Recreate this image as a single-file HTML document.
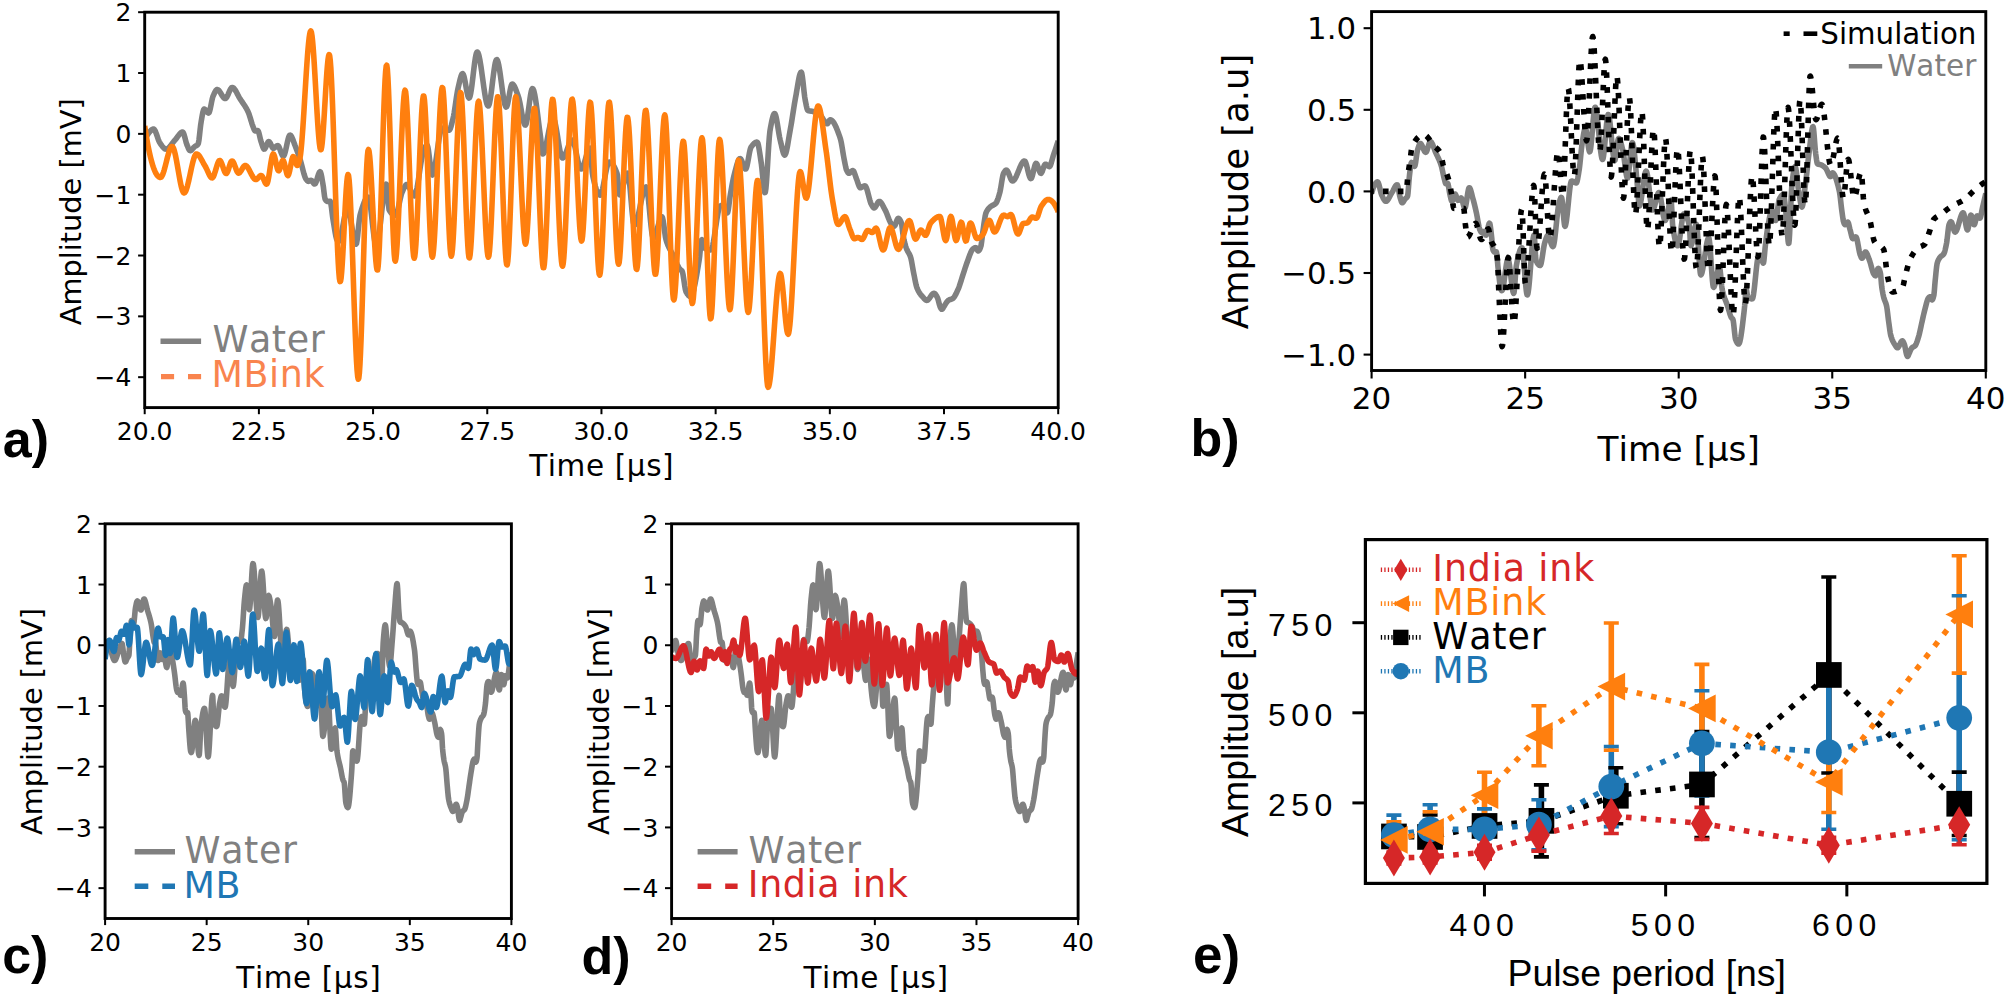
<!DOCTYPE html>
<html><head><meta charset="utf-8"><title>Figure</title>
<style>html,body{margin:0;padding:0;background:#fff}svg{display:block}text{font-kerning:none}</style>
</head><body>
<svg width="2006" height="998" viewBox="0 0 2006 998">
<rect width="2006" height="998" fill="#fff"/>
<defs>
<clipPath id="clipa"><rect x="144.70" y="12.20" width="913.50" height="395.40"/></clipPath>
<clipPath id="clipb"><rect x="1371.60" y="11.60" width="614.20" height="358.90"/></clipPath>
<clipPath id="clipc"><rect x="105.10" y="523.80" width="406.30" height="394.70"/></clipPath>
<clipPath id="clipd"><rect x="671.60" y="523.80" width="406.50" height="394.70"/></clipPath>
<clipPath id="clipe"><rect x="1365.40" y="539.60" width="621.50" height="343.80"/></clipPath>
</defs>
<polyline clip-path="url(#clipa)" points="144.70,140.96 145.27,139.50 145.84,138.10 146.41,136.79 146.98,135.62 147.55,134.61 148.13,133.80 148.70,133.06 149.27,132.33 149.84,131.63 150.41,130.98 150.98,130.39 151.55,129.89 152.12,129.50 152.69,129.22 153.26,129.08 153.83,129.15 154.41,129.65 154.98,130.55 155.55,131.75 156.12,133.18 156.69,134.77 157.26,136.44 157.83,138.10 158.40,139.69 158.97,141.12 159.54,142.32 160.12,143.22 160.69,144.02 161.26,144.83 161.83,145.63 162.40,146.39 162.97,147.10 163.54,147.74 164.11,148.28 164.68,148.71 165.25,149.01 165.82,149.15 166.40,149.12 166.97,148.96 167.54,148.68 168.11,148.28 168.68,147.80 169.25,147.23 169.82,146.59 170.39,145.90 170.96,145.18 171.53,144.42 172.11,143.65 172.68,142.89 173.25,142.13 173.82,141.41 174.39,140.73 174.96,140.10 175.53,139.47 176.10,138.77 176.67,138.02 177.24,137.23 177.81,136.43 178.39,135.64 178.96,134.88 179.53,134.16 180.10,133.52 180.67,132.97 181.24,132.53 181.81,132.23 182.38,132.08 182.95,132.23 183.52,133.16 184.09,134.70 184.67,136.67 185.24,138.86 185.81,141.08 186.38,143.13 186.95,144.80 187.52,146.14 188.09,147.55 188.66,148.87 189.23,149.94 189.80,150.56 190.38,150.63 190.95,150.39 191.52,149.96 192.09,149.40 192.66,148.75 193.23,148.08 193.80,147.43 194.37,146.85 194.94,146.40 195.51,146.06 196.08,145.75 196.66,145.43 197.23,145.01 197.80,144.44 198.37,143.38 198.94,140.18 199.51,135.42 200.08,130.06 200.65,125.08 201.22,121.39 201.79,118.07 202.36,114.78 202.94,111.92 203.51,109.88 204.08,109.07 204.65,109.23 205.22,109.69 205.79,110.34 206.36,111.08 206.93,111.83 207.50,112.47 208.07,112.92 208.64,113.06 209.22,112.36 209.79,110.66 210.36,108.25 210.93,105.43 211.50,102.48 212.07,99.71 212.64,97.40 213.21,95.82 213.78,94.52 214.35,93.24 214.93,92.05 215.50,91.02 216.07,90.20 216.64,89.66 217.21,89.48 217.78,89.61 218.35,89.99 218.92,90.56 219.49,91.29 220.06,92.14 220.63,93.07 221.21,94.03 221.78,95.00 222.35,95.93 222.92,96.77 223.49,97.50 224.06,98.07 224.63,98.44 225.20,98.57 225.77,98.36 226.34,97.78 226.92,96.90 227.49,95.80 228.06,94.54 228.63,93.20 229.20,91.85 229.77,90.56 230.34,89.41 230.91,88.47 231.48,87.80 232.05,87.49 232.62,87.54 233.20,87.80 233.77,88.26 234.34,88.88 234.91,89.63 235.48,90.51 236.05,91.48 236.62,92.51 237.19,93.59 237.76,94.69 238.33,95.79 238.90,96.87 239.48,97.89 240.05,98.83 240.62,99.71 241.19,100.55 241.76,101.38 242.33,102.21 242.90,103.03 243.47,103.86 244.04,104.71 244.61,105.58 245.18,106.48 245.76,107.42 246.33,108.41 246.90,109.45 247.47,110.55 248.04,111.73 248.61,113.03 249.18,114.58 249.75,116.32 250.32,118.19 250.89,120.11 251.47,122.02 252.04,123.86 252.61,125.54 253.18,127.01 253.75,128.48 254.32,129.93 254.89,130.90 255.46,131.05 256.03,130.93 256.60,130.77 257.17,130.62 257.75,130.57 258.32,131.26 258.89,132.91 259.46,135.15 260.03,137.64 260.60,140.03 261.17,141.98 261.74,143.67 262.31,145.47 262.88,147.15 263.46,148.44 264.03,149.11 264.60,149.00 265.17,148.29 265.74,147.18 266.31,145.83 266.88,144.42 267.45,143.13 268.02,142.14 268.59,141.60 269.16,141.68 269.74,142.30 270.31,143.28 270.88,144.48 271.45,145.72 272.02,146.86 272.59,147.72 273.16,148.14 273.73,148.09 274.30,147.84 274.87,147.45 275.44,147.00 276.02,146.53 276.59,146.10 277.16,145.80 277.73,145.66 278.30,145.90 278.87,146.70 279.44,147.90 280.01,149.39 280.58,151.00 281.15,152.61 281.73,154.07 282.30,155.23 282.87,155.97 283.44,156.13 284.01,155.50 284.58,154.14 285.15,152.22 285.72,149.88 286.29,147.29 286.86,144.60 287.43,141.97 288.01,139.56 288.58,137.51 289.15,136.00 289.72,135.17 290.29,135.12 290.86,135.56 291.43,136.37 292.00,137.49 292.57,138.83 293.14,140.32 293.71,141.90 294.29,143.50 294.86,145.04 295.43,146.47 296.00,147.89 296.57,149.37 297.14,150.92 297.71,152.51 298.28,154.15 298.85,155.82 299.42,157.51 299.99,159.23 300.57,160.99 301.14,162.96 301.71,165.11 302.28,167.36 302.85,169.63 303.42,171.84 303.99,173.92 304.56,175.79 305.13,177.37 305.70,178.59 306.28,179.42 306.85,180.16 307.42,180.78 307.99,181.21 308.56,181.34 309.13,181.17 309.70,180.83 310.27,180.47 310.84,180.26 311.41,180.38 311.98,180.91 312.56,181.70 313.13,182.57 313.70,183.36 314.27,183.90 314.84,184.02 315.41,183.46 315.98,182.30 316.55,180.70 317.12,178.84 317.69,176.90 318.26,175.04 318.84,173.46 319.41,172.31 319.98,171.77 320.55,172.24 321.12,174.05 321.69,176.82 322.26,180.11 322.83,183.52 323.40,187.05 323.97,191.87 324.55,196.50 325.12,199.07 325.69,200.01 326.26,200.75 326.83,201.27 327.40,201.52 327.97,201.52 328.54,201.44 329.11,201.34 329.68,201.26 330.25,201.34 330.83,203.26 331.40,206.95 331.97,211.56 332.54,216.23 333.11,220.09 333.68,223.46 334.25,227.01 334.82,230.54 335.39,233.82 335.96,236.66 336.53,238.83 337.11,240.14 337.68,240.89 338.25,241.37 338.82,241.31 339.39,240.54 339.96,239.14 340.53,237.22 341.10,234.87 341.67,232.18 342.24,229.27 342.82,226.23 343.39,223.15 343.96,220.14 344.53,217.30 345.10,214.72 345.67,212.51 346.24,210.77 346.81,209.58 347.38,209.06 347.95,209.33 348.52,210.43 349.10,212.23 349.67,214.62 350.24,217.46 350.81,220.64 351.38,224.03 351.95,227.52 352.52,230.97 353.09,234.26 353.66,237.28 354.23,239.89 354.81,241.98 355.38,243.42 355.95,244.09 356.52,243.38 357.09,240.34 357.66,235.65 358.23,230.08 358.80,224.39 359.37,219.34 359.94,215.69 360.51,213.55 361.09,211.55 361.66,209.62 362.23,207.78 362.80,206.03 363.37,204.40 363.94,202.89 364.51,201.53 365.08,200.31 365.65,199.27 366.22,198.41 366.79,197.75 367.37,197.30 367.94,197.07 368.51,197.25 369.08,198.65 369.65,201.19 370.22,204.67 370.79,208.89 371.36,213.62 371.93,218.68 372.50,223.84 373.07,228.91 373.65,233.67 374.22,237.92 374.79,241.45 375.36,244.06 375.93,245.53 376.50,245.70 377.07,244.70 377.64,242.71 378.21,239.85 378.78,236.28 379.36,232.11 379.93,227.48 380.50,222.52 381.07,217.37 381.64,212.15 382.21,207.01 382.78,202.06 383.35,197.46 383.92,193.32 384.49,189.78 385.06,186.98 385.64,185.05 386.21,184.11 386.78,185.26 387.35,190.60 387.92,198.04 388.49,205.18 389.06,209.63 389.63,210.76 390.20,211.64 390.77,212.42 391.34,213.11 391.92,213.70 392.49,214.19 393.06,214.60 393.63,214.92 394.20,215.14 394.77,215.28 395.34,215.34 395.91,215.04 396.48,214.07 397.05,212.53 397.63,210.55 398.20,208.23 398.77,205.69 399.34,203.04 399.91,200.39 400.48,197.85 401.05,195.54 401.62,193.57 402.19,192.06 402.76,190.78 403.33,189.48 403.91,188.21 404.48,187.04 405.05,186.01 405.62,185.20 406.19,184.66 406.76,184.45 407.33,184.61 407.90,185.10 408.47,185.87 409.04,186.86 409.62,188.01 410.19,189.26 410.76,190.55 411.33,191.82 411.90,193.03 412.47,194.09 413.04,194.97 413.61,195.60 414.18,195.91 414.75,195.77 415.32,194.84 415.90,193.17 416.47,190.88 417.04,188.06 417.61,184.82 418.18,181.26 418.75,177.49 419.32,173.61 419.89,169.71 420.46,165.91 421.03,162.30 421.60,159.00 422.18,156.10 422.75,153.70 423.32,151.91 423.89,150.41 424.46,148.92 425.03,147.53 425.60,146.35 426.17,145.48 426.74,145.01 427.31,145.26 427.88,147.19 428.46,150.50 429.03,154.76 429.60,159.51 430.17,164.30 430.74,168.68 431.31,172.20 431.88,174.42 432.45,174.91 433.02,174.22 433.59,172.72 434.17,170.51 434.74,167.71 435.31,164.44 435.88,160.79 436.45,156.89 437.02,152.84 437.59,148.76 438.16,144.76 438.73,140.94 439.30,137.42 439.87,134.30 440.45,131.71 441.02,129.75 441.59,128.53 442.16,128.16 442.73,128.21 443.30,128.32 443.87,128.48 444.44,128.69 445.01,128.91 445.58,129.16 446.16,129.40 446.73,129.63 447.30,129.83 447.87,130.00 448.44,130.11 449.01,130.16 449.58,129.89 450.15,128.92 450.72,127.39 451.29,125.45 451.86,123.23 452.44,120.88 453.01,118.54 453.58,116.02 454.15,112.89 454.72,109.30 455.29,105.42 455.86,101.43 456.43,97.51 457.00,93.83 457.57,90.57 458.14,87.89 458.72,85.42 459.29,82.90 459.86,80.45 460.43,78.19 461.00,76.25 461.57,74.75 462.14,73.83 462.71,73.60 463.28,74.34 463.85,75.96 464.42,78.29 465.00,81.11 465.57,84.23 466.14,87.45 466.71,90.57 467.28,93.39 467.85,95.71 468.42,97.33 468.99,98.05 469.56,97.64 470.13,96.01 470.71,93.36 471.28,89.88 471.85,85.77 472.42,81.21 472.99,76.40 473.56,71.54 474.13,66.82 474.70,62.43 475.27,58.57 475.84,55.43 476.41,53.20 476.99,52.08 477.56,52.15 478.13,53.08 478.70,54.72 479.27,57.01 479.84,59.84 480.41,63.12 480.98,66.77 481.55,70.69 482.12,74.80 482.69,78.99 483.27,83.19 483.84,87.29 484.41,91.22 484.98,94.87 485.55,98.16 486.12,101.00 486.69,103.30 487.26,104.96 487.83,105.89 488.40,105.99 488.98,104.98 489.55,102.93 490.12,100.03 490.69,96.43 491.26,92.31 491.83,87.84 492.40,83.18 492.97,78.51 493.54,73.99 494.11,69.80 494.68,66.10 495.26,63.06 495.83,60.86 496.40,59.66 496.97,59.60 497.54,60.53 498.11,62.32 498.68,64.83 499.25,67.94 499.82,71.53 500.39,75.47 500.96,79.65 501.54,83.92 502.11,88.18 502.68,92.30 503.25,96.15 503.82,99.60 504.39,102.55 504.96,104.85 505.53,106.40 506.10,107.06 506.67,106.66 507.25,105.22 507.82,102.96 508.39,100.13 508.96,96.96 509.53,93.69 510.10,90.56 510.67,87.80 511.24,85.65 511.81,84.35 512.38,84.10 512.95,84.38 513.53,84.97 514.10,85.82 514.67,86.90 515.24,88.17 515.81,89.58 516.38,91.08 516.95,92.65 517.52,94.23 518.09,95.79 518.66,97.51 519.24,99.76 519.81,102.42 520.38,105.39 520.95,108.52 521.52,111.71 522.09,114.82 522.66,117.73 523.23,120.33 523.80,122.49 524.37,124.09 524.94,125.00 525.52,125.07 526.09,123.95 526.66,121.75 527.23,118.70 527.80,115.00 528.37,110.88 528.94,106.56 529.51,102.25 530.08,98.18 530.65,94.56 531.22,91.61 531.80,89.56 532.37,88.61 532.94,88.84 533.51,89.94 534.08,91.80 534.65,94.32 535.22,97.42 535.79,101.00 536.36,104.96 536.93,109.22 537.51,113.67 538.08,118.22 538.65,122.78 539.22,127.25 539.79,131.55 540.36,135.58 540.93,140.56 541.50,146.27 542.07,151.21 542.64,153.90 543.21,153.88 543.79,153.11 544.36,151.79 544.93,150.00 545.50,147.82 546.07,145.31 546.64,142.56 547.21,139.65 547.78,136.64 548.35,133.61 548.92,130.65 549.49,127.82 550.07,125.21 550.64,122.88 551.21,120.92 551.78,119.40 552.35,118.39 552.92,117.97 553.49,118.27 554.06,119.33 554.63,121.05 555.20,123.34 555.77,126.08 556.35,129.18 556.92,132.54 557.49,136.06 558.06,139.63 558.63,143.16 559.20,146.53 559.77,149.66 560.34,152.45 560.91,154.78 561.48,156.56 562.06,157.68 562.63,158.05 563.20,157.85 563.77,157.30 564.34,156.47 564.91,155.38 565.48,154.09 566.05,152.65 566.62,151.11 567.19,149.50 567.76,147.88 568.34,146.30 568.91,144.79 569.48,143.42 570.05,142.21 570.62,141.23 571.19,140.52 571.76,140.13 572.33,140.12 572.90,140.71 573.47,141.88 574.04,143.54 574.62,145.59 575.19,147.95 575.76,150.53 576.33,153.25 576.90,156.00 577.47,158.71 578.04,161.28 578.61,163.63 579.18,165.67 579.75,167.30 580.33,168.44 580.90,169.01 581.47,168.95 582.04,168.41 582.61,167.48 583.18,166.20 583.75,164.66 584.32,162.91 584.89,161.01 585.46,159.03 586.03,157.04 586.61,155.09 587.18,153.26 587.75,151.61 588.32,150.20 588.89,149.09 589.46,148.36 590.03,148.06 590.60,150.49 591.17,157.41 591.74,165.88 592.32,172.91 592.89,176.30 593.46,178.90 594.03,181.34 594.60,183.63 595.17,185.75 595.74,187.68 596.31,189.42 596.88,190.95 597.45,192.27 598.02,193.35 598.60,194.18 599.17,194.77 599.74,195.08 600.31,195.09 600.88,194.46 601.45,193.17 602.02,191.34 602.59,189.06 603.16,186.42 603.73,183.53 604.30,180.48 604.88,177.37 605.45,174.30 606.02,171.36 606.59,168.66 607.16,166.30 607.73,164.36 608.30,162.96 608.87,162.18 609.44,162.06 610.01,162.18 610.59,162.41 611.16,162.77 611.73,163.25 612.30,163.85 612.87,164.57 613.44,165.42 614.01,166.38 614.58,167.48 615.15,168.69 615.72,170.02 616.29,171.48 616.87,173.06 617.44,175.29 618.01,181.39 618.58,188.95 619.15,194.26 619.72,194.85 620.29,194.24 620.86,193.14 621.43,191.65 622.00,189.83 622.57,187.78 623.15,185.59 623.72,183.34 624.29,181.11 624.86,178.99 625.43,177.07 626.00,175.43 626.57,174.15 627.14,173.33 627.71,173.05 628.28,174.20 628.86,177.28 629.43,181.87 630.00,187.58 630.57,194.00 631.14,200.73 631.71,207.36 632.28,213.49 632.85,218.71 633.42,222.62 633.99,224.81 634.56,225.08 635.14,224.59 635.71,223.63 636.28,222.28 636.85,220.56 637.42,218.54 637.99,216.27 638.56,213.79 639.13,211.17 639.70,208.45 640.27,205.68 640.84,202.92 641.42,200.22 641.99,197.63 642.56,195.20 643.13,192.99 643.70,191.04 644.27,189.41 644.84,188.16 645.41,187.32 645.98,186.96 646.55,187.53 647.12,189.75 647.70,193.35 648.27,198.02 648.84,203.45 649.41,209.35 649.98,215.40 650.55,221.30 651.12,226.75 651.69,231.44 652.26,235.06 652.83,237.32 653.41,237.92 653.98,237.57 654.55,236.75 655.12,235.55 655.69,234.03 656.26,232.27 656.83,230.33 657.40,228.28 657.97,226.21 658.54,224.18 659.11,222.26 659.69,220.52 660.26,219.04 660.83,217.88 661.40,217.12 661.97,216.84 662.54,217.74 663.11,220.31 663.68,224.02 664.25,228.33 664.82,232.71 665.39,236.63 665.97,239.55 666.54,241.40 667.11,243.05 667.68,244.55 668.25,245.92 668.82,247.19 669.39,248.36 669.96,249.47 670.53,250.52 671.10,251.54 671.68,252.55 672.25,253.56 672.82,254.60 673.39,255.68 673.96,256.83 674.53,258.06 675.10,259.38 675.67,260.75 676.24,262.14 676.81,263.51 677.38,264.84 677.96,266.10 678.53,267.23 679.10,268.23 679.67,269.04 680.24,269.64 680.81,270.02 681.38,270.36 681.95,270.86 682.52,272.23 683.09,274.94 683.66,278.50 684.24,282.43 684.81,286.24 685.38,289.46 685.95,291.59 686.52,292.63 687.09,293.55 687.66,294.38 688.23,295.10 688.80,295.69 689.37,296.14 689.95,296.42 690.52,296.51 691.09,296.25 691.66,295.53 692.23,294.38 692.80,292.83 693.37,290.94 693.94,288.73 694.51,286.23 695.08,283.50 695.65,280.55 696.23,277.44 696.80,274.20 697.37,270.86 697.94,267.46 698.51,264.04 699.08,260.63 699.65,256.37 700.22,250.33 700.79,244.32 701.36,240.21 701.94,239.63 702.51,241.40 703.08,244.10 703.65,246.65 704.22,247.94 704.79,248.28 705.36,248.59 705.93,248.87 706.50,249.11 707.07,249.32 707.64,249.49 708.22,249.64 708.79,249.75 709.36,249.84 709.93,249.89 710.50,249.92 711.07,249.82 711.64,248.97 712.21,247.35 712.78,245.07 713.35,242.24 713.92,238.98 714.50,235.39 715.07,231.59 715.64,227.68 716.21,223.78 716.78,220.00 717.35,216.45 717.92,213.24 718.49,210.48 719.06,208.29 719.63,206.77 720.21,206.04 720.78,205.74 721.35,205.47 721.92,205.24 722.49,205.07 723.06,204.96 723.63,204.97 724.20,205.67 724.77,207.05 725.34,208.81 725.91,210.59 726.49,212.08 727.06,212.94 727.63,212.62 728.20,210.22 728.77,206.38 729.34,201.88 729.91,197.52 730.48,194.02 731.05,190.74 731.62,187.44 732.19,184.22 732.77,181.16 733.34,178.35 733.91,175.89 734.48,173.73 735.05,171.54 735.62,169.35 736.19,167.22 736.76,165.19 737.33,163.34 737.90,161.71 738.47,160.36 739.05,159.34 739.62,158.73 740.19,158.56 740.76,158.97 741.33,159.89 741.90,161.19 742.47,162.73 743.04,164.35 743.61,165.93 744.18,167.32 744.76,168.38 745.33,168.97 745.90,168.89 746.47,167.74 747.04,165.71 747.61,163.03 748.18,159.96 748.75,156.73 749.32,153.60 749.89,150.79 750.46,148.56 751.04,147.15 751.61,146.37 752.18,145.62 752.75,144.93 753.32,144.28 753.89,143.71 754.46,143.20 755.03,142.78 755.60,142.45 756.17,142.21 756.74,142.08 757.32,142.16 757.89,143.31 758.46,145.54 759.03,148.57 759.60,152.13 760.17,155.96 760.74,159.78 761.31,163.48 761.88,168.36 762.45,174.18 763.03,180.23 763.60,185.80 764.17,190.18 764.74,192.64 765.31,192.38 765.88,188.67 766.45,182.20 767.02,173.80 767.59,164.28 768.16,154.47 768.73,145.18 769.31,137.24 769.88,131.46 770.45,128.03 771.02,124.93 771.59,122.01 772.16,119.37 772.73,117.10 773.30,115.30 773.87,114.07 774.44,113.50 775.01,113.77 775.59,115.09 776.16,117.27 776.73,120.12 777.30,123.42 777.87,126.99 778.44,130.61 779.01,134.10 779.58,137.26 780.15,139.88 780.72,142.22 781.30,144.73 781.87,147.28 782.44,149.69 783.01,151.83 783.58,153.54 784.15,154.67 784.72,155.05 785.29,154.54 785.86,153.18 786.43,151.11 787.00,148.48 787.58,145.43 788.15,142.10 788.72,138.64 789.29,135.19 789.86,131.90 790.43,128.84 791.00,125.62 791.57,122.18 792.14,118.58 792.71,114.90 793.29,111.20 793.86,107.56 794.43,104.04 795.00,100.70 795.57,97.61 796.14,94.45 796.71,91.06 797.28,87.59 797.85,84.16 798.42,80.92 798.99,77.99 799.57,75.51 800.14,73.61 800.71,72.43 801.28,72.11 801.85,73.61 802.42,77.01 802.99,81.68 803.56,86.97 804.13,92.26 804.70,96.92 805.27,100.34 805.85,103.27 806.42,106.12 806.99,108.52 807.56,110.09 808.13,110.56 808.70,110.74 809.27,110.87 809.84,110.97 810.41,111.05 810.98,111.12 811.56,111.19 812.13,111.28 812.70,111.39 813.27,111.54 813.84,111.72 814.41,111.93 814.98,112.15 815.55,112.39 816.12,112.66 816.69,112.94 817.26,113.25 817.84,113.57 818.41,113.92 818.98,114.28 819.55,114.66 820.12,115.06 820.69,115.58 821.26,116.26 821.83,117.06 822.40,117.93 822.97,118.85 823.54,119.79 824.12,120.69 824.69,121.54 825.26,122.29 825.83,122.91 826.40,123.37 826.97,123.62 827.54,123.59 828.11,122.92 828.68,121.85 829.25,120.74 829.83,119.94 830.40,119.78 830.97,119.91 831.54,120.21 832.11,120.65 832.68,121.23 833.25,121.94 833.82,122.78 834.39,123.74 834.96,124.80 835.53,125.96 836.11,127.21 836.68,128.55 837.25,129.96 837.82,131.44 838.39,132.98 838.96,134.57 839.53,136.20 840.10,137.87 840.67,139.75 841.24,142.32 841.81,145.44 842.39,148.89 842.96,152.45 843.53,155.91 844.10,159.06 844.67,161.88 845.24,164.81 845.81,167.53 846.38,169.66 846.95,170.94 847.52,171.96 848.09,172.76 848.67,173.20 849.24,173.19 849.81,172.90 850.38,172.42 850.95,171.85 851.52,171.29 852.09,170.84 852.66,170.58 853.23,170.69 853.80,171.48 854.38,172.81 854.95,174.45 855.52,176.22 856.09,177.90 856.66,179.33 857.23,180.86 857.80,182.56 858.37,184.24 858.94,185.76 859.51,186.95 860.08,187.64 860.66,187.73 861.23,187.58 861.80,187.31 862.37,186.97 862.94,186.61 863.51,186.28 864.08,186.01 864.65,185.86 865.22,185.95 865.79,186.61 866.36,187.79 866.94,189.38 867.51,191.29 868.08,193.40 868.65,195.62 869.22,197.83 869.79,199.95 870.36,201.86 870.93,203.46 871.50,204.64 872.07,205.63 872.65,206.59 873.22,207.38 873.79,207.86 874.36,207.89 874.93,207.50 875.50,206.78 876.07,205.85 876.64,204.80 877.21,203.74 877.78,202.78 878.35,202.01 878.93,201.54 879.50,201.46 880.07,201.69 880.64,202.17 881.21,202.86 881.78,203.71 882.35,204.69 882.92,205.75 883.49,206.87 884.06,208.00 884.64,209.09 885.21,210.13 885.78,211.26 886.35,212.54 886.92,213.95 887.49,215.42 888.06,216.92 888.63,218.41 889.20,219.83 889.77,221.16 890.34,222.35 890.92,223.34 891.49,224.11 892.06,224.71 892.63,225.27 893.20,225.75 893.77,226.05 894.34,226.10 894.91,225.48 895.48,224.24 896.05,222.66 896.62,221.01 897.20,219.56 897.77,218.59 898.34,218.35 898.91,218.60 899.48,219.18 900.05,220.03 900.62,221.12 901.19,222.42 901.76,224.52 902.33,228.89 902.90,233.88 903.48,237.60 904.05,240.24 904.62,242.58 905.19,244.67 905.76,246.53 906.33,248.20 906.90,249.67 907.47,250.87 908.04,251.89 908.61,252.83 909.19,253.81 909.76,254.94 910.33,256.33 910.90,258.20 911.47,260.80 912.04,263.89 912.61,267.20 913.18,270.49 913.75,273.49 914.32,276.32 914.89,279.26 915.47,282.13 916.04,284.74 916.61,286.89 917.18,288.44 917.75,289.70 918.32,290.85 918.89,291.88 919.46,292.82 920.03,293.67 920.60,294.45 921.17,295.17 921.75,295.84 922.32,296.48 922.89,297.10 923.46,297.73 924.03,298.39 924.60,299.02 925.17,299.59 925.74,300.04 926.31,300.32 926.88,300.41 927.46,300.24 928.03,299.85 928.60,299.29 929.17,298.59 929.74,297.79 930.31,296.94 930.88,296.09 931.45,295.28 932.02,294.54 932.59,293.93 933.16,293.48 933.74,293.24 934.31,293.26 934.88,293.62 935.45,294.25 936.02,295.08 936.59,296.04 937.16,297.04 937.73,298.38 938.30,300.30 938.87,302.50 939.45,304.67 940.02,306.52 940.59,307.75 941.16,308.68 941.73,309.32 942.30,309.26 942.87,308.43 943.44,307.33 944.01,306.44 944.58,305.54 945.15,304.60 945.73,303.65 946.30,302.75 946.87,301.91 947.44,301.20 948.01,300.63 948.58,300.23 949.15,299.94 949.72,299.71 950.29,299.52 950.86,299.34 951.43,299.15 952.01,298.91 952.58,298.62 953.15,298.22 953.72,297.64 954.29,296.90 954.86,296.00 955.43,294.98 956.00,293.86 956.57,292.67 957.14,291.43 957.71,290.17 958.29,288.89 958.86,287.48 959.43,285.91 960.00,284.22 960.57,282.44 961.14,280.61 961.71,278.75 962.28,276.90 962.85,275.08 963.42,273.34 964.00,271.59 964.57,269.81 965.14,268.02 965.71,266.27 966.28,264.57 966.85,262.96 967.42,261.44 967.99,259.89 968.56,258.30 969.13,256.71 969.70,255.15 970.28,253.68 970.85,252.32 971.42,251.12 971.99,250.11 972.56,249.34 973.13,248.83 973.70,248.43 974.27,248.07 974.84,247.80 975.41,247.65 975.99,247.74 976.56,248.46 977.13,249.52 977.70,250.48 978.27,250.92 978.84,250.68 979.41,249.93 979.98,248.78 980.55,247.32 981.12,245.42 981.69,241.42 982.27,236.32 982.84,231.79 983.41,227.79 983.98,223.69 984.55,219.79 985.12,216.38 985.69,213.76 986.26,212.19 986.83,211.07 987.40,210.11 987.97,209.30 988.55,208.60 989.12,207.99 989.69,207.44 990.26,206.93 990.83,206.45 991.40,206.04 991.97,205.71 992.54,205.42 993.11,205.16 993.68,204.88 994.26,204.57 994.83,204.19 995.40,203.73 995.97,203.15 996.54,202.24 997.11,201.01 997.68,199.52 998.25,197.81 998.82,195.95 999.39,194.01 999.96,191.92 1000.54,189.10 1001.11,185.74 1001.68,182.18 1002.25,178.74 1002.82,175.79 1003.39,173.65 1003.96,172.53 1004.53,171.66 1005.10,170.93 1005.67,170.41 1006.24,170.16 1006.82,170.29 1007.39,170.91 1007.96,171.90 1008.53,173.18 1009.10,174.62 1009.67,176.13 1010.24,177.60 1010.81,178.92 1011.38,179.99 1011.95,180.70 1012.52,180.95 1013.10,180.80 1013.67,180.42 1014.24,179.81 1014.81,179.01 1015.38,178.05 1015.95,176.94 1016.52,175.72 1017.09,174.40 1017.66,173.03 1018.23,171.61 1018.81,170.19 1019.38,168.78 1019.95,167.40 1020.52,166.10 1021.09,164.88 1021.66,163.78 1022.23,162.83 1022.80,162.04 1023.37,161.45 1023.94,161.08 1024.51,160.95 1025.09,161.37 1025.66,162.48 1026.23,164.12 1026.80,166.16 1027.37,168.43 1027.94,170.79 1028.51,173.09 1029.08,175.18 1029.65,176.89 1030.22,178.10 1030.80,178.63 1031.37,178.30 1031.94,177.07 1032.51,175.16 1033.08,172.84 1033.65,170.34 1034.22,167.90 1034.79,165.77 1035.36,164.19 1035.93,163.40 1036.50,163.55 1037.08,164.42 1037.65,165.80 1038.22,167.47 1038.79,169.25 1039.36,170.92 1039.93,172.29 1040.50,173.15 1041.07,173.31 1041.64,172.68 1042.21,171.46 1042.78,169.86 1043.36,168.12 1043.93,166.46 1044.50,165.11 1045.07,164.29 1045.64,164.18 1046.21,164.42 1046.78,164.84 1047.35,165.36 1047.92,165.88 1048.49,166.32 1049.06,166.60 1049.64,166.58 1050.21,165.84 1050.78,164.46 1051.35,162.63 1051.92,160.56 1052.49,158.42 1053.06,156.41 1053.63,154.68 1054.20,153.01 1054.77,151.32 1055.35,149.63 1055.92,147.92 1056.49,146.20 1057.06,144.47 1057.63,142.72 1058.20,140.96" fill="none" stroke="#808080" stroke-width="5.6" stroke-linejoin="round" stroke-linecap="butt" />
<polyline clip-path="url(#clipa)" points="144.70,125.96 145.27,129.70 145.84,133.29 146.41,136.74 146.98,140.04 147.55,143.20 148.13,146.21 148.70,149.07 149.27,151.80 149.84,154.38 150.41,156.82 150.98,159.13 151.55,161.29 152.12,163.31 152.69,165.19 153.26,166.94 153.83,168.55 154.41,170.02 154.98,171.36 155.55,172.56 156.12,173.63 156.69,174.57 157.26,175.37 157.83,176.04 158.40,176.58 158.97,176.99 159.54,177.27 160.12,177.42 160.69,177.42 161.26,177.07 161.83,176.32 162.40,175.23 162.97,173.83 163.54,172.18 164.11,170.31 164.68,168.27 165.25,166.10 165.82,163.85 166.40,161.57 166.97,159.29 167.54,157.07 168.11,154.94 168.68,152.95 169.25,151.15 169.82,149.58 170.39,148.27 170.96,147.29 171.53,146.67 172.11,146.46 172.68,146.77 173.25,147.65 173.82,149.04 174.39,150.89 174.96,153.12 175.53,155.68 176.10,158.52 176.67,161.56 177.24,164.76 177.81,168.04 178.39,171.36 178.96,174.64 179.53,177.84 180.10,180.88 180.67,183.72 181.24,186.28 181.81,188.51 182.38,190.36 182.95,191.75 183.52,192.63 184.09,192.94 184.67,192.71 185.24,192.02 185.81,190.93 186.38,189.48 186.95,187.71 187.52,185.68 188.09,183.43 188.66,180.99 189.23,178.43 189.80,175.78 190.38,173.10 190.95,170.41 191.52,167.78 192.09,165.25 192.66,162.86 193.23,160.66 193.80,158.69 194.37,157.01 194.94,155.65 195.51,154.66 196.08,154.08 196.66,153.96 197.23,154.11 197.80,154.44 198.37,154.93 198.94,155.56 199.51,156.31 200.08,157.16 200.65,158.09 201.22,159.09 201.79,160.13 202.36,161.19 202.94,162.27 203.51,163.33 204.08,164.35 204.65,165.33 205.22,166.24 205.79,167.24 206.36,168.38 206.93,169.61 207.50,170.90 208.07,172.19 208.64,173.45 209.22,174.63 209.79,175.70 210.36,176.61 210.93,177.31 211.50,177.77 212.07,177.95 212.64,177.69 213.21,176.93 213.78,175.75 214.35,174.24 214.93,172.49 215.50,170.59 216.07,168.62 216.64,166.68 217.21,164.86 217.78,163.24 218.35,161.91 218.92,160.97 219.49,160.49 220.06,160.57 220.63,161.19 221.21,162.24 221.78,163.61 222.35,165.20 222.92,166.91 223.49,168.62 224.06,170.23 224.63,171.63 225.20,172.72 225.77,173.39 226.34,173.53 226.92,173.02 227.49,171.97 228.06,170.50 228.63,168.78 229.20,166.93 229.77,165.11 230.34,163.46 230.91,162.12 231.48,161.24 232.05,160.96 232.62,161.26 233.20,162.01 233.77,163.11 234.34,164.46 234.91,165.97 235.48,167.55 236.05,169.09 236.62,170.52 237.19,171.72 237.76,172.61 238.33,173.09 238.90,173.10 239.48,172.78 240.05,172.20 240.62,171.43 241.19,170.53 241.76,169.55 242.33,168.55 242.90,167.60 243.47,166.76 244.04,166.08 244.61,165.62 245.18,165.45 245.76,165.56 246.33,165.90 246.90,166.42 247.47,167.11 248.04,167.94 248.61,168.89 249.18,169.92 249.75,171.02 250.32,172.15 250.89,173.28 251.47,174.40 252.04,175.48 252.61,176.48 253.18,177.39 253.75,178.17 254.32,178.80 254.89,179.25 255.46,179.50 256.03,179.52 256.60,179.30 257.17,178.89 257.75,178.33 258.32,177.71 258.89,177.06 259.46,176.45 260.03,175.94 260.60,175.59 261.17,175.45 261.74,175.70 262.31,176.42 262.88,177.48 263.46,178.77 264.03,180.15 264.60,181.51 265.17,182.72 265.74,183.65 266.31,184.17 266.88,184.09 267.45,182.90 268.02,180.73 268.59,177.80 269.16,174.33 269.74,170.55 270.31,166.69 270.88,162.97 271.45,159.62 272.02,156.85 272.59,154.90 273.16,153.99 273.73,154.28 274.30,155.55 274.87,157.56 275.44,160.05 276.02,162.77 276.59,165.46 277.16,167.86 277.73,169.72 278.30,170.79 278.87,170.83 279.44,169.94 280.01,168.38 280.58,166.43 281.15,164.38 281.73,162.51 282.30,161.08 282.87,160.38 283.44,160.70 284.01,162.02 284.58,164.07 285.15,166.57 285.72,169.21 286.29,171.72 286.86,173.80 287.43,175.16 288.01,175.53 288.58,174.73 289.15,172.98 289.72,170.54 290.29,167.68 290.86,164.68 291.43,161.81 292.00,159.32 292.57,157.49 293.14,156.60 293.71,156.82 294.29,157.92 294.86,159.58 295.43,161.48 296.00,163.31 296.57,164.76 297.14,165.51 297.71,165.29 298.28,164.21 298.85,162.54 299.42,160.57 299.99,158.19 300.57,154.41 301.14,149.31 301.71,143.09 302.28,135.90 302.85,127.93 303.42,119.34 303.99,110.32 304.56,101.03 305.13,91.64 305.70,82.34 306.28,73.30 306.85,64.69 307.42,56.67 307.99,49.44 308.56,43.16 309.13,38.00 309.70,34.13 310.27,31.74 310.84,31.00 311.41,32.28 311.98,35.61 312.56,40.71 313.13,47.32 313.70,55.17 314.27,64.00 314.84,73.54 315.41,83.54 315.98,93.71 316.55,103.80 317.12,113.53 317.69,122.66 318.26,130.90 318.84,137.99 319.41,143.67 319.98,147.68 320.55,149.73 321.12,149.55 321.69,146.96 322.26,142.29 322.83,135.89 323.40,128.13 323.97,119.36 324.55,109.94 325.12,100.24 325.69,90.61 326.26,81.41 326.83,73.01 327.40,65.76 327.97,60.02 328.54,56.15 329.11,54.52 329.68,55.77 330.25,60.36 330.83,67.92 331.40,78.07 331.97,90.43 332.54,104.62 333.11,120.25 333.68,136.94 334.25,154.31 334.82,171.99 335.39,189.58 335.96,206.71 336.53,223.00 337.11,238.06 337.68,251.51 338.25,262.97 338.82,272.06 339.39,278.39 339.96,281.60 340.53,281.36 341.10,278.03 341.67,272.09 342.24,264.05 342.82,254.38 343.39,243.57 343.96,232.11 344.53,220.49 345.10,209.19 345.67,198.70 346.24,189.50 346.81,182.09 347.38,176.94 347.95,174.56 348.52,175.47 349.10,179.82 349.67,187.23 350.24,197.26 350.81,209.51 351.38,223.54 351.95,238.95 352.52,255.31 353.09,272.21 353.66,289.22 354.23,305.93 354.81,321.91 355.38,336.76 355.95,350.05 356.52,361.35 357.09,370.27 357.66,376.36 358.23,379.22 358.80,378.30 359.37,373.28 359.94,364.64 360.51,352.89 361.09,338.55 361.66,322.12 362.23,304.13 362.80,285.08 363.37,265.49 363.94,245.87 364.51,226.74 365.08,208.60 365.65,191.98 366.22,177.39 366.79,165.33 367.37,156.33 367.94,150.89 368.51,149.51 369.08,151.42 369.65,155.80 370.22,162.30 370.79,170.54 371.36,180.14 371.93,190.74 372.50,201.98 373.07,213.46 373.65,224.84 374.22,235.73 374.79,245.76 375.36,254.57 375.93,261.79 376.50,267.04 377.07,269.95 377.64,270.00 378.21,265.88 378.78,257.86 379.36,246.52 379.93,232.46 380.50,216.25 381.07,198.49 381.64,179.77 382.21,160.67 382.78,141.79 383.35,123.72 383.92,107.05 384.49,92.36 385.06,80.24 385.64,71.28 386.21,66.08 386.78,65.23 387.35,69.18 387.92,77.42 388.49,89.26 389.06,104.00 389.63,120.97 390.20,139.46 390.77,158.79 391.34,178.28 391.92,197.23 392.49,214.95 393.06,230.76 393.63,243.96 394.20,253.87 394.77,259.80 395.34,261.12 395.91,258.69 396.48,253.34 397.05,245.46 397.63,235.44 398.20,223.68 398.77,210.57 399.34,196.51 399.91,181.89 400.48,167.10 401.05,152.54 401.62,138.61 402.19,125.68 402.76,114.17 403.33,104.46 403.91,96.95 404.48,92.03 405.05,90.09 405.62,91.65 406.19,96.73 406.76,104.83 407.33,115.44 407.90,128.09 408.47,142.26 409.04,157.45 409.62,173.18 410.19,188.93 410.76,204.22 411.33,218.54 411.90,231.40 412.47,242.30 413.04,250.73 413.61,256.20 414.18,258.22 414.75,256.60 415.32,251.80 415.90,244.26 416.47,234.42 417.04,222.71 417.61,209.58 418.18,195.46 418.75,180.79 419.32,166.00 419.89,151.54 420.46,137.83 421.03,125.32 421.60,114.45 422.18,105.65 422.75,99.35 423.32,96.01 423.89,96.09 424.46,99.99 425.03,107.24 425.60,117.30 426.17,129.61 426.74,143.62 427.31,158.80 427.88,174.59 428.46,190.44 429.03,205.80 429.60,220.13 430.17,232.87 430.74,243.49 431.31,251.43 431.88,256.14 432.45,257.11 433.02,254.73 433.59,249.56 434.17,241.97 434.74,232.33 435.31,221.00 435.88,208.35 436.45,194.75 437.02,180.57 437.59,166.17 438.16,151.93 438.73,138.22 439.30,125.40 439.87,113.84 440.45,103.90 441.02,95.97 441.59,90.40 442.16,87.56 442.73,87.95 443.30,92.11 443.87,99.60 444.44,109.88 445.01,122.42 445.58,136.68 446.16,152.12 446.73,168.22 447.30,184.43 447.87,200.23 448.44,215.07 449.01,228.42 449.58,239.74 450.15,248.51 450.72,254.18 451.29,256.22 451.86,254.48 452.44,249.49 453.01,241.69 453.58,231.55 454.15,219.51 454.72,206.04 455.29,191.58 455.86,176.60 456.43,161.55 457.00,146.88 457.57,133.06 458.14,120.52 458.72,109.74 459.29,101.16 459.86,95.24 460.43,92.44 461.00,93.29 461.57,98.01 462.14,106.05 462.71,116.87 463.28,129.89 463.85,144.56 464.42,160.30 465.00,176.56 465.57,192.78 466.14,208.39 466.71,222.83 467.28,235.53 467.85,245.94 468.42,253.49 468.99,257.61 469.56,257.85 470.13,254.66 470.71,248.55 471.28,239.96 471.85,229.33 472.42,217.10 472.99,203.69 473.56,189.55 474.13,175.12 474.70,160.82 475.27,147.09 475.84,134.38 476.41,123.11 476.99,113.73 477.56,106.66 478.13,102.35 478.70,101.22 479.27,103.26 479.84,108.04 480.41,115.19 480.98,124.35 481.55,135.14 482.12,147.20 482.69,160.14 483.27,173.61 483.84,187.23 484.41,200.63 484.98,213.45 485.55,225.30 486.12,235.82 486.69,244.65 487.26,251.40 487.83,255.72 488.40,257.22 488.98,255.49 489.55,250.63 490.12,243.08 490.69,233.27 491.26,221.63 491.83,208.60 492.40,194.61 492.97,180.09 493.54,165.47 494.11,151.18 494.68,137.66 495.26,125.35 495.83,114.66 496.40,106.05 496.97,99.93 497.54,96.74 498.11,96.94 498.68,100.72 499.25,107.67 499.82,117.28 500.39,129.07 500.96,142.57 501.54,157.29 502.11,172.74 502.68,188.44 503.25,203.90 503.82,218.64 504.39,232.18 504.96,244.03 505.53,253.70 506.10,260.72 506.67,264.60 507.25,264.83 507.82,261.14 508.39,253.97 508.96,243.89 509.53,231.44 510.10,217.18 510.67,201.66 511.24,185.44 511.81,169.06 512.38,153.09 512.95,138.06 513.53,124.55 514.10,113.08 514.67,104.23 515.24,98.55 515.81,96.57 516.38,98.09 516.95,102.32 517.52,108.88 518.09,117.41 518.66,127.57 519.24,138.98 519.81,151.29 520.38,164.12 520.95,177.14 521.52,189.96 522.09,202.24 522.66,213.60 523.23,223.69 523.80,232.15 524.37,238.62 524.94,242.73 525.52,244.13 526.09,242.43 526.66,237.82 527.23,230.72 527.80,221.56 528.37,210.78 528.94,198.81 529.51,186.07 530.08,173.00 530.65,160.03 531.22,147.60 531.80,136.12 532.37,126.04 532.94,117.79 533.51,111.80 534.08,108.49 534.65,108.33 535.22,111.65 535.79,118.07 536.36,127.13 536.93,138.33 537.51,151.21 538.08,165.29 538.65,180.10 539.22,195.16 539.79,210.00 540.36,224.14 540.93,237.11 541.50,248.43 542.07,257.63 542.64,264.23 543.21,267.76 543.79,267.73 544.36,264.01 544.93,257.04 545.50,247.32 546.07,235.37 546.64,221.67 547.21,206.74 547.78,191.07 548.35,175.16 548.92,159.52 549.49,144.65 550.07,131.04 550.64,119.21 551.21,109.65 551.78,102.86 552.35,99.35 552.92,99.49 553.49,102.79 554.06,108.84 554.63,117.24 555.20,127.60 555.77,139.54 556.35,152.69 556.92,166.64 557.49,181.02 558.06,195.44 558.63,209.52 559.20,222.87 559.77,235.11 560.34,245.85 560.91,254.71 561.48,261.30 562.06,265.24 562.63,266.13 563.20,263.70 563.77,258.24 564.34,250.16 564.91,239.89 565.48,227.86 566.05,214.48 566.62,200.18 567.19,185.37 567.76,170.49 568.34,155.95 568.91,142.18 569.48,129.60 570.05,118.62 570.62,109.68 571.19,103.19 571.76,99.58 572.33,99.22 572.90,101.85 573.47,107.03 574.04,114.41 574.62,123.60 575.19,134.25 575.76,145.97 576.33,158.40 576.90,171.17 577.47,183.90 578.04,196.23 578.61,207.79 579.18,218.21 579.75,227.12 580.33,234.14 580.90,238.90 581.47,241.05 582.04,240.08 582.61,235.83 583.18,228.76 583.75,219.37 584.32,208.13 584.89,195.55 585.46,182.10 586.03,168.28 586.61,154.58 587.18,141.48 587.75,129.47 588.32,119.04 588.89,110.68 589.46,104.88 590.03,102.13 590.60,102.90 591.17,107.16 591.74,114.46 592.32,124.34 592.89,136.32 593.46,149.95 594.03,164.76 594.60,180.28 595.17,196.04 595.74,211.59 596.31,226.44 596.88,240.15 597.45,252.24 598.02,262.25 598.60,269.70 599.17,274.14 599.74,275.11 600.31,272.53 600.88,266.81 601.45,258.40 602.02,247.72 602.59,235.22 603.16,221.34 603.73,206.51 604.30,191.17 604.88,175.76 605.45,160.71 606.02,146.47 606.59,133.46 607.16,122.13 607.73,112.91 608.30,106.24 608.87,102.56 609.44,102.29 610.01,105.41 610.59,111.50 611.16,120.12 611.73,130.84 612.30,143.22 612.87,156.82 613.44,171.22 614.01,185.96 614.58,200.62 615.15,214.76 615.72,227.94 616.29,239.73 616.87,249.68 617.44,257.38 618.01,262.37 618.58,264.22 619.15,262.57 619.72,257.67 620.29,250.00 620.86,240.04 621.43,228.27 622.00,215.17 622.57,201.24 623.15,186.94 623.72,172.77 624.29,159.20 624.86,146.72 625.43,135.81 626.00,126.96 626.57,120.64 627.14,117.34 627.71,117.49 628.28,120.92 628.86,127.21 629.43,135.91 630.00,146.59 630.57,158.80 631.14,172.11 631.71,186.08 632.28,200.27 632.85,214.25 633.42,227.57 633.99,239.80 634.56,250.51 635.14,259.24 635.71,265.58 636.28,269.07 636.85,269.27 637.42,265.97 637.99,259.58 638.56,250.57 639.13,239.42 639.70,226.59 640.27,212.57 640.84,197.82 641.42,182.81 641.99,168.03 642.56,153.94 643.13,141.01 643.70,129.73 644.27,120.55 644.84,113.97 645.41,110.44 645.98,110.38 646.55,113.57 647.12,119.59 647.70,128.01 648.27,138.46 648.84,150.51 649.41,163.77 649.98,177.84 650.55,192.31 651.12,206.78 651.69,220.84 652.26,234.10 652.83,246.15 653.41,256.59 653.98,265.02 654.55,271.02 655.12,274.21 655.69,274.17 656.26,270.85 656.83,264.64 657.40,255.98 657.97,245.28 658.54,232.99 659.11,219.53 659.69,205.32 660.26,190.81 660.83,176.41 661.40,162.55 661.97,149.68 662.54,138.21 663.11,128.57 663.68,121.20 664.25,116.53 664.82,114.97 665.39,117.29 665.97,123.48 666.54,132.98 667.11,145.23 667.68,159.65 668.25,175.68 668.82,192.76 669.39,210.31 669.96,227.77 670.53,244.58 671.10,260.15 671.68,273.94 672.25,285.37 672.82,293.87 673.39,298.88 673.96,299.88 674.53,297.34 675.10,291.88 675.67,283.93 676.24,273.88 676.81,262.17 677.38,249.19 677.96,235.37 678.53,221.12 679.10,206.85 679.67,192.98 680.24,179.92 680.81,168.09 681.38,157.89 681.95,149.75 682.52,144.07 683.09,141.28 683.66,141.84 684.24,145.96 684.81,153.20 685.38,163.04 685.95,174.99 686.52,188.55 687.09,203.24 687.66,218.54 688.23,233.96 688.80,249.00 689.37,263.17 689.95,275.97 690.52,286.89 691.09,295.45 691.66,301.15 692.23,303.48 692.80,302.23 693.37,297.89 693.94,290.87 694.51,281.57 695.08,270.39 695.65,257.75 696.23,244.04 696.80,229.68 697.37,215.06 697.94,200.60 698.51,186.70 699.08,173.77 699.65,162.21 700.22,152.42 700.79,144.82 701.36,139.80 701.94,137.78 702.51,139.53 703.08,145.41 703.65,154.81 704.22,167.13 704.79,181.74 705.36,198.03 705.93,215.39 706.50,233.20 707.07,250.84 707.64,267.71 708.22,283.18 708.79,296.64 709.36,307.48 709.93,315.07 710.50,318.82 711.07,318.20 711.64,313.50 712.21,305.30 712.78,294.18 713.35,280.69 713.92,265.41 714.50,248.91 715.07,231.76 715.64,214.52 716.21,197.77 716.78,182.08 717.35,168.01 717.92,156.13 718.49,147.02 719.06,141.24 719.63,139.37 720.21,141.05 720.78,145.51 721.35,152.39 721.92,161.34 722.49,172.02 723.06,184.08 723.63,197.17 724.20,210.94 724.77,225.04 725.34,239.13 725.91,252.86 726.49,265.88 727.06,277.84 727.63,288.40 728.20,297.20 728.77,303.90 729.34,308.15 729.91,309.61 730.48,307.69 731.05,302.42 731.62,294.32 732.19,283.88 732.77,271.62 733.34,258.04 733.91,243.64 734.48,228.94 735.05,214.45 735.62,200.66 736.19,188.10 736.76,177.25 737.33,168.64 737.90,162.77 738.47,160.14 739.05,161.01 739.62,164.82 740.19,171.18 740.76,179.70 741.33,190.00 741.90,201.70 742.47,214.40 743.04,227.73 743.61,241.31 744.18,254.74 744.76,267.63 745.33,279.62 745.90,290.31 746.47,299.32 747.04,306.26 747.61,310.75 748.18,312.40 748.75,311.09 749.32,307.19 749.89,301.07 750.46,293.07 751.04,283.56 751.61,272.88 752.18,261.40 752.75,249.47 753.32,237.45 753.89,225.68 754.46,214.54 755.03,204.36 755.60,195.52 756.17,188.35 756.74,183.23 757.32,180.50 757.89,180.60 758.46,184.07 759.03,190.61 759.60,199.82 760.17,211.31 760.74,224.68 761.31,239.52 761.88,255.44 762.45,272.03 763.03,288.90 763.60,305.65 764.17,321.87 764.74,337.18 765.31,351.16 765.88,363.42 766.45,373.56 767.02,381.18 767.59,385.88 768.16,387.27 768.73,386.38 769.31,384.12 769.88,380.64 770.45,376.10 771.02,370.62 771.59,364.36 772.16,357.45 772.73,350.04 773.30,342.28 773.87,334.30 774.44,326.26 775.01,318.28 775.59,310.53 776.16,303.13 776.73,296.24 777.30,290.00 777.87,284.55 778.44,280.03 779.01,276.59 779.58,274.38 780.15,273.52 780.72,274.28 781.30,276.69 781.87,280.48 782.44,285.36 783.01,291.07 783.58,297.33 784.15,303.86 784.72,310.39 785.29,316.65 785.86,322.36 786.43,327.24 787.00,331.02 787.58,333.43 788.15,334.19 788.72,332.97 789.29,329.80 789.86,324.88 790.43,318.42 791.00,310.63 791.57,301.71 792.14,291.85 792.71,281.28 793.29,270.20 793.86,258.80 794.43,247.30 795.00,235.89 795.57,224.79 796.14,214.20 796.71,204.33 797.28,195.37 797.85,187.54 798.42,181.04 798.99,176.07 799.57,172.85 800.14,171.56 800.71,172.09 801.28,173.82 801.85,176.47 802.42,179.78 802.99,183.46 803.56,187.24 804.13,190.85 804.70,194.00 805.27,196.44 805.85,197.87 806.42,198.05 806.99,197.00 807.56,194.87 808.13,191.76 808.70,187.80 809.27,183.12 809.84,177.82 810.41,172.03 810.98,165.87 811.56,159.46 812.13,152.91 812.70,146.34 813.27,139.88 813.84,133.64 814.41,127.75 814.98,122.31 815.55,117.46 816.12,113.30 816.69,109.96 817.26,107.56 817.84,106.22 818.41,106.03 818.98,106.74 819.55,108.20 820.12,110.32 820.69,113.02 821.26,116.20 821.83,119.79 822.40,123.69 822.97,127.82 823.54,132.09 824.12,136.41 824.69,140.70 825.26,144.86 825.83,148.82 826.40,152.67 826.97,156.88 827.54,161.39 828.11,166.11 828.68,170.96 829.25,175.84 829.83,180.67 830.40,185.36 830.97,189.81 831.54,193.95 832.11,197.67 832.68,200.94 833.25,204.20 833.82,207.55 834.39,210.87 834.96,214.06 835.53,217.01 836.11,219.61 836.68,221.75 837.25,223.34 837.82,224.25 838.39,224.41 838.96,224.15 839.53,223.63 840.10,222.90 840.67,222.03 841.24,221.07 841.81,220.07 842.39,219.11 842.96,218.22 843.53,217.48 844.10,216.94 844.67,216.66 845.24,216.75 845.81,217.41 846.38,218.55 846.95,220.06 847.52,221.81 848.09,223.70 848.67,225.60 849.24,227.39 849.81,228.97 850.38,230.35 850.95,231.88 851.52,233.49 852.09,235.05 852.66,236.47 853.23,237.63 853.80,238.42 854.38,238.73 854.95,238.65 855.52,238.43 856.09,238.14 856.66,237.84 857.23,237.58 857.80,237.44 858.37,237.48 858.94,237.71 859.51,238.07 860.08,238.49 860.66,238.90 861.23,239.23 861.80,239.41 862.37,239.32 862.94,238.80 863.51,237.92 864.08,236.78 864.65,235.50 865.22,234.18 865.79,232.92 866.36,231.81 866.94,230.97 867.51,230.50 868.08,230.46 868.65,230.64 869.22,230.95 869.79,231.33 870.36,231.74 870.93,232.11 871.50,232.39 872.07,232.53 872.65,232.36 873.22,231.75 873.79,230.87 874.36,229.89 874.93,228.98 875.50,228.34 876.07,228.14 876.64,228.62 877.21,229.79 877.78,231.51 878.35,233.65 878.93,236.07 879.50,238.65 880.07,241.26 880.64,243.75 881.21,246.01 881.78,247.90 882.35,249.28 882.92,250.03 883.49,250.01 884.06,249.20 884.64,247.72 885.21,245.71 885.78,243.33 886.35,240.70 886.92,237.97 887.49,235.28 888.06,232.78 888.63,230.60 889.20,228.89 889.77,227.79 890.34,227.43 890.92,227.80 891.49,228.73 892.06,230.14 892.63,231.92 893.20,233.97 893.77,236.22 894.34,238.55 894.91,240.87 895.48,243.09 896.05,245.12 896.62,246.85 897.20,248.19 897.77,249.05 898.34,249.32 898.91,249.07 899.48,248.41 900.05,247.38 900.62,246.03 901.19,244.42 901.76,242.58 902.33,240.58 902.90,238.45 903.48,236.25 904.05,234.01 904.62,231.80 905.19,229.66 905.76,227.64 906.33,225.78 906.90,224.13 907.47,222.75 908.04,221.67 908.61,220.95 909.19,220.64 909.76,220.91 910.33,221.95 910.90,223.60 911.47,225.70 912.04,228.09 912.61,230.59 913.18,233.05 913.75,235.29 914.32,237.16 914.89,238.48 915.47,239.10 916.04,238.95 916.61,238.27 917.18,237.19 917.75,235.85 918.32,234.40 918.89,232.96 919.46,231.68 920.03,230.68 920.60,230.11 921.17,230.09 921.75,230.50 922.32,231.23 922.89,232.14 923.46,233.13 924.03,234.05 924.60,234.80 925.17,235.25 925.74,235.26 926.31,234.64 926.88,233.47 927.46,231.92 928.03,230.12 928.60,228.24 929.17,226.41 929.74,224.78 930.31,223.52 930.88,222.72 931.45,222.08 932.02,221.44 932.59,220.83 933.16,220.25 933.74,219.69 934.31,219.16 934.88,218.67 935.45,218.22 936.02,217.81 936.59,217.44 937.16,217.13 937.73,216.87 938.30,216.67 938.87,216.53 939.45,216.45 940.02,216.53 940.59,217.61 941.16,219.68 941.73,222.48 942.30,225.74 942.87,229.22 943.44,232.64 944.01,235.74 944.58,238.27 945.15,239.95 945.73,240.53 946.30,239.65 946.87,237.43 947.44,234.25 948.01,230.50 948.58,226.54 949.15,222.78 949.72,219.59 950.29,217.34 950.86,216.44 951.43,217.15 952.01,219.24 952.58,222.33 953.15,226.05 953.72,230.00 954.29,233.80 954.86,237.07 955.43,239.43 956.00,240.50 956.57,240.10 957.14,238.61 957.71,236.33 958.29,233.55 958.86,230.55 959.43,227.64 960.00,225.10 960.57,223.21 961.14,222.28 961.71,222.66 962.28,224.45 962.85,227.24 963.42,230.60 964.00,234.09 964.57,237.28 965.14,239.74 965.71,241.03 966.28,240.76 966.85,239.04 967.42,236.30 967.99,232.99 968.56,229.55 969.13,226.44 969.70,224.10 970.28,222.97 970.85,223.14 971.42,223.93 971.99,225.21 972.56,226.85 973.13,228.73 973.70,230.74 974.27,232.74 974.84,234.62 975.41,236.26 975.99,237.54 976.56,238.33 977.13,238.53 977.70,238.45 978.27,238.27 978.84,238.01 979.41,237.66 979.98,237.26 980.55,236.79 981.12,236.28 981.69,235.74 982.27,235.17 982.84,234.59 983.41,233.77 983.98,232.59 984.55,231.13 985.12,229.49 985.69,227.75 986.26,226.01 986.83,224.36 987.40,222.87 987.97,221.66 988.55,220.79 989.12,220.36 989.69,220.52 990.26,221.38 990.83,222.77 991.40,224.52 991.97,226.42 992.54,228.30 993.11,229.98 993.68,231.26 994.26,231.96 994.83,231.97 995.40,231.58 995.97,230.88 996.54,229.91 997.11,228.72 997.68,227.37 998.25,225.89 998.82,224.35 999.39,222.78 999.96,221.23 1000.54,219.76 1001.11,218.41 1001.68,217.23 1002.25,216.27 1002.82,215.57 1003.39,215.19 1003.96,215.16 1004.53,215.31 1005.10,215.58 1005.67,215.90 1006.24,216.22 1006.82,216.48 1007.39,216.62 1007.96,216.56 1008.53,216.19 1009.10,215.64 1009.67,215.06 1010.24,214.61 1010.81,214.44 1011.38,214.80 1011.95,215.78 1012.52,217.27 1013.10,219.14 1013.67,221.28 1014.24,223.57 1014.81,225.89 1015.38,228.13 1015.95,230.17 1016.52,231.89 1017.09,233.17 1017.66,233.91 1018.23,233.97 1018.81,233.38 1019.38,232.29 1019.95,230.84 1020.52,229.20 1021.09,227.52 1021.66,225.96 1022.23,224.67 1022.80,223.80 1023.37,223.49 1023.94,223.37 1024.51,223.29 1025.09,223.23 1025.66,223.18 1026.23,223.11 1026.80,223.00 1027.37,222.82 1027.94,222.37 1028.51,221.67 1029.08,220.82 1029.65,219.89 1030.22,218.97 1030.80,218.15 1031.37,217.50 1031.94,217.11 1032.51,217.05 1033.08,217.17 1033.65,217.39 1034.22,217.67 1034.79,217.95 1035.36,218.18 1035.93,218.32 1036.50,218.24 1037.08,217.58 1037.65,216.43 1038.22,214.90 1038.79,213.15 1039.36,211.31 1039.93,209.51 1040.50,207.89 1041.07,206.59 1041.64,205.69 1042.21,204.87 1042.78,204.05 1043.36,203.26 1043.93,202.50 1044.50,201.80 1045.07,201.16 1045.64,200.59 1046.21,200.13 1046.78,199.77 1047.35,199.54 1047.92,199.44 1048.49,199.47 1049.06,199.56 1049.64,199.73 1050.21,199.98 1050.78,200.30 1051.35,200.69 1051.92,201.17 1052.49,201.72 1053.06,202.36 1053.63,203.08 1054.20,203.88 1054.77,204.76 1055.35,205.74 1055.92,206.79 1056.49,207.94 1057.06,209.18 1057.63,210.51 1058.20,211.94" fill="none" stroke="#ff7f0e" stroke-width="5.6" stroke-linejoin="round" stroke-linecap="butt" />
<rect x="144.70" y="12.20" width="913.50" height="395.40" fill="none" stroke="#000" stroke-width="2.9"/>
<line x1="144.70" y1="407.60" x2="144.70" y2="414.20" stroke="#000" stroke-width="2.0"/>
<text x="144.70" y="440.20" font-family="'DejaVu Sans','Liberation Sans',sans-serif" font-size="25" text-anchor="middle" fill="#000" >20.0</text>
<line x1="258.89" y1="407.60" x2="258.89" y2="414.20" stroke="#000" stroke-width="2.0"/>
<text x="258.89" y="440.20" font-family="'DejaVu Sans','Liberation Sans',sans-serif" font-size="25" text-anchor="middle" fill="#000" >22.5</text>
<line x1="373.07" y1="407.60" x2="373.07" y2="414.20" stroke="#000" stroke-width="2.0"/>
<text x="373.07" y="440.20" font-family="'DejaVu Sans','Liberation Sans',sans-serif" font-size="25" text-anchor="middle" fill="#000" >25.0</text>
<line x1="487.26" y1="407.60" x2="487.26" y2="414.20" stroke="#000" stroke-width="2.0"/>
<text x="487.26" y="440.20" font-family="'DejaVu Sans','Liberation Sans',sans-serif" font-size="25" text-anchor="middle" fill="#000" >27.5</text>
<line x1="601.45" y1="407.60" x2="601.45" y2="414.20" stroke="#000" stroke-width="2.0"/>
<text x="601.45" y="440.20" font-family="'DejaVu Sans','Liberation Sans',sans-serif" font-size="25" text-anchor="middle" fill="#000" >30.0</text>
<line x1="715.64" y1="407.60" x2="715.64" y2="414.20" stroke="#000" stroke-width="2.0"/>
<text x="715.64" y="440.20" font-family="'DejaVu Sans','Liberation Sans',sans-serif" font-size="25" text-anchor="middle" fill="#000" >32.5</text>
<line x1="829.83" y1="407.60" x2="829.83" y2="414.20" stroke="#000" stroke-width="2.0"/>
<text x="829.83" y="440.20" font-family="'DejaVu Sans','Liberation Sans',sans-serif" font-size="25" text-anchor="middle" fill="#000" >35.0</text>
<line x1="944.01" y1="407.60" x2="944.01" y2="414.20" stroke="#000" stroke-width="2.0"/>
<text x="944.01" y="440.20" font-family="'DejaVu Sans','Liberation Sans',sans-serif" font-size="25" text-anchor="middle" fill="#000" >37.5</text>
<line x1="1058.20" y1="407.60" x2="1058.20" y2="414.20" stroke="#000" stroke-width="2.0"/>
<text x="1058.20" y="440.20" font-family="'DejaVu Sans','Liberation Sans',sans-serif" font-size="25" text-anchor="middle" fill="#000" >40.0</text>
<line x1="138.10" y1="12.20" x2="144.70" y2="12.20" stroke="#000" stroke-width="2.0"/>
<text x="131.40" y="21.31" font-family="'DejaVu Sans','Liberation Sans',sans-serif" font-size="25" text-anchor="end" fill="#000" >2</text>
<line x1="138.10" y1="73.03" x2="144.70" y2="73.03" stroke="#000" stroke-width="2.0"/>
<text x="131.40" y="82.14" font-family="'DejaVu Sans','Liberation Sans',sans-serif" font-size="25" text-anchor="end" fill="#000" >1</text>
<line x1="138.10" y1="133.86" x2="144.70" y2="133.86" stroke="#000" stroke-width="2.0"/>
<text x="131.40" y="142.97" font-family="'DejaVu Sans','Liberation Sans',sans-serif" font-size="25" text-anchor="end" fill="#000" >0</text>
<line x1="138.10" y1="194.69" x2="144.70" y2="194.69" stroke="#000" stroke-width="2.0"/>
<text x="131.40" y="203.80" font-family="'DejaVu Sans','Liberation Sans',sans-serif" font-size="25" text-anchor="end" fill="#000" >−1</text>
<line x1="138.10" y1="255.52" x2="144.70" y2="255.52" stroke="#000" stroke-width="2.0"/>
<text x="131.40" y="264.64" font-family="'DejaVu Sans','Liberation Sans',sans-serif" font-size="25" text-anchor="end" fill="#000" >−2</text>
<line x1="138.10" y1="316.35" x2="144.70" y2="316.35" stroke="#000" stroke-width="2.0"/>
<text x="131.40" y="325.47" font-family="'DejaVu Sans','Liberation Sans',sans-serif" font-size="25" text-anchor="end" fill="#000" >−3</text>
<line x1="138.10" y1="377.18" x2="144.70" y2="377.18" stroke="#000" stroke-width="2.0"/>
<text x="131.40" y="386.30" font-family="'DejaVu Sans','Liberation Sans',sans-serif" font-size="25" text-anchor="end" fill="#000" >−4</text>
<text x="601.70" y="476.00" font-family="'DejaVu Sans','Liberation Sans',sans-serif" font-size="29.5" text-anchor="middle" fill="#000" letter-spacing="0.6">Time [µs]</text>
<text transform="translate(81.00,211.80) rotate(-90)" font-family="'DejaVu Sans','Liberation Sans',sans-serif" font-size="28.8" text-anchor="middle" fill="#000" >Amplitude [mV]</text>
<line x1="160.5" y1="341.3" x2="201.1" y2="341.3" stroke="#808080" stroke-width="5.6"/>
<text x="212.40" y="351.60" font-family="'DejaVu Sans','Liberation Sans',sans-serif" font-size="36.4" text-anchor="start" fill="#808080" letter-spacing="0.6">Water</text>
<line x1="161" y1="376.6" x2="201.1" y2="376.6" stroke="#f9844e" stroke-width="5.2" stroke-dasharray="13.1 13.9"/>
<text x="211.50" y="387.40" font-family="'DejaVu Sans','Liberation Sans',sans-serif" font-size="36.4" text-anchor="start" fill="#f9844e" letter-spacing="0.6">MBink</text>
<text x="2.80" y="457.00" font-family="'Liberation Sans','DejaVu Sans',sans-serif" font-size="52" text-anchor="start" fill="#000" font-weight="bold">a)</text>
<polyline clip-path="url(#clipb)" points="1371.60,193.38 1371.98,191.97 1372.37,190.61 1372.75,189.34 1373.14,188.20 1373.52,187.23 1373.90,186.44 1374.29,185.72 1374.67,185.02 1375.05,184.34 1375.44,183.71 1375.82,183.14 1376.21,182.66 1376.59,182.28 1376.97,182.01 1377.36,181.87 1377.74,181.94 1378.13,182.43 1378.51,183.29 1378.89,184.46 1379.28,185.85 1379.66,187.38 1380.05,189.00 1380.43,190.61 1380.81,192.15 1381.20,193.54 1381.58,194.70 1381.96,195.57 1382.35,196.34 1382.73,197.13 1383.12,197.90 1383.50,198.64 1383.88,199.33 1384.27,199.95 1384.65,200.47 1385.04,200.89 1385.42,201.17 1385.80,201.31 1386.19,201.28 1386.57,201.13 1386.95,200.85 1387.34,200.47 1387.72,200.00 1388.11,199.45 1388.49,198.83 1388.87,198.17 1389.26,197.46 1389.64,196.73 1390.03,195.99 1390.41,195.24 1390.79,194.52 1391.18,193.81 1391.56,193.15 1391.95,192.55 1392.33,191.94 1392.71,191.26 1393.10,190.53 1393.48,189.77 1393.86,188.99 1394.25,188.23 1394.63,187.49 1395.02,186.80 1395.40,186.17 1395.78,185.64 1396.17,185.22 1396.55,184.92 1396.94,184.77 1397.32,184.93 1397.70,185.82 1398.09,187.32 1398.47,189.22 1398.86,191.35 1399.24,193.50 1399.62,195.48 1400.01,197.10 1400.39,198.40 1400.77,199.76 1401.16,201.04 1401.54,202.08 1401.93,202.68 1402.31,202.74 1402.69,202.51 1403.08,202.10 1403.46,201.55 1403.85,200.93 1404.23,200.27 1404.61,199.64 1405.00,199.09 1405.38,198.65 1405.76,198.32 1406.15,198.02 1406.53,197.70 1406.92,197.30 1407.30,196.75 1407.68,195.72 1408.07,192.62 1408.45,188.01 1408.84,182.82 1409.22,178.00 1409.60,174.42 1409.99,171.21 1410.37,168.02 1410.76,165.25 1411.14,163.28 1411.52,162.49 1411.91,162.65 1412.29,163.09 1412.67,163.72 1413.06,164.44 1413.44,165.16 1413.83,165.79 1414.21,166.22 1414.59,166.36 1414.98,165.68 1415.36,164.04 1415.75,161.70 1416.13,158.97 1416.51,156.11 1416.90,153.43 1417.28,151.19 1417.66,149.66 1418.05,148.40 1418.43,147.16 1418.82,146.01 1419.20,145.01 1419.58,144.22 1419.97,143.70 1420.35,143.52 1420.74,143.65 1421.12,144.01 1421.50,144.56 1421.89,145.27 1422.27,146.09 1422.66,146.99 1423.04,147.93 1423.42,148.87 1423.81,149.76 1424.19,150.59 1424.57,151.29 1424.96,151.84 1425.34,152.20 1425.73,152.33 1426.11,152.12 1426.49,151.56 1426.88,150.71 1427.26,149.64 1427.65,148.42 1428.03,147.12 1428.41,145.81 1428.80,144.57 1429.18,143.45 1429.57,142.54 1429.95,141.89 1430.33,141.59 1430.72,141.64 1431.10,141.90 1431.48,142.34 1431.87,142.93 1432.25,143.67 1432.64,144.52 1433.02,145.45 1433.40,146.46 1433.79,147.50 1434.17,148.57 1434.56,149.63 1434.94,150.67 1435.32,151.66 1435.71,152.58 1436.09,153.42 1436.47,154.24 1436.86,155.05 1437.24,155.84 1437.63,156.64 1438.01,157.45 1438.39,158.27 1438.78,159.11 1439.16,159.99 1439.55,160.90 1439.93,161.85 1440.31,162.86 1440.70,163.93 1441.08,165.07 1441.47,166.33 1441.85,167.83 1442.23,169.52 1442.62,171.33 1443.00,173.19 1443.38,175.04 1443.77,176.81 1444.15,178.45 1444.54,179.87 1444.92,181.29 1445.30,182.69 1445.69,183.64 1446.07,183.78 1446.46,183.67 1446.84,183.51 1447.22,183.36 1447.61,183.31 1447.99,183.99 1448.38,185.58 1448.76,187.75 1449.14,190.16 1449.53,192.48 1449.91,194.37 1450.29,196.00 1450.68,197.75 1451.06,199.37 1451.45,200.63 1451.83,201.28 1452.21,201.16 1452.60,200.48 1452.98,199.40 1453.37,198.09 1453.75,196.73 1454.13,195.49 1454.52,194.52 1454.90,194.00 1455.28,194.08 1455.67,194.67 1456.05,195.63 1456.44,196.79 1456.82,197.99 1457.20,199.09 1457.59,199.92 1457.97,200.33 1458.36,200.29 1458.74,200.04 1459.12,199.67 1459.51,199.22 1459.89,198.77 1460.28,198.36 1460.66,198.06 1461.04,197.93 1461.43,198.17 1461.81,198.93 1462.19,200.10 1462.58,201.54 1462.96,203.10 1463.35,204.66 1463.73,206.07 1464.11,207.20 1464.50,207.92 1464.88,208.07 1465.27,207.46 1465.65,206.14 1466.03,204.28 1466.42,202.02 1466.80,199.51 1467.18,196.91 1467.57,194.36 1467.95,192.02 1468.34,190.04 1468.72,188.57 1469.10,187.77 1469.49,187.72 1469.87,188.15 1470.26,188.94 1470.64,190.01 1471.02,191.31 1471.41,192.76 1471.79,194.29 1472.18,195.84 1472.56,197.33 1472.94,198.71 1473.33,200.09 1473.71,201.53 1474.09,203.02 1474.48,204.56 1474.86,206.15 1475.25,207.77 1475.63,209.41 1476.01,211.07 1476.40,212.78 1476.78,214.69 1477.17,216.77 1477.55,218.94 1477.93,221.14 1478.32,223.29 1478.70,225.30 1479.08,227.11 1479.47,228.64 1479.85,229.82 1480.24,230.63 1480.62,231.34 1481.00,231.95 1481.39,232.36 1481.77,232.49 1482.16,232.32 1482.54,231.99 1482.92,231.65 1483.31,231.44 1483.69,231.56 1484.08,232.07 1484.46,232.83 1484.84,233.68 1485.23,234.44 1485.61,234.97 1485.99,235.08 1486.38,234.54 1486.76,233.41 1487.15,231.87 1487.53,230.07 1487.91,228.18 1488.30,226.39 1488.68,224.85 1489.07,223.74 1489.45,223.22 1489.83,223.67 1490.22,225.43 1490.60,228.11 1490.99,231.30 1491.37,234.60 1491.75,238.01 1492.14,242.69 1492.52,247.17 1492.90,249.66 1493.29,250.57 1493.67,251.29 1494.06,251.79 1494.44,252.03 1494.82,252.03 1495.21,251.96 1495.59,251.86 1495.98,251.78 1496.36,251.86 1496.74,253.72 1497.13,257.29 1497.51,261.76 1497.89,266.27 1498.28,270.01 1498.66,273.28 1499.05,276.72 1499.43,280.13 1499.81,283.32 1500.20,286.07 1500.58,288.17 1500.97,289.43 1501.35,290.16 1501.73,290.63 1502.12,290.57 1502.50,289.82 1502.89,288.47 1503.27,286.61 1503.65,284.33 1504.04,281.73 1504.42,278.91 1504.80,275.96 1505.19,272.98 1505.57,270.07 1505.96,267.31 1506.34,264.82 1506.72,262.68 1507.11,260.99 1507.49,259.84 1507.88,259.34 1508.26,259.60 1508.64,260.66 1509.03,262.41 1509.41,264.72 1509.79,267.47 1510.18,270.55 1510.56,273.84 1510.95,277.21 1511.33,280.55 1511.71,283.74 1512.10,286.66 1512.48,289.20 1512.87,291.22 1513.25,292.62 1513.63,293.26 1514.02,292.58 1514.40,289.63 1514.79,285.09 1515.17,279.69 1515.55,274.18 1515.94,269.29 1516.32,265.76 1516.70,263.68 1517.09,261.75 1517.47,259.88 1517.86,258.09 1518.24,256.40 1518.62,254.82 1519.01,253.36 1519.39,252.04 1519.78,250.86 1520.16,249.86 1520.54,249.02 1520.93,248.38 1521.31,247.94 1521.70,247.72 1522.08,247.89 1522.46,249.25 1522.85,251.71 1523.23,255.09 1523.61,259.17 1524.00,263.75 1524.38,268.65 1524.77,273.65 1525.15,278.55 1525.53,283.17 1525.92,287.28 1526.30,290.71 1526.69,293.23 1527.07,294.66 1527.45,294.82 1527.84,293.85 1528.22,291.92 1528.60,289.16 1528.99,285.70 1529.37,281.66 1529.76,277.17 1530.14,272.37 1530.52,267.38 1530.91,262.33 1531.29,257.34 1531.68,252.56 1532.06,248.10 1532.44,244.09 1532.83,240.67 1533.21,237.95 1533.60,236.08 1533.98,235.17 1534.36,236.28 1534.75,241.46 1535.13,248.66 1535.51,255.58 1535.90,259.89 1536.28,260.99 1536.67,261.83 1537.05,262.59 1537.43,263.25 1537.82,263.82 1538.20,264.31 1538.59,264.70 1538.97,265.01 1539.35,265.23 1539.74,265.36 1540.12,265.41 1540.50,265.12 1540.89,264.18 1541.27,262.70 1541.66,260.78 1542.04,258.54 1542.42,256.07 1542.81,253.50 1543.19,250.94 1543.58,248.48 1543.96,246.24 1544.34,244.34 1544.73,242.87 1545.11,241.63 1545.50,240.37 1545.88,239.14 1546.26,238.00 1546.65,237.01 1547.03,236.23 1547.41,235.70 1547.80,235.50 1548.18,235.65 1548.57,236.13 1548.95,236.88 1549.33,237.83 1549.72,238.95 1550.10,240.16 1550.49,241.41 1550.87,242.64 1551.25,243.81 1551.64,244.84 1552.02,245.69 1552.41,246.29 1552.79,246.60 1553.17,246.47 1553.56,245.56 1553.94,243.95 1554.32,241.73 1554.71,239.00 1555.09,235.86 1555.48,232.41 1555.86,228.76 1556.24,225.00 1556.63,221.22 1557.01,217.54 1557.40,214.05 1557.78,210.85 1558.16,208.04 1558.55,205.72 1558.93,203.98 1559.31,202.53 1559.70,201.08 1560.08,199.74 1560.47,198.60 1560.85,197.76 1561.23,197.30 1561.62,197.54 1562.00,199.41 1562.39,202.62 1562.77,206.75 1563.15,211.35 1563.54,215.98 1563.92,220.23 1564.31,223.64 1564.69,225.78 1565.07,226.26 1565.46,225.59 1565.84,224.13 1566.22,222.00 1566.61,219.29 1566.99,216.12 1567.38,212.59 1567.76,208.81 1568.14,204.89 1568.53,200.94 1568.91,197.06 1569.30,193.36 1569.68,189.95 1570.06,186.93 1570.45,184.42 1570.83,182.52 1571.21,181.34 1571.60,180.99 1571.98,181.03 1572.37,181.14 1572.75,181.29 1573.13,181.49 1573.52,181.71 1573.90,181.95 1574.29,182.18 1574.67,182.40 1575.05,182.60 1575.44,182.76 1575.82,182.87 1576.21,182.92 1576.59,182.65 1576.97,181.72 1577.36,180.24 1577.74,178.35 1578.12,176.20 1578.51,173.93 1578.89,171.66 1579.28,169.23 1579.66,166.19 1580.04,162.71 1580.43,158.96 1580.81,155.10 1581.20,151.30 1581.58,147.74 1581.96,144.57 1582.35,141.98 1582.73,139.59 1583.12,137.15 1583.50,134.77 1583.88,132.58 1584.27,130.70 1584.65,129.26 1585.03,128.36 1585.42,128.14 1585.80,128.85 1586.19,130.43 1586.57,132.68 1586.95,135.41 1587.34,138.44 1587.72,141.55 1588.11,144.57 1588.49,147.30 1588.87,149.55 1589.26,151.12 1589.64,151.82 1590.02,151.42 1590.41,149.84 1590.79,147.28 1591.18,143.91 1591.56,139.92 1591.94,135.51 1592.33,130.85 1592.71,126.15 1593.10,121.58 1593.48,117.33 1593.86,113.59 1594.25,110.54 1594.63,108.39 1595.02,107.30 1595.40,107.37 1595.78,108.26 1596.17,109.86 1596.55,112.07 1596.93,114.81 1597.32,117.99 1597.70,121.53 1598.09,125.32 1598.47,129.30 1598.85,133.36 1599.24,137.43 1599.62,141.40 1600.01,145.20 1600.39,148.74 1600.77,151.93 1601.16,154.68 1601.54,156.90 1601.92,158.51 1602.31,159.42 1602.69,159.51 1603.08,158.53 1603.46,156.55 1603.84,153.74 1604.23,150.25 1604.61,146.26 1605.00,141.93 1605.38,137.42 1605.76,132.89 1606.15,128.52 1606.53,124.46 1606.92,120.88 1607.30,117.94 1607.68,115.80 1608.07,114.64 1608.45,114.58 1608.83,115.49 1609.22,117.22 1609.60,119.65 1609.99,122.66 1610.37,126.14 1610.75,129.96 1611.14,134.00 1611.52,138.14 1611.91,142.26 1612.29,146.25 1612.67,149.98 1613.06,153.33 1613.44,156.18 1613.83,158.41 1614.21,159.91 1614.59,160.54 1614.98,160.16 1615.36,158.76 1615.74,156.58 1616.13,153.84 1616.51,150.77 1616.90,147.60 1617.28,144.56 1617.66,141.89 1618.05,139.81 1618.43,138.55 1618.82,138.31 1619.20,138.58 1619.58,139.15 1619.97,139.98 1620.35,141.03 1620.73,142.25 1621.12,143.61 1621.50,145.07 1621.89,146.59 1622.27,148.12 1622.65,149.63 1623.04,151.30 1623.42,153.47 1623.81,156.06 1624.19,158.93 1624.57,161.96 1624.96,165.05 1625.34,168.06 1625.73,170.88 1626.11,173.40 1626.49,175.49 1626.88,177.04 1627.26,177.92 1627.64,177.99 1628.03,176.91 1628.41,174.78 1628.80,171.82 1629.18,168.24 1629.56,164.25 1629.95,160.06 1630.33,155.89 1630.72,151.94 1631.10,148.44 1631.48,145.59 1631.87,143.60 1632.25,142.68 1632.63,142.90 1633.02,143.96 1633.40,145.76 1633.79,148.21 1634.17,151.21 1634.55,154.68 1634.94,158.52 1635.32,162.64 1635.71,166.95 1636.09,171.35 1636.47,175.77 1636.86,180.10 1637.24,184.26 1637.63,188.17 1638.01,192.99 1638.39,198.52 1638.78,203.30 1639.16,205.92 1639.54,205.89 1639.93,205.15 1640.31,203.87 1640.70,202.14 1641.08,200.02 1641.46,197.59 1641.85,194.93 1642.23,192.11 1642.62,189.19 1643.00,186.26 1643.38,183.39 1643.77,180.66 1644.15,178.12 1644.54,175.87 1644.92,173.97 1645.30,172.49 1645.69,171.52 1646.07,171.12 1646.45,171.40 1646.84,172.43 1647.22,174.10 1647.61,176.31 1647.99,178.97 1648.37,181.97 1648.76,185.23 1649.14,188.63 1649.53,192.09 1649.91,195.51 1650.29,198.78 1650.68,201.81 1651.06,204.50 1651.44,206.76 1651.83,208.48 1652.21,209.57 1652.60,209.93 1652.98,209.74 1653.36,209.21 1653.75,208.40 1654.13,207.34 1654.52,206.10 1654.90,204.70 1655.28,203.21 1655.67,201.65 1656.05,200.08 1656.44,198.55 1656.82,197.09 1657.20,195.76 1657.59,194.59 1657.97,193.64 1658.35,192.96 1658.74,192.57 1659.12,192.56 1659.51,193.14 1659.89,194.27 1660.27,195.87 1660.66,197.86 1661.04,200.15 1661.43,202.65 1661.81,205.28 1662.19,207.95 1662.58,210.57 1662.96,213.06 1663.34,215.34 1663.73,217.31 1664.11,218.89 1664.50,220.00 1664.88,220.54 1665.26,220.49 1665.65,219.97 1666.03,219.06 1666.42,217.83 1666.80,216.33 1667.18,214.63 1667.57,212.80 1667.95,210.88 1668.34,208.95 1668.72,207.07 1669.10,205.29 1669.49,203.69 1669.87,202.33 1670.25,201.26 1670.64,200.55 1671.02,200.26 1671.41,202.61 1671.79,209.31 1672.17,217.51 1672.56,224.32 1672.94,227.61 1673.33,230.12 1673.71,232.49 1674.09,234.71 1674.48,236.76 1674.86,238.63 1675.25,240.31 1675.63,241.80 1676.01,243.07 1676.40,244.12 1676.78,244.93 1677.16,245.49 1677.55,245.80 1677.93,245.81 1678.32,245.19 1678.70,243.95 1679.08,242.17 1679.47,239.96 1679.85,237.41 1680.24,234.61 1680.62,231.65 1681.00,228.64 1681.39,225.67 1681.77,222.82 1682.15,220.21 1682.54,217.92 1682.92,216.05 1683.31,214.68 1683.69,213.93 1684.07,213.82 1684.46,213.93 1684.84,214.15 1685.23,214.50 1685.61,214.96 1685.99,215.55 1686.38,216.25 1686.76,217.07 1687.15,218.00 1687.53,219.06 1687.91,220.23 1688.30,221.53 1688.68,222.94 1689.06,224.47 1689.45,226.62 1689.83,232.54 1690.22,239.86 1690.60,245.01 1690.98,245.57 1691.37,244.98 1691.75,243.92 1692.14,242.47 1692.52,240.71 1692.90,238.73 1693.29,236.60 1693.67,234.42 1694.05,232.26 1694.44,230.21 1694.82,228.35 1695.21,226.76 1695.59,225.53 1695.97,224.73 1696.36,224.46 1696.74,225.57 1697.13,228.55 1697.51,233.00 1697.89,238.53 1698.28,244.75 1698.66,251.27 1699.05,257.69 1699.43,263.62 1699.81,268.68 1700.20,272.46 1700.58,274.58 1700.96,274.85 1701.35,274.37 1701.73,273.45 1702.12,272.13 1702.50,270.47 1702.88,268.51 1703.27,266.31 1703.65,263.92 1704.04,261.38 1704.42,258.74 1704.80,256.06 1705.19,253.39 1705.57,250.77 1705.96,248.27 1706.34,245.91 1706.72,243.77 1707.11,241.89 1707.49,240.31 1707.87,239.09 1708.26,238.28 1708.64,237.93 1709.03,238.48 1709.41,240.63 1709.79,244.12 1710.18,248.64 1710.56,253.90 1710.95,259.62 1711.33,265.48 1711.71,271.19 1712.10,276.47 1712.48,281.01 1712.86,284.52 1713.25,286.70 1713.63,287.29 1714.02,286.94 1714.40,286.15 1714.78,284.99 1715.17,283.52 1715.55,281.81 1715.94,279.93 1716.32,277.95 1716.70,275.94 1717.09,273.98 1717.47,272.12 1717.86,270.43 1718.24,269.00 1718.62,267.88 1719.01,267.14 1719.39,266.87 1719.77,267.74 1720.16,270.23 1720.54,273.82 1720.93,278.00 1721.31,282.24 1721.69,286.04 1722.08,288.86 1722.46,290.66 1722.85,292.25 1723.23,293.71 1723.61,295.04 1724.00,296.26 1724.38,297.40 1724.76,298.47 1725.15,299.49 1725.53,300.48 1725.92,301.45 1726.30,302.44 1726.68,303.44 1727.07,304.49 1727.45,305.60 1727.84,306.79 1728.22,308.07 1728.60,309.39 1728.99,310.74 1729.37,312.07 1729.76,313.36 1730.14,314.57 1730.52,315.68 1730.91,316.64 1731.29,317.43 1731.67,318.00 1732.06,318.37 1732.44,318.70 1732.83,319.19 1733.21,320.52 1733.59,323.14 1733.98,326.59 1734.36,330.39 1734.75,334.08 1735.13,337.20 1735.51,339.26 1735.90,340.27 1736.28,341.16 1736.67,341.96 1737.05,342.66 1737.43,343.24 1737.82,343.67 1738.20,343.94 1738.58,344.03 1738.97,343.78 1739.35,343.08 1739.74,341.96 1740.12,340.47 1740.50,338.63 1740.89,336.49 1741.27,334.08 1741.66,331.43 1742.04,328.58 1742.42,325.56 1742.81,322.42 1743.19,319.18 1743.57,315.89 1743.96,312.58 1744.34,309.28 1744.73,305.15 1745.11,299.31 1745.49,293.49 1745.88,289.50 1746.26,288.94 1746.65,290.65 1747.03,293.28 1747.41,295.74 1747.80,296.99 1748.18,297.32 1748.57,297.62 1748.95,297.89 1749.33,298.12 1749.72,298.32 1750.10,298.49 1750.48,298.63 1750.87,298.74 1751.25,298.83 1751.64,298.88 1752.02,298.91 1752.40,298.81 1752.79,297.99 1753.17,296.42 1753.56,294.21 1753.94,291.47 1754.32,288.31 1754.71,284.84 1755.09,281.15 1755.47,277.37 1755.86,273.59 1756.24,269.93 1756.63,266.49 1757.01,263.38 1757.39,260.71 1757.78,258.59 1758.16,257.12 1758.55,256.41 1758.93,256.11 1759.31,255.85 1759.70,255.63 1760.08,255.47 1760.47,255.37 1760.85,255.37 1761.23,256.05 1761.62,257.39 1762.00,259.09 1762.38,260.82 1762.77,262.26 1763.15,263.09 1763.54,262.78 1763.92,260.46 1764.30,256.73 1764.69,252.38 1765.07,248.16 1765.46,244.76 1765.84,241.59 1766.22,238.40 1766.61,235.28 1766.99,232.31 1767.38,229.60 1767.76,227.21 1768.14,225.12 1768.53,223.00 1768.91,220.88 1769.29,218.81 1769.68,216.85 1770.06,215.05 1770.45,213.47 1770.83,212.17 1771.21,211.18 1771.60,210.59 1771.98,210.43 1772.37,210.82 1772.75,211.72 1773.13,212.97 1773.52,214.46 1773.90,216.03 1774.28,217.56 1774.67,218.91 1775.05,219.94 1775.44,220.51 1775.82,220.43 1776.20,219.32 1776.59,217.35 1776.97,214.76 1777.36,211.78 1777.74,208.66 1778.12,205.62 1778.51,202.90 1778.89,200.74 1779.28,199.38 1779.66,198.61 1780.04,197.89 1780.43,197.22 1780.81,196.60 1781.19,196.04 1781.58,195.55 1781.96,195.14 1782.35,194.82 1782.73,194.59 1783.11,194.47 1783.50,194.54 1783.88,195.66 1784.27,197.81 1784.65,200.75 1785.03,204.20 1785.42,207.90 1785.80,211.60 1786.18,215.19 1786.57,219.92 1786.95,225.55 1787.34,231.41 1787.72,236.81 1788.10,241.05 1788.49,243.44 1788.87,243.18 1789.26,239.58 1789.64,233.32 1790.02,225.18 1790.41,215.97 1790.79,206.46 1791.18,197.47 1791.56,189.77 1791.94,184.17 1792.33,180.85 1792.71,177.85 1793.09,175.03 1793.48,172.47 1793.86,170.27 1794.25,168.53 1794.63,167.34 1795.01,166.78 1795.40,167.05 1795.78,168.33 1796.17,170.44 1796.55,173.19 1796.93,176.39 1797.32,179.85 1797.70,183.36 1798.09,186.74 1798.47,189.79 1798.85,192.33 1799.24,194.60 1799.62,197.03 1800.00,199.50 1800.39,201.84 1800.77,203.91 1801.16,205.57 1801.54,206.65 1801.92,207.03 1802.31,206.54 1802.69,205.22 1803.08,203.21 1803.46,200.66 1803.84,197.71 1804.23,194.49 1804.61,191.13 1804.99,187.79 1805.38,184.60 1805.76,181.64 1806.15,178.52 1806.53,175.19 1806.91,171.70 1807.30,168.14 1807.68,164.56 1808.07,161.03 1808.45,157.62 1808.83,154.39 1809.22,151.40 1809.60,148.33 1809.99,145.05 1810.37,141.69 1810.75,138.37 1811.14,135.23 1811.52,132.39 1811.90,129.99 1812.29,128.15 1812.67,127.00 1813.06,126.69 1813.44,128.15 1813.82,131.45 1814.21,135.96 1814.59,141.09 1814.98,146.22 1815.36,150.73 1815.74,154.04 1816.13,156.88 1816.51,159.64 1816.89,161.96 1817.28,163.48 1817.66,163.93 1818.05,164.11 1818.43,164.24 1818.81,164.34 1819.20,164.41 1819.58,164.48 1819.97,164.55 1820.35,164.63 1820.73,164.74 1821.12,164.89 1821.50,165.06 1821.89,165.26 1822.27,165.47 1822.65,165.71 1823.04,165.97 1823.42,166.24 1823.80,166.54 1824.19,166.85 1824.57,167.19 1824.96,167.54 1825.34,167.90 1825.72,168.29 1826.11,168.80 1826.49,169.46 1826.88,170.23 1827.26,171.08 1827.64,171.97 1828.03,172.87 1828.41,173.75 1828.80,174.57 1829.18,175.30 1829.56,175.90 1829.95,176.34 1830.33,176.59 1830.71,176.55 1831.10,175.91 1831.48,174.87 1831.87,173.80 1832.25,173.03 1832.63,172.86 1833.02,173.00 1833.40,173.28 1833.79,173.71 1834.17,174.27 1834.55,174.96 1834.94,175.77 1835.32,176.70 1835.70,177.73 1836.09,178.85 1836.47,180.06 1836.86,181.36 1837.24,182.73 1837.62,184.16 1838.01,185.65 1838.39,187.19 1838.78,188.77 1839.16,190.39 1839.54,192.20 1839.93,194.70 1840.31,197.72 1840.70,201.06 1841.08,204.51 1841.46,207.86 1841.85,210.91 1842.23,213.64 1842.61,216.48 1843.00,219.11 1843.38,221.17 1843.77,222.41 1844.15,223.41 1844.53,224.18 1844.92,224.61 1845.30,224.60 1845.69,224.31 1846.07,223.84 1846.45,223.30 1846.84,222.76 1847.22,222.31 1847.61,222.06 1847.99,222.17 1848.37,222.94 1848.76,224.22 1849.14,225.82 1849.52,227.53 1849.91,229.16 1850.29,230.54 1850.68,232.03 1851.06,233.67 1851.44,235.30 1851.83,236.77 1852.21,237.92 1852.60,238.58 1852.98,238.67 1853.36,238.53 1853.75,238.27 1854.13,237.94 1854.51,237.59 1854.90,237.27 1855.28,237.01 1855.67,236.87 1856.05,236.95 1856.43,237.59 1856.82,238.74 1857.20,240.28 1857.59,242.12 1857.97,244.17 1858.35,246.32 1858.74,248.46 1859.12,250.51 1859.51,252.36 1859.89,253.91 1860.27,255.06 1860.66,256.01 1861.04,256.94 1861.42,257.71 1861.81,258.17 1862.19,258.20 1862.58,257.82 1862.96,257.13 1863.34,256.22 1863.73,255.21 1864.11,254.18 1864.50,253.25 1864.88,252.50 1865.26,252.05 1865.65,251.97 1866.03,252.20 1866.41,252.66 1866.80,253.33 1867.18,254.15 1867.57,255.10 1867.95,256.13 1868.33,257.21 1868.72,258.30 1869.10,259.37 1869.49,260.37 1869.87,261.46 1870.25,262.71 1870.64,264.07 1871.02,265.49 1871.41,266.95 1871.79,268.39 1872.17,269.77 1872.56,271.05 1872.94,272.20 1873.32,273.17 1873.71,273.91 1874.09,274.49 1874.48,275.04 1874.86,275.50 1875.24,275.79 1875.63,275.84 1876.01,275.24 1876.40,274.04 1876.78,272.51 1877.16,270.91 1877.55,269.51 1877.93,268.56 1878.32,268.33 1878.70,268.58 1879.08,269.13 1879.47,269.96 1879.85,271.02 1880.23,272.27 1880.62,274.31 1881.00,278.54 1881.39,283.37 1881.77,286.98 1882.15,289.53 1882.54,291.80 1882.92,293.83 1883.31,295.63 1883.69,297.24 1884.07,298.67 1884.46,299.83 1884.84,300.81 1885.22,301.73 1885.61,302.68 1885.99,303.77 1886.38,305.12 1886.76,306.93 1887.14,309.44 1887.53,312.43 1887.91,315.65 1888.30,318.83 1888.68,321.74 1889.06,324.47 1889.45,327.32 1889.83,330.10 1890.22,332.63 1890.60,334.72 1890.98,336.21 1891.37,337.44 1891.75,338.54 1892.13,339.55 1892.52,340.45 1892.90,341.28 1893.29,342.03 1893.67,342.73 1894.05,343.38 1894.44,344.00 1894.82,344.60 1895.21,345.22 1895.59,345.85 1895.97,346.47 1896.36,347.01 1896.74,347.45 1897.12,347.73 1897.51,347.80 1897.89,347.64 1898.28,347.27 1898.66,346.72 1899.04,346.04 1899.43,345.27 1899.81,344.45 1900.20,343.63 1900.58,342.84 1900.96,342.12 1901.35,341.53 1901.73,341.10 1902.12,340.86 1902.50,340.89 1902.88,341.23 1903.27,341.85 1903.65,342.65 1904.03,343.57 1904.42,344.55 1904.80,345.84 1905.19,347.70 1905.57,349.83 1905.95,351.94 1906.34,353.73 1906.72,354.92 1907.11,355.82 1907.49,356.43 1907.87,356.38 1908.26,355.57 1908.64,354.51 1909.03,353.65 1909.41,352.77 1909.79,351.86 1910.18,350.95 1910.56,350.07 1910.94,349.27 1911.33,348.57 1911.71,348.02 1912.10,347.64 1912.48,347.35 1912.86,347.13 1913.25,346.95 1913.63,346.77 1914.02,346.58 1914.40,346.36 1914.78,346.07 1915.17,345.69 1915.55,345.13 1915.93,344.40 1916.32,343.54 1916.70,342.55 1917.09,341.47 1917.47,340.31 1917.85,339.11 1918.24,337.89 1918.62,336.65 1919.01,335.28 1919.39,333.77 1919.77,332.13 1920.16,330.41 1920.54,328.63 1920.93,326.83 1921.31,325.03 1921.69,323.28 1922.08,321.59 1922.46,319.90 1922.84,318.17 1923.23,316.44 1923.61,314.74 1924.00,313.10 1924.38,311.53 1924.76,310.06 1925.15,308.56 1925.53,307.02 1925.92,305.48 1926.30,303.98 1926.68,302.55 1927.07,301.23 1927.45,300.07 1927.83,299.09 1928.22,298.34 1928.60,297.85 1928.99,297.46 1929.37,297.12 1929.75,296.85 1930.14,296.71 1930.52,296.79 1930.91,297.50 1931.29,298.52 1931.67,299.45 1932.06,299.88 1932.44,299.64 1932.83,298.92 1933.21,297.80 1933.59,296.39 1933.98,294.55 1934.36,290.67 1934.74,285.73 1935.13,281.35 1935.51,277.48 1935.90,273.51 1936.28,269.72 1936.66,266.42 1937.05,263.89 1937.43,262.36 1937.82,261.28 1938.20,260.35 1938.58,259.56 1938.97,258.89 1939.35,258.29 1939.74,257.77 1940.12,257.28 1940.50,256.81 1940.89,256.41 1941.27,256.09 1941.65,255.81 1942.04,255.55 1942.42,255.29 1942.81,254.98 1943.19,254.62 1943.57,254.18 1943.96,253.61 1944.34,252.73 1944.73,251.54 1945.11,250.09 1945.49,248.44 1945.88,246.64 1946.26,244.75 1946.64,242.73 1947.03,240.01 1947.41,236.75 1947.80,233.30 1948.18,229.97 1948.56,227.11 1948.95,225.04 1949.33,223.95 1949.72,223.11 1950.10,222.41 1950.48,221.90 1950.87,221.66 1951.25,221.79 1951.64,222.38 1952.02,223.35 1952.40,224.58 1952.79,225.98 1953.17,227.44 1953.55,228.87 1953.94,230.15 1954.32,231.18 1954.71,231.87 1955.09,232.11 1955.47,231.97 1955.86,231.59 1956.24,231.01 1956.63,230.23 1957.01,229.30 1957.39,228.22 1957.78,227.04 1958.16,225.77 1958.54,224.44 1958.93,223.07 1959.31,221.69 1959.70,220.32 1960.08,218.99 1960.46,217.72 1960.85,216.55 1961.23,215.48 1961.62,214.56 1962.00,213.80 1962.38,213.22 1962.77,212.86 1963.15,212.74 1963.54,213.15 1963.92,214.22 1964.30,215.81 1964.69,217.79 1965.07,219.99 1965.45,222.27 1965.84,224.50 1966.22,226.52 1966.61,228.18 1966.99,229.35 1967.37,229.87 1967.76,229.54 1968.14,228.35 1968.53,226.51 1968.91,224.26 1969.29,221.83 1969.68,219.47 1970.06,217.41 1970.44,215.88 1970.83,215.11 1971.21,215.26 1971.60,216.10 1971.98,217.43 1972.36,219.06 1972.75,220.77 1973.13,222.40 1973.52,223.72 1973.90,224.56 1974.28,224.71 1974.67,224.10 1975.05,222.91 1975.44,221.37 1975.82,219.69 1976.20,218.08 1976.59,216.77 1976.97,215.98 1977.35,215.87 1977.74,216.10 1978.12,216.51 1978.51,217.01 1978.89,217.51 1979.27,217.94 1979.66,218.21 1980.04,218.19 1980.43,217.47 1980.81,216.14 1981.19,214.37 1981.58,212.36 1981.96,210.29 1982.35,208.34 1982.73,206.66 1983.11,205.05 1983.50,203.42 1983.88,201.78 1984.26,200.12 1984.65,198.45 1985.03,196.77 1985.42,195.08 1985.80,193.38" fill="none" stroke="#808080" stroke-width="5.6" stroke-linejoin="round" stroke-linecap="butt" />
<polyline clip-path="url(#clipb)" points="1371.60,191.40 1371.98,191.40 1372.37,191.40 1372.75,191.40 1373.14,191.40 1373.52,191.40 1373.90,191.40 1374.29,191.40 1374.67,191.40 1375.05,191.40 1375.44,191.40 1375.82,191.40 1376.21,191.40 1376.59,191.40 1376.97,191.40 1377.36,191.40 1377.74,191.40 1378.13,191.40 1378.51,191.40 1378.89,191.40 1379.28,191.40 1379.66,191.40 1380.05,191.40 1380.43,191.40 1380.81,191.40 1381.20,191.40 1381.58,191.40 1381.96,191.40 1382.35,191.40 1382.73,191.40 1383.12,191.40 1383.50,191.40 1383.88,191.40 1384.27,191.40 1384.65,191.40 1385.04,191.40 1385.42,191.40 1385.80,191.40 1386.19,191.40 1386.57,191.40 1386.95,191.40 1387.34,191.40 1387.72,191.40 1388.11,191.40 1388.49,191.40 1388.87,191.40 1389.26,191.40 1389.64,191.40 1390.03,191.40 1390.41,191.40 1390.79,191.40 1391.18,191.40 1391.56,191.40 1391.95,191.40 1392.33,191.40 1392.71,191.40 1393.10,191.40 1393.48,191.40 1393.86,191.40 1394.25,191.40 1394.63,191.40 1395.02,191.40 1395.40,191.40 1395.78,191.40 1396.17,191.40 1396.55,191.40 1396.94,191.40 1397.32,191.40 1397.70,191.40 1398.09,191.40 1398.47,191.40 1398.86,191.40 1399.24,191.40 1399.62,191.40 1400.01,191.40 1400.39,191.40 1400.77,191.40 1401.16,191.40 1401.54,191.40 1401.93,191.40 1402.31,191.40 1402.69,191.40 1403.08,191.40 1403.46,191.40 1403.85,191.40 1404.23,191.40 1404.61,191.40 1405.00,191.40 1405.38,191.40 1405.76,191.40 1406.15,191.40 1406.53,190.71 1406.92,187.22 1407.30,182.27 1407.68,177.52 1408.07,174.21 1408.45,171.34 1408.84,168.68 1409.22,166.14 1409.60,163.62 1409.99,161.04 1410.37,158.16 1410.76,155.01 1411.14,151.91 1411.52,149.21 1411.91,147.23 1412.29,146.19 1412.67,145.40 1413.06,144.64 1413.44,143.91 1413.83,143.21 1414.21,142.53 1414.59,141.89 1414.98,141.27 1415.36,140.69 1415.75,140.13 1416.13,139.60 1416.51,139.10 1416.90,138.63 1417.28,138.18 1417.66,137.76 1418.05,137.37 1418.43,137.01 1418.82,136.67 1419.20,136.36 1419.58,136.07 1419.97,135.82 1420.35,135.58 1420.74,135.38 1421.12,135.19 1421.50,135.04 1421.89,134.90 1422.27,134.80 1422.66,134.71 1423.04,134.65 1423.42,134.62 1423.81,134.61 1424.19,134.64 1424.57,134.73 1424.96,134.88 1425.34,135.08 1425.73,135.33 1426.11,135.63 1426.49,135.97 1426.88,136.34 1427.26,136.76 1427.65,137.20 1428.03,137.67 1428.41,138.17 1428.80,138.69 1429.18,139.22 1429.57,139.77 1429.95,140.33 1430.33,140.90 1430.72,141.46 1431.10,142.03 1431.48,142.59 1431.87,143.15 1432.25,143.69 1432.64,144.22 1433.02,144.73 1433.40,145.22 1433.79,145.68 1434.17,146.11 1434.56,146.51 1434.94,146.88 1435.32,147.22 1435.71,147.54 1436.09,147.86 1436.47,148.17 1436.86,148.49 1437.24,148.82 1437.63,149.18 1438.01,149.56 1438.39,149.98 1438.78,150.44 1439.16,150.96 1439.55,151.53 1439.93,152.19 1440.31,153.16 1440.70,154.40 1441.08,155.87 1441.47,157.49 1441.85,159.20 1442.23,160.93 1442.62,162.60 1443.00,164.16 1443.38,165.53 1443.77,166.71 1444.15,167.79 1444.54,168.80 1444.92,169.75 1445.30,170.67 1445.69,171.56 1446.07,172.46 1446.46,173.37 1446.84,174.32 1447.22,175.32 1447.61,176.39 1447.99,177.56 1448.38,178.83 1448.76,180.25 1449.14,181.83 1449.53,183.55 1449.91,185.37 1450.29,187.29 1450.68,189.28 1451.06,191.31 1451.45,193.36 1451.83,195.81 1452.21,198.78 1452.60,201.90 1452.98,204.78 1453.37,207.02 1453.75,208.25 1454.13,208.37 1454.52,208.37 1454.90,208.37 1455.28,208.37 1455.67,208.37 1456.05,208.37 1456.44,208.37 1456.82,208.37 1457.20,208.37 1457.59,208.37 1457.97,208.37 1458.36,208.37 1458.74,208.37 1459.12,208.37 1459.51,208.37 1459.89,208.37 1460.28,208.37 1460.66,208.37 1461.04,208.37 1461.43,208.37 1461.81,208.37 1462.19,208.37 1462.58,208.37 1462.96,208.37 1463.35,208.37 1463.73,208.37 1464.11,210.16 1464.50,214.38 1464.88,219.35 1465.27,223.39 1465.65,226.57 1466.03,229.86 1466.42,232.91 1466.80,235.36 1467.18,236.83 1467.57,237.08 1467.95,236.93 1468.34,236.63 1468.72,236.18 1469.10,235.62 1469.49,234.95 1469.87,234.20 1470.26,233.37 1470.64,232.49 1471.02,231.57 1471.41,230.62 1471.79,229.67 1472.18,228.73 1472.56,227.81 1472.94,226.94 1473.33,226.13 1473.71,225.39 1474.09,224.74 1474.48,224.20 1474.86,223.78 1475.25,223.51 1475.63,223.39 1476.01,223.52 1476.40,224.05 1476.78,224.90 1477.17,226.04 1477.55,227.38 1477.93,228.89 1478.32,230.49 1478.70,232.12 1479.08,233.73 1479.47,235.26 1479.85,236.64 1480.24,237.82 1480.62,238.74 1481.00,239.33 1481.39,239.54 1481.77,239.45 1482.16,239.18 1482.54,238.76 1482.92,238.21 1483.31,237.54 1483.69,236.79 1484.08,235.98 1484.46,235.12 1484.84,234.24 1485.23,233.36 1485.61,232.50 1485.99,231.69 1486.38,230.94 1486.76,230.27 1487.15,229.72 1487.53,229.30 1487.91,229.03 1488.30,228.94 1488.68,229.54 1489.07,231.12 1489.45,233.31 1489.83,235.74 1490.22,238.04 1490.60,239.85 1490.99,240.97 1491.37,241.87 1491.75,242.63 1492.14,243.29 1492.52,243.88 1492.90,244.44 1493.29,245.00 1493.67,245.59 1494.06,246.25 1494.44,247.01 1494.82,247.91 1495.21,248.95 1495.59,250.07 1495.98,251.33 1496.36,252.83 1496.74,254.70 1497.13,257.04 1497.51,259.94 1497.89,266.60 1498.28,277.27 1498.66,287.65 1499.05,295.83 1499.43,304.44 1499.81,313.21 1500.20,321.74 1500.58,329.62 1500.97,336.44 1501.35,341.82 1501.73,345.34 1502.12,346.60 1502.50,345.60 1502.89,342.77 1503.27,338.38 1503.65,332.68 1504.04,325.94 1504.42,318.41 1504.80,310.36 1505.19,302.05 1505.57,293.74 1505.96,285.69 1506.34,278.16 1506.72,271.42 1507.11,265.72 1507.49,261.32 1507.88,258.50 1508.26,257.50 1508.64,258.41 1509.03,260.96 1509.41,264.90 1509.79,269.95 1510.18,275.85 1510.56,282.33 1510.95,289.13 1511.33,295.98 1511.71,302.62 1512.10,308.79 1512.48,314.21 1512.87,318.62 1513.25,321.76 1513.63,323.36 1514.02,323.23 1514.40,321.59 1514.79,318.61 1515.17,314.44 1515.55,309.23 1515.94,303.14 1516.32,296.32 1516.70,288.93 1517.09,281.10 1517.47,273.00 1517.86,264.78 1518.24,256.60 1518.62,248.59 1519.01,240.92 1519.39,233.73 1519.78,227.19 1520.16,221.44 1520.54,216.63 1520.93,212.91 1521.31,210.45 1521.70,209.38 1522.08,210.82 1522.46,216.23 1522.85,224.67 1523.23,235.13 1523.61,246.60 1524.00,258.07 1524.38,268.54 1524.77,276.98 1525.15,282.39 1525.53,283.83 1525.92,282.97 1526.30,281.00 1526.69,278.01 1527.07,274.13 1527.45,269.48 1527.84,264.17 1528.22,258.32 1528.60,252.05 1528.99,245.47 1529.37,238.71 1529.76,231.87 1530.14,225.09 1530.52,218.46 1530.91,212.12 1531.29,206.18 1531.68,200.75 1532.06,195.96 1532.44,191.91 1532.83,188.74 1533.21,186.55 1533.60,185.46 1533.98,186.20 1534.36,190.86 1534.75,198.63 1535.13,208.39 1535.51,219.05 1535.90,229.48 1536.28,238.58 1536.67,245.24 1537.05,248.34 1537.43,248.06 1537.82,246.60 1538.20,244.16 1538.59,240.86 1538.97,236.82 1539.35,232.19 1539.74,227.07 1540.12,221.60 1540.50,215.90 1540.89,210.11 1541.27,204.34 1541.66,198.72 1542.04,193.37 1542.42,188.43 1542.81,184.02 1543.19,180.27 1543.58,177.29 1543.96,175.23 1544.34,174.20 1544.73,174.47 1545.11,176.57 1545.50,180.28 1545.88,185.27 1546.26,191.26 1546.65,197.92 1547.03,204.95 1547.41,212.04 1547.80,218.89 1548.18,225.18 1548.57,230.61 1548.95,234.87 1549.33,237.65 1549.72,238.65 1550.10,238.10 1550.49,236.55 1550.87,234.07 1551.25,230.79 1551.64,226.81 1552.02,222.22 1552.41,217.14 1552.79,211.66 1553.17,205.90 1553.56,199.94 1553.94,193.90 1554.32,187.89 1554.71,181.99 1555.09,176.33 1555.48,171.00 1555.86,166.10 1556.24,161.74 1556.63,158.03 1557.01,155.06 1557.40,152.94 1557.78,151.78 1558.16,151.72 1558.55,153.26 1558.93,156.22 1559.31,160.30 1559.70,165.18 1560.08,170.56 1560.47,176.13 1560.85,181.57 1561.23,186.57 1561.62,190.84 1562.00,194.05 1562.39,195.89 1562.77,195.97 1563.15,193.35 1563.54,188.21 1563.92,180.98 1564.31,172.10 1564.69,162.00 1565.07,151.13 1565.46,139.90 1565.84,128.76 1566.22,118.15 1566.61,108.49 1566.99,100.22 1567.38,93.77 1567.76,89.59 1568.14,88.09 1568.53,89.08 1568.91,91.86 1569.30,96.19 1569.68,101.80 1570.06,108.44 1570.45,115.85 1570.83,123.77 1571.21,131.95 1571.60,140.14 1571.98,148.06 1572.37,155.47 1572.75,162.11 1573.13,167.72 1573.52,172.05 1573.90,174.83 1574.29,175.81 1574.67,174.22 1575.05,169.73 1575.44,162.83 1575.82,153.97 1576.21,143.63 1576.59,132.26 1576.97,120.33 1577.36,108.31 1577.74,96.66 1578.12,85.85 1578.51,76.34 1578.89,68.60 1579.28,63.09 1579.66,60.29 1580.04,60.30 1580.43,61.90 1580.81,64.79 1581.20,68.77 1581.58,73.68 1581.96,79.34 1582.35,85.56 1582.73,92.17 1583.12,99.00 1583.50,105.86 1583.88,112.58 1584.27,118.98 1584.65,124.89 1585.03,130.12 1585.42,134.49 1585.80,137.84 1586.19,139.97 1586.57,140.73 1586.95,139.56 1587.34,136.25 1587.72,131.11 1588.11,124.44 1588.49,116.56 1588.87,107.76 1589.26,98.34 1589.64,88.62 1590.02,78.91 1590.41,69.49 1590.79,60.69 1591.18,52.80 1591.56,46.14 1591.94,41.00 1592.33,37.69 1592.71,36.52 1593.10,37.50 1593.48,40.28 1593.86,44.65 1594.25,50.39 1594.63,57.27 1595.02,65.08 1595.40,73.59 1595.78,82.59 1596.17,91.85 1596.55,101.16 1596.93,110.29 1597.32,119.02 1597.70,127.14 1598.09,134.42 1598.47,140.64 1598.85,145.58 1599.24,149.02 1599.62,150.75 1600.01,150.45 1600.39,147.77 1600.77,143.02 1601.16,136.58 1601.54,128.82 1601.92,120.09 1602.31,110.78 1602.69,101.24 1603.08,91.85 1603.46,82.98 1603.84,75.00 1604.23,68.26 1604.61,63.15 1605.00,60.03 1605.38,59.27 1605.76,61.29 1606.15,65.90 1606.53,72.67 1606.92,81.22 1607.30,91.14 1607.68,102.02 1608.07,113.47 1608.45,125.08 1608.83,136.44 1609.22,147.16 1609.60,156.84 1609.99,165.07 1610.37,171.44 1610.75,175.56 1611.14,177.02 1611.52,175.70 1611.91,172.00 1612.29,166.27 1612.67,158.91 1613.06,150.27 1613.44,140.74 1613.83,130.69 1614.21,120.48 1614.59,110.50 1614.98,101.12 1615.36,92.71 1615.74,85.64 1616.13,80.29 1616.51,77.03 1616.90,76.23 1617.28,77.88 1617.66,81.66 1618.05,87.28 1618.43,94.46 1618.82,102.90 1619.20,112.33 1619.58,122.44 1619.97,132.95 1620.35,143.59 1620.73,154.04 1621.12,164.04 1621.50,173.29 1621.89,181.50 1622.27,188.39 1622.65,193.67 1623.04,197.05 1623.42,198.24 1623.81,196.98 1624.19,193.45 1624.57,187.99 1624.96,180.94 1625.34,172.64 1625.73,163.45 1626.11,153.70 1626.49,143.75 1626.88,133.94 1627.26,124.61 1627.64,116.11 1628.03,108.78 1628.41,102.97 1628.80,99.02 1629.18,97.29 1629.56,98.08 1629.95,101.35 1630.33,106.76 1630.72,113.94 1631.10,122.58 1631.48,132.31 1631.87,142.80 1632.25,153.70 1632.63,164.67 1633.02,175.36 1633.40,185.44 1633.79,194.55 1634.17,202.36 1634.55,208.51 1634.94,212.68 1635.32,214.50 1635.71,213.88 1636.09,211.26 1636.47,206.92 1636.86,201.12 1637.24,194.11 1637.63,186.17 1638.01,177.55 1638.39,168.51 1638.78,159.31 1639.16,150.22 1639.54,141.50 1639.93,133.40 1640.31,126.19 1640.70,120.12 1641.08,115.47 1641.46,112.48 1641.85,111.43 1642.23,113.07 1642.62,117.66 1643.00,124.73 1643.38,133.81 1643.77,144.41 1644.15,156.06 1644.54,168.28 1644.92,180.59 1645.30,192.53 1645.69,203.60 1646.07,213.34 1646.45,221.27 1646.84,226.92 1647.22,229.79 1647.61,229.65 1647.99,227.23 1648.37,222.93 1648.76,217.02 1649.14,209.82 1649.53,201.60 1649.91,192.68 1650.29,183.34 1650.68,173.89 1651.06,164.61 1651.44,155.81 1651.83,147.77 1652.21,140.80 1652.60,135.19 1652.98,131.24 1653.36,129.24 1653.75,129.57 1654.13,132.53 1654.52,137.81 1654.90,145.03 1655.28,153.82 1655.67,163.80 1656.05,174.60 1656.44,185.86 1656.82,197.18 1657.20,208.21 1657.59,218.57 1657.97,227.88 1658.35,235.77 1658.74,241.87 1659.12,245.80 1659.51,247.20 1659.89,245.91 1660.27,242.28 1660.66,236.66 1661.04,229.37 1661.43,220.78 1661.81,211.23 1662.19,201.05 1662.58,190.60 1662.96,180.22 1663.34,170.25 1663.73,161.04 1664.11,152.93 1664.50,146.27 1664.88,141.40 1665.26,138.67 1665.65,138.41 1666.03,140.67 1666.42,145.14 1666.80,151.48 1667.18,159.36 1667.57,168.45 1667.95,178.40 1668.34,188.90 1668.72,199.59 1669.10,210.15 1669.49,220.24 1669.87,229.53 1670.25,237.67 1670.64,244.35 1671.02,249.22 1671.41,251.95 1671.79,252.21 1672.17,249.94 1672.56,245.48 1672.94,239.17 1673.33,231.37 1673.71,222.43 1674.09,212.72 1674.48,202.58 1674.86,192.37 1675.25,182.44 1675.63,173.15 1676.01,164.86 1676.40,157.91 1676.78,152.66 1677.16,149.47 1677.55,148.68 1677.93,150.11 1678.32,153.40 1678.70,158.28 1679.08,164.54 1679.47,171.91 1679.85,180.16 1680.24,189.04 1680.62,198.31 1681.00,207.73 1681.39,217.05 1681.77,226.03 1682.15,234.42 1682.54,241.99 1682.92,248.48 1683.31,253.66 1683.69,257.29 1684.07,259.11 1684.46,258.83 1684.84,256.22 1685.23,251.58 1685.61,245.20 1685.99,237.43 1686.38,228.56 1686.76,218.93 1687.15,208.86 1687.53,198.65 1687.91,188.64 1688.30,179.14 1688.68,170.47 1689.06,162.95 1689.45,156.90 1689.83,152.63 1690.22,150.47 1690.60,150.78 1690.98,153.74 1691.37,159.01 1691.75,166.22 1692.14,175.00 1692.52,184.97 1692.90,195.76 1693.29,206.99 1693.67,218.31 1694.05,229.32 1694.44,239.66 1694.82,248.96 1695.21,256.84 1695.59,262.93 1695.97,266.86 1696.36,268.25 1696.74,266.93 1697.13,263.20 1697.51,257.41 1697.89,249.92 1698.28,241.08 1698.66,231.26 1699.05,220.79 1699.43,210.04 1699.81,199.37 1700.20,189.11 1700.58,179.64 1700.96,171.30 1701.35,164.45 1701.73,159.44 1702.12,156.63 1702.50,156.36 1702.88,158.62 1703.27,163.10 1703.65,169.45 1704.04,177.34 1704.42,186.44 1704.80,196.41 1705.19,206.92 1705.57,217.63 1705.96,228.20 1706.34,238.31 1706.72,247.61 1707.11,255.77 1707.49,262.46 1707.87,267.33 1708.26,270.07 1708.64,270.38 1709.03,268.67 1709.41,265.28 1709.79,260.46 1710.18,254.43 1710.56,247.45 1710.95,239.74 1711.33,231.56 1711.71,223.13 1712.10,214.71 1712.48,206.53 1712.86,198.82 1713.25,191.84 1713.63,185.81 1714.02,180.98 1714.40,177.60 1714.78,175.89 1715.17,176.41 1715.55,180.35 1715.94,187.31 1716.32,196.77 1716.70,208.17 1717.09,220.98 1717.47,234.65 1717.86,248.65 1718.24,262.43 1718.62,275.45 1719.01,287.18 1719.39,297.07 1719.77,304.57 1720.16,309.16 1720.54,310.30 1720.93,308.48 1721.31,304.34 1721.69,298.25 1722.08,290.57 1722.46,281.65 1722.85,271.87 1723.23,261.58 1723.61,251.15 1724.00,240.93 1724.38,231.29 1724.76,222.60 1725.15,215.20 1725.53,209.47 1725.92,205.77 1726.30,204.46 1726.68,205.49 1727.07,208.43 1727.45,213.04 1727.84,219.07 1728.22,226.27 1728.60,234.39 1728.99,243.21 1729.37,252.46 1729.76,261.91 1730.14,271.31 1730.52,280.42 1730.91,288.99 1731.29,296.77 1731.67,303.53 1732.06,309.02 1732.44,312.99 1732.83,315.20 1733.21,315.36 1733.59,313.01 1733.98,308.36 1734.36,301.77 1734.75,293.57 1735.13,284.12 1735.51,273.76 1735.90,262.85 1736.28,251.73 1736.67,240.75 1737.05,230.26 1737.43,220.60 1737.82,212.12 1738.20,205.18 1738.58,200.11 1738.97,197.27 1739.35,196.98 1739.74,199.09 1740.12,203.27 1740.50,209.19 1740.89,216.56 1741.27,225.05 1741.66,234.35 1742.04,244.15 1742.42,254.14 1742.81,264.01 1743.19,273.43 1743.57,282.11 1743.96,289.73 1744.34,295.96 1744.73,300.51 1745.11,303.06 1745.49,303.31 1745.88,301.21 1746.26,297.02 1746.65,291.04 1747.03,283.54 1747.41,274.80 1747.80,265.10 1748.18,254.73 1748.57,243.97 1748.95,233.09 1749.33,222.39 1749.72,212.13 1750.10,202.60 1750.48,194.09 1750.87,186.87 1751.25,181.22 1751.64,177.43 1752.02,175.78 1752.40,176.38 1752.79,178.88 1753.17,182.99 1753.56,188.43 1753.94,194.92 1754.32,202.20 1754.71,209.97 1755.09,217.96 1755.47,225.90 1755.86,233.51 1756.24,240.51 1756.63,246.61 1757.01,251.55 1757.39,255.05 1757.78,256.82 1758.16,256.35 1758.55,252.64 1758.93,246.09 1759.31,237.22 1759.70,226.57 1760.08,214.66 1760.47,202.01 1760.85,189.15 1761.23,176.60 1761.62,164.90 1762.00,154.56 1762.38,146.12 1762.77,140.10 1763.15,137.02 1763.54,137.20 1763.92,139.93 1764.30,144.79 1764.69,151.44 1765.07,159.54 1765.46,168.73 1765.84,178.69 1766.22,189.05 1766.61,199.49 1766.99,209.65 1767.38,219.19 1767.76,227.77 1768.14,235.04 1768.53,240.66 1768.91,244.28 1769.29,245.57 1769.68,244.02 1770.06,239.66 1770.45,232.89 1770.83,224.10 1771.21,213.70 1771.60,202.09 1771.98,189.68 1772.37,176.87 1772.75,164.05 1773.13,151.64 1773.52,140.04 1773.90,129.64 1774.28,120.85 1774.67,114.07 1775.05,109.71 1775.44,108.17 1775.82,109.36 1776.20,112.74 1776.59,118.03 1776.97,124.95 1777.36,133.21 1777.74,142.55 1778.12,152.67 1778.51,163.29 1778.89,174.15 1779.28,184.94 1779.66,195.40 1780.04,205.24 1780.43,214.18 1780.81,221.94 1781.19,228.24 1781.58,232.80 1781.96,235.34 1782.35,235.51 1782.73,232.71 1783.11,227.18 1783.50,219.37 1783.88,209.72 1784.27,198.67 1784.65,186.64 1785.03,174.10 1785.42,161.46 1785.80,149.18 1786.18,137.68 1786.57,127.42 1786.95,118.82 1787.34,112.33 1787.72,108.38 1788.10,107.40 1788.49,108.92 1788.87,112.42 1789.26,117.63 1789.64,124.30 1790.02,132.16 1790.41,140.96 1790.79,150.43 1791.18,160.32 1791.56,170.36 1791.94,180.30 1792.33,189.87 1792.71,198.83 1793.09,206.90 1793.48,213.82 1793.86,219.35 1794.25,223.21 1794.63,225.15 1795.01,224.62 1795.40,220.53 1795.78,213.34 1796.17,203.63 1796.55,192.02 1796.93,179.08 1797.32,165.43 1797.70,151.66 1798.09,138.37 1798.47,126.15 1798.85,115.61 1799.24,107.34 1799.62,101.94 1800.00,100.01 1800.39,101.62 1800.77,106.14 1801.16,113.05 1801.54,121.86 1801.92,132.08 1802.31,143.19 1802.69,154.70 1803.08,166.11 1803.46,176.92 1803.84,186.63 1804.23,194.74 1804.61,200.76 1804.99,204.17 1805.38,204.40 1805.76,200.48 1806.15,192.87 1806.53,182.31 1806.91,169.54 1807.30,155.29 1807.68,140.31 1808.07,125.33 1808.45,111.08 1808.83,98.31 1809.22,87.75 1809.60,80.14 1809.99,76.22 1810.37,76.05 1810.75,77.21 1811.14,79.26 1811.52,82.05 1811.90,85.45 1812.29,89.29 1812.67,93.43 1813.06,97.72 1813.44,102.01 1813.82,106.16 1814.21,110.00 1814.59,113.39 1814.98,116.19 1815.36,118.24 1815.74,119.39 1816.13,119.56 1816.51,119.23 1816.89,118.57 1817.28,117.63 1817.66,116.48 1818.05,115.16 1818.43,113.72 1818.81,112.22 1819.20,110.71 1819.58,109.25 1819.97,107.87 1820.35,106.65 1820.73,105.62 1821.12,104.85 1821.50,104.37 1821.89,104.26 1822.27,104.72 1822.65,105.79 1823.04,107.41 1823.42,109.53 1823.80,112.08 1824.19,115.00 1824.57,118.24 1824.96,121.74 1825.34,125.43 1825.72,129.27 1826.11,133.19 1826.49,137.14 1826.88,141.04 1827.26,144.86 1827.64,148.52 1828.03,151.97 1828.41,155.15 1828.80,158.00 1829.18,160.47 1829.56,162.49 1829.95,164.01 1830.33,164.96 1830.71,165.29 1831.10,165.06 1831.48,164.40 1831.87,163.36 1832.25,162.00 1832.63,160.37 1833.02,158.52 1833.40,156.51 1833.79,154.38 1834.17,152.18 1834.55,149.98 1834.94,147.82 1835.32,145.75 1835.70,143.83 1836.09,142.10 1836.47,140.63 1836.86,139.46 1837.24,138.64 1837.62,138.23 1838.01,138.50 1838.39,140.25 1838.78,143.34 1839.16,147.53 1839.54,152.59 1839.93,158.27 1840.31,164.34 1840.70,170.55 1841.08,176.66 1841.46,182.44 1841.85,187.64 1842.23,192.03 1842.61,195.36 1843.00,197.40 1843.38,197.90 1843.77,196.97 1844.15,194.89 1844.53,191.88 1844.92,188.17 1845.30,183.96 1845.69,179.50 1846.07,174.98 1846.45,170.65 1846.84,166.71 1847.22,163.39 1847.61,160.91 1847.99,159.50 1848.37,159.33 1848.76,160.17 1849.14,161.84 1849.52,164.19 1849.91,167.10 1850.29,170.43 1850.68,174.05 1851.06,177.83 1851.44,181.63 1851.83,185.33 1852.21,188.79 1852.60,191.88 1852.98,194.47 1853.36,196.43 1853.75,197.62 1854.13,197.92 1854.51,197.61 1854.90,196.91 1855.28,195.86 1855.67,194.51 1856.05,192.91 1856.43,191.12 1856.82,189.17 1857.20,187.13 1857.59,185.04 1857.97,182.94 1858.35,180.90 1858.74,178.95 1859.12,177.16 1859.51,175.56 1859.89,174.21 1860.27,173.16 1860.66,172.46 1861.04,172.15 1861.42,173.03 1861.81,176.23 1862.19,181.05 1862.58,186.75 1862.96,192.56 1863.34,197.74 1863.73,201.54 1864.11,203.62 1864.50,205.32 1864.88,206.83 1865.26,208.17 1865.65,209.37 1866.03,210.45 1866.41,211.43 1866.80,212.35 1867.18,213.23 1867.57,214.09 1867.95,214.95 1868.33,215.85 1868.72,216.80 1869.10,217.83 1869.49,218.96 1869.87,220.23 1870.25,221.67 1870.64,223.39 1871.02,225.32 1871.41,227.40 1871.79,229.57 1872.17,231.77 1872.56,233.91 1872.94,235.95 1873.32,237.82 1873.71,239.45 1874.09,240.77 1874.48,241.73 1874.86,242.32 1875.24,242.82 1875.63,243.25 1876.01,243.63 1876.40,243.97 1876.78,244.26 1877.16,244.51 1877.55,244.74 1877.93,244.94 1878.32,245.13 1878.70,245.30 1879.08,245.47 1879.47,245.64 1879.85,245.82 1880.23,246.02 1880.62,246.23 1881.00,246.47 1881.39,246.74 1881.77,247.06 1882.15,247.41 1882.54,247.82 1882.92,248.29 1883.31,248.82 1883.69,249.48 1884.07,250.81 1884.46,252.81 1884.84,255.35 1885.22,258.28 1885.61,261.47 1885.99,264.78 1886.38,268.06 1886.76,271.19 1887.14,274.01 1887.53,276.40 1887.91,278.22 1888.30,279.86 1888.68,281.51 1889.06,283.13 1889.45,284.71 1889.83,286.21 1890.22,287.60 1890.60,288.85 1890.98,289.93 1891.37,290.80 1891.75,291.45 1892.13,291.83 1892.52,291.93 1892.90,291.92 1893.29,291.90 1893.67,291.87 1894.05,291.82 1894.44,291.76 1894.82,291.69 1895.21,291.61 1895.59,291.51 1895.97,291.40 1896.36,291.28 1896.74,291.14 1897.12,291.00 1897.51,290.83 1897.89,290.66 1898.28,290.47 1898.66,290.27 1899.04,290.05 1899.43,289.82 1899.81,289.58 1900.20,289.32 1900.58,289.05 1900.96,288.76 1901.35,288.46 1901.73,288.15 1902.12,287.82 1902.50,287.39 1902.88,286.53 1903.27,285.27 1903.65,283.71 1904.03,281.95 1904.42,280.05 1904.80,278.12 1905.19,276.25 1905.57,274.51 1905.95,273.00 1906.34,271.62 1906.72,270.23 1907.11,268.83 1907.49,267.44 1907.87,266.08 1908.26,264.76 1908.64,263.48 1909.03,262.27 1909.41,261.13 1909.79,260.08 1910.18,259.14 1910.56,258.31 1910.94,257.56 1911.33,256.83 1911.71,256.12 1912.10,255.43 1912.48,254.76 1912.86,254.12 1913.25,253.50 1913.63,252.91 1914.02,252.34 1914.40,251.79 1914.78,251.27 1915.17,250.77 1915.55,250.30 1915.93,249.85 1916.32,249.43 1916.70,249.03 1917.09,248.66 1917.47,248.32 1917.85,248.00 1918.24,247.70 1918.62,247.44 1919.01,247.22 1919.39,247.02 1919.77,246.84 1920.16,246.68 1920.54,246.53 1920.93,246.40 1921.31,246.26 1921.69,246.12 1922.08,245.97 1922.46,245.81 1922.84,245.62 1923.23,245.42 1923.61,245.18 1924.00,244.91 1924.38,244.60 1924.76,244.18 1925.15,243.59 1925.53,242.85 1925.92,241.98 1926.30,241.01 1926.68,239.95 1927.07,238.84 1927.45,237.68 1927.83,236.49 1928.22,235.32 1928.60,234.16 1928.99,233.04 1929.37,231.99 1929.75,230.89 1930.14,229.68 1930.52,228.42 1930.91,227.12 1931.29,225.82 1931.67,224.54 1932.06,223.32 1932.44,222.18 1932.83,221.16 1933.21,220.28 1933.59,219.57 1933.98,219.06 1934.36,218.65 1934.74,218.28 1935.13,217.94 1935.51,217.64 1935.90,217.37 1936.28,217.11 1936.66,216.88 1937.05,216.65 1937.43,216.44 1937.82,216.23 1938.20,216.02 1938.58,215.80 1938.97,215.57 1939.35,215.33 1939.74,215.06 1940.12,214.79 1940.50,214.51 1940.89,214.23 1941.27,213.94 1941.65,213.66 1942.04,213.37 1942.42,213.08 1942.81,212.78 1943.19,212.49 1943.57,212.20 1943.96,211.90 1944.34,211.61 1944.73,211.31 1945.11,211.01 1945.49,210.72 1945.88,210.43 1946.26,210.13 1946.64,209.84 1947.03,209.55 1947.41,209.27 1947.80,208.98 1948.18,208.70 1948.56,208.42 1948.95,208.14 1949.33,207.87 1949.72,207.60 1950.10,207.34 1950.48,207.08 1950.87,206.82 1951.25,206.57 1951.64,206.33 1952.02,206.09 1952.40,205.86 1952.79,205.63 1953.17,205.41 1953.55,205.20 1953.94,204.99 1954.32,204.79 1954.71,204.59 1955.09,204.39 1955.47,204.20 1955.86,204.02 1956.24,203.83 1956.63,203.65 1957.01,203.46 1957.39,203.28 1957.78,203.10 1958.16,202.92 1958.54,202.74 1958.93,202.55 1959.31,202.37 1959.70,202.18 1960.08,201.99 1960.46,201.79 1960.85,201.60 1961.23,201.39 1961.62,201.19 1962.00,200.97 1962.38,200.76 1962.77,200.53 1963.15,200.30 1963.54,200.06 1963.92,199.82 1964.30,199.56 1964.69,199.29 1965.07,199.01 1965.45,198.72 1965.84,198.41 1966.22,198.09 1966.61,197.76 1966.99,197.42 1967.37,197.07 1967.76,196.71 1968.14,196.34 1968.53,195.97 1968.91,195.59 1969.29,195.21 1969.68,194.82 1970.06,194.43 1970.44,194.04 1970.83,193.64 1971.21,193.25 1971.60,192.85 1971.98,192.46 1972.36,192.07 1972.75,191.68 1973.13,191.29 1973.52,190.91 1973.90,190.54 1974.28,190.17 1974.67,189.81 1975.05,189.45 1975.44,189.11 1975.82,188.77 1976.20,188.45 1976.59,188.14 1976.97,187.83 1977.35,187.53 1977.74,187.23 1978.12,186.93 1978.51,186.64 1978.89,186.35 1979.27,186.06 1979.66,185.77 1980.04,185.49 1980.43,185.21 1980.81,184.93 1981.19,184.66 1981.58,184.39 1981.96,184.12 1982.35,183.85 1982.73,183.59 1983.11,183.33 1983.50,183.08 1983.88,182.83 1984.26,182.58 1984.65,182.33 1985.03,182.09 1985.42,181.85 1985.80,181.61" fill="none" stroke="#000" stroke-width="5.6" stroke-linejoin="round" stroke-linecap="butt" stroke-dasharray="5.6 9.24" stroke-dashoffset="3.44"/>
<rect x="1371.60" y="11.60" width="614.20" height="358.90" fill="none" stroke="#000" stroke-width="2.9"/>
<line x1="1371.60" y1="370.50" x2="1371.60" y2="378.50" stroke="#000" stroke-width="2.1"/>
<text x="1371.60" y="409.10" font-family="'DejaVu Sans','Liberation Sans',sans-serif" font-size="31" text-anchor="middle" fill="#000" >20</text>
<line x1="1525.15" y1="370.50" x2="1525.15" y2="378.50" stroke="#000" stroke-width="2.1"/>
<text x="1525.15" y="409.10" font-family="'DejaVu Sans','Liberation Sans',sans-serif" font-size="31" text-anchor="middle" fill="#000" >25</text>
<line x1="1678.70" y1="370.50" x2="1678.70" y2="378.50" stroke="#000" stroke-width="2.1"/>
<text x="1678.70" y="409.10" font-family="'DejaVu Sans','Liberation Sans',sans-serif" font-size="31" text-anchor="middle" fill="#000" >30</text>
<line x1="1832.25" y1="370.50" x2="1832.25" y2="378.50" stroke="#000" stroke-width="2.1"/>
<text x="1832.25" y="409.10" font-family="'DejaVu Sans','Liberation Sans',sans-serif" font-size="31" text-anchor="middle" fill="#000" >35</text>
<line x1="1985.80" y1="370.50" x2="1985.80" y2="378.50" stroke="#000" stroke-width="2.1"/>
<text x="1985.80" y="409.10" font-family="'DejaVu Sans','Liberation Sans',sans-serif" font-size="31" text-anchor="middle" fill="#000" >40</text>
<line x1="1363.60" y1="28.20" x2="1371.60" y2="28.20" stroke="#000" stroke-width="2.1"/>
<text x="1356.10" y="39.43" font-family="'DejaVu Sans','Liberation Sans',sans-serif" font-size="30.8" text-anchor="end" fill="#000" >1.0</text>
<line x1="1363.60" y1="109.80" x2="1371.60" y2="109.80" stroke="#000" stroke-width="2.1"/>
<text x="1356.10" y="121.03" font-family="'DejaVu Sans','Liberation Sans',sans-serif" font-size="30.8" text-anchor="end" fill="#000" >0.5</text>
<line x1="1363.60" y1="191.40" x2="1371.60" y2="191.40" stroke="#000" stroke-width="2.1"/>
<text x="1356.10" y="202.63" font-family="'DejaVu Sans','Liberation Sans',sans-serif" font-size="30.8" text-anchor="end" fill="#000" >0.0</text>
<line x1="1363.60" y1="273.00" x2="1371.60" y2="273.00" stroke="#000" stroke-width="2.1"/>
<text x="1356.10" y="284.23" font-family="'DejaVu Sans','Liberation Sans',sans-serif" font-size="30.8" text-anchor="end" fill="#000" >−0.5</text>
<line x1="1363.60" y1="354.60" x2="1371.60" y2="354.60" stroke="#000" stroke-width="2.1"/>
<text x="1356.10" y="365.83" font-family="'DejaVu Sans','Liberation Sans',sans-serif" font-size="30.8" text-anchor="end" fill="#000" >−1.0</text>
<text x="1678.70" y="461.00" font-family="'DejaVu Sans','Liberation Sans',sans-serif" font-size="34.3" text-anchor="middle" fill="#000" >Time [µs]</text>
<text transform="translate(1248.00,191.50) rotate(-90)" font-family="'DejaVu Sans','Liberation Sans',sans-serif" font-size="35.4" text-anchor="middle" fill="#000" >Amplitude [a.u]</text>
<text x="1976.40" y="44.00" font-family="'DejaVu Sans','Liberation Sans',sans-serif" font-size="29.3" text-anchor="end" fill="#000" >Simulation</text>
<text x="1976.30" y="75.50" font-family="'DejaVu Sans','Liberation Sans',sans-serif" font-size="29.5" text-anchor="end" fill="#808080" >Water</text>
<line x1="1848.8" y1="66.3" x2="1882.2" y2="66.3" stroke="#808080" stroke-width="4.6"/>
<rect x="1783.6" y="31.4" width="6.1" height="4.6" fill="#000"/><rect x="1803.5" y="31.4" width="13.8" height="4.6" fill="#000"/>
<text x="1190.50" y="456.00" font-family="'Liberation Sans','DejaVu Sans',sans-serif" font-size="52" text-anchor="start" fill="#000" font-weight="bold">b)</text>
<polyline clip-path="url(#clipc)" points="105.10,652.33 105.35,650.88 105.61,649.48 105.86,648.17 106.12,647.00 106.37,645.99 106.62,645.18 106.88,644.44 107.13,643.71 107.39,643.02 107.64,642.37 107.89,641.78 108.15,641.28 108.40,640.89 108.66,640.61 108.91,640.47 109.16,640.54 109.42,641.05 109.67,641.94 109.92,643.14 110.18,644.57 110.43,646.15 110.69,647.82 110.94,649.48 111.19,651.06 111.45,652.49 111.70,653.69 111.96,654.59 112.21,655.39 112.46,656.19 112.72,656.99 112.97,657.75 113.23,658.46 113.48,659.10 113.73,659.64 113.99,660.07 114.24,660.37 114.50,660.51 114.75,660.48 115.00,660.32 115.26,660.03 115.51,659.64 115.77,659.16 116.02,658.59 116.27,657.95 116.53,657.27 116.78,656.54 117.04,655.79 117.29,655.02 117.54,654.25 117.80,653.50 118.05,652.78 118.30,652.10 118.56,651.47 118.81,650.85 119.07,650.15 119.32,649.40 119.57,648.61 119.83,647.81 120.08,647.02 120.34,646.26 120.59,645.55 120.84,644.91 121.10,644.36 121.35,643.92 121.61,643.61 121.86,643.46 122.11,643.62 122.37,644.54 122.62,646.09 122.88,648.05 123.13,650.24 123.38,652.45 123.64,654.50 123.89,656.17 124.15,657.50 124.40,658.91 124.65,660.23 124.91,661.30 125.16,661.92 125.41,661.98 125.67,661.74 125.92,661.32 126.18,660.76 126.43,660.11 126.68,659.44 126.94,658.79 127.19,658.21 127.45,657.77 127.70,657.42 127.95,657.12 128.21,656.79 128.46,656.37 128.72,655.81 128.97,654.74 129.22,651.55 129.48,646.80 129.73,641.45 129.99,636.48 130.24,632.79 130.49,629.48 130.75,626.20 131.00,623.34 131.26,621.31 131.51,620.50 131.76,620.66 132.02,621.12 132.27,621.76 132.53,622.51 132.78,623.25 133.03,623.89 133.29,624.34 133.54,624.49 133.79,623.79 134.05,622.09 134.30,619.68 134.56,616.86 134.81,613.92 135.06,611.15 135.32,608.85 135.57,607.27 135.83,605.97 136.08,604.70 136.33,603.51 136.59,602.48 136.84,601.66 137.10,601.13 137.35,600.94 137.60,601.08 137.86,601.45 138.11,602.02 138.37,602.75 138.62,603.60 138.87,604.52 139.13,605.49 139.38,606.45 139.64,607.38 139.89,608.23 140.14,608.95 140.40,609.52 140.65,609.89 140.91,610.02 141.16,609.81 141.41,609.23 141.67,608.35 141.92,607.25 142.17,605.99 142.43,604.65 142.68,603.31 142.94,602.02 143.19,600.87 143.44,599.93 143.70,599.27 143.95,598.96 144.21,599.00 144.46,599.27 144.71,599.72 144.97,600.34 145.22,601.10 145.48,601.97 145.73,602.94 145.98,603.97 146.24,605.05 146.49,606.15 146.75,607.24 147.00,608.32 147.25,609.33 147.51,610.28 147.76,611.15 148.02,611.99 148.27,612.82 148.52,613.65 148.78,614.47 149.03,615.30 149.29,616.15 149.54,617.01 149.79,617.92 150.05,618.85 150.30,619.84 150.55,620.88 150.81,621.98 151.06,623.15 151.32,624.45 151.57,626.00 151.82,627.74 152.08,629.60 152.33,631.52 152.59,633.43 152.84,635.26 153.09,636.94 153.35,638.41 153.60,639.87 153.86,641.32 154.11,642.29 154.36,642.44 154.62,642.32 154.87,642.16 155.13,642.01 155.38,641.96 155.63,642.65 155.89,644.29 156.14,646.53 156.40,649.02 156.65,651.41 156.90,653.35 157.16,655.03 157.41,656.84 157.67,658.51 157.92,659.80 158.17,660.47 158.43,660.35 158.68,659.65 158.93,658.54 159.19,657.19 159.44,655.79 159.70,654.50 159.95,653.51 160.20,652.97 160.46,653.05 160.71,653.67 160.97,654.65 161.22,655.84 161.47,657.09 161.73,658.22 161.98,659.08 162.24,659.50 162.49,659.45 162.74,659.20 163.00,658.81 163.25,658.36 163.51,657.89 163.76,657.47 164.01,657.16 164.27,657.02 164.52,657.26 164.78,658.06 165.03,659.26 165.28,660.74 165.54,662.36 165.79,663.96 166.04,665.41 166.30,666.58 166.55,667.31 166.81,667.47 167.06,666.84 167.31,665.49 167.57,663.57 167.82,661.24 168.08,658.65 168.33,655.97 168.58,653.34 168.84,650.93 169.09,648.89 169.35,647.38 169.60,646.55 169.85,646.50 170.11,646.94 170.36,647.75 170.62,648.86 170.87,650.20 171.12,651.70 171.38,653.28 171.63,654.87 171.89,656.41 172.14,657.83 172.39,659.25 172.65,660.73 172.90,662.27 173.16,663.86 173.41,665.49 173.66,667.16 173.92,668.86 174.17,670.57 174.42,672.33 174.68,674.29 174.93,676.44 175.19,678.68 175.44,680.95 175.69,683.16 175.95,685.24 176.20,687.10 176.46,688.68 176.71,689.89 176.96,690.72 177.22,691.46 177.47,692.08 177.73,692.51 177.98,692.65 178.23,692.47 178.49,692.13 178.74,691.77 179.00,691.56 179.25,691.68 179.50,692.21 179.76,693.00 180.01,693.87 180.27,694.66 180.52,695.20 180.77,695.32 181.03,694.76 181.28,693.60 181.54,692.00 181.79,690.14 182.04,688.21 182.30,686.36 182.55,684.77 182.80,683.62 183.06,683.09 183.31,683.56 183.57,685.37 183.82,688.12 184.07,691.41 184.33,694.82 184.58,698.34 184.84,703.15 185.09,707.77 185.34,710.34 185.60,711.28 185.85,712.02 186.11,712.53 186.36,712.79 186.61,712.79 186.87,712.71 187.12,712.61 187.38,712.53 187.63,712.61 187.88,714.52 188.14,718.21 188.39,722.81 188.65,727.46 188.90,731.32 189.15,734.68 189.41,738.23 189.66,741.75 189.92,745.03 190.17,747.86 190.42,750.03 190.68,751.33 190.93,752.08 191.18,752.56 191.44,752.50 191.69,751.74 191.95,750.34 192.20,748.42 192.45,746.07 192.71,743.39 192.96,740.49 193.22,737.45 193.47,734.38 193.72,731.37 193.98,728.54 194.23,725.96 194.49,723.76 194.74,722.01 194.99,720.83 195.25,720.32 195.50,720.59 195.76,721.68 196.01,723.48 196.26,725.86 196.52,728.70 196.77,731.87 197.03,735.26 197.28,738.73 197.53,742.18 197.79,745.47 198.04,748.48 198.30,751.09 198.55,753.17 198.80,754.61 199.06,755.28 199.31,754.57 199.56,751.54 199.82,746.85 200.07,741.29 200.33,735.61 200.58,730.57 200.83,726.93 201.09,724.79 201.34,722.80 201.60,720.87 201.85,719.03 202.10,717.29 202.36,715.66 202.61,714.15 202.87,712.79 203.12,711.58 203.37,710.54 203.63,709.68 203.88,709.02 204.14,708.57 204.39,708.34 204.64,708.52 204.90,709.92 205.15,712.46 205.41,715.93 205.66,720.14 205.91,724.87 206.17,729.91 206.42,735.06 206.67,740.12 206.93,744.88 207.18,749.12 207.44,752.65 207.69,755.25 207.94,756.72 208.20,756.88 208.45,755.89 208.71,753.90 208.96,751.05 209.21,747.48 209.47,743.32 209.72,738.70 209.98,733.75 210.23,728.60 210.48,723.40 210.74,718.26 210.99,713.33 211.25,708.73 211.50,704.60 211.75,701.07 212.01,698.27 212.26,696.34 212.52,695.41 212.77,696.55 213.02,701.88 213.28,709.31 213.53,716.44 213.79,720.88 214.04,722.01 214.29,722.89 214.55,723.67 214.80,724.35 215.05,724.94 215.31,725.44 215.56,725.84 215.82,726.16 216.07,726.39 216.32,726.52 216.58,726.58 216.83,726.28 217.09,725.31 217.34,723.78 217.59,721.80 217.85,719.49 218.10,716.95 218.36,714.30 218.61,711.66 218.86,709.12 219.12,706.82 219.37,704.85 219.63,703.34 219.88,702.07 220.13,700.77 220.39,699.50 220.64,698.33 220.90,697.30 221.15,696.49 221.40,695.95 221.66,695.74 221.91,695.90 222.17,696.39 222.42,697.16 222.67,698.15 222.93,699.30 223.18,700.54 223.43,701.83 223.69,703.11 223.94,704.31 224.20,705.37 224.45,706.25 224.70,706.87 224.96,707.19 225.21,707.05 225.47,706.12 225.72,704.45 225.97,702.16 226.23,699.35 226.48,696.12 226.74,692.57 226.99,688.80 227.24,684.92 227.50,681.03 227.75,677.24 228.01,673.64 228.26,670.34 228.51,667.44 228.77,665.05 229.02,663.26 229.28,661.76 229.53,660.27 229.78,658.89 230.04,657.72 230.29,656.85 230.55,656.38 230.80,656.63 231.05,658.55 231.31,661.86 231.56,666.11 231.81,670.85 232.07,675.63 232.32,680.00 232.58,683.52 232.83,685.73 233.08,686.23 233.34,685.53 233.59,684.03 233.85,681.83 234.10,679.04 234.35,675.77 234.61,672.13 234.86,668.24 235.12,664.20 235.37,660.12 235.62,656.12 235.88,652.31 236.13,648.79 236.39,645.69 236.64,643.10 236.89,641.14 237.15,639.93 237.40,639.56 237.66,639.60 237.91,639.71 238.16,639.88 238.42,640.08 238.67,640.31 238.93,640.55 239.18,640.79 239.43,641.02 239.69,641.22 239.94,641.39 240.19,641.50 240.45,641.55 240.70,641.28 240.96,640.31 241.21,638.79 241.46,636.84 241.72,634.63 241.97,632.29 242.23,629.95 242.48,627.44 242.73,624.31 242.99,620.73 243.24,616.86 243.50,612.88 243.75,608.96 244.00,605.29 244.26,602.03 244.51,599.35 244.77,596.89 245.02,594.37 245.27,591.92 245.53,589.67 245.78,587.73 246.04,586.24 246.29,585.32 246.54,585.09 246.80,585.83 247.05,587.45 247.30,589.77 247.56,592.59 247.81,595.70 248.07,598.92 248.32,602.03 248.57,604.84 248.83,607.16 249.08,608.78 249.34,609.50 249.59,609.09 249.84,607.46 250.10,604.82 250.35,601.34 250.61,597.24 250.86,592.69 251.11,587.89 251.37,583.04 251.62,578.33 251.88,573.95 252.13,570.09 252.38,566.95 252.64,564.73 252.89,563.61 253.15,563.68 253.40,564.60 253.65,566.25 253.91,568.53 254.16,571.36 254.42,574.63 254.67,578.28 254.92,582.19 255.18,586.29 255.43,590.47 255.68,594.66 255.94,598.76 256.19,602.68 256.45,606.33 256.70,609.61 256.95,612.45 257.21,614.74 257.46,616.39 257.72,617.33 257.97,617.42 258.22,616.41 258.48,614.37 258.73,611.47 258.99,607.88 259.24,603.77 259.49,599.30 259.75,594.66 260.00,589.99 260.26,585.48 260.51,581.30 260.76,577.60 261.02,574.57 261.27,572.37 261.53,571.17 261.78,571.11 262.03,572.05 262.29,573.83 262.54,576.34 262.80,579.44 263.05,583.03 263.30,586.96 263.56,591.13 263.81,595.40 264.06,599.65 264.32,603.76 264.57,607.60 264.83,611.05 265.08,613.99 265.33,616.29 265.59,617.83 265.84,618.49 266.10,618.09 266.35,616.65 266.60,614.40 266.86,611.58 267.11,608.41 267.37,605.15 267.62,602.02 267.87,599.26 268.13,597.12 268.38,595.82 268.64,595.57 268.89,595.85 269.14,596.44 269.40,597.29 269.65,598.37 269.91,599.63 270.16,601.04 270.41,602.54 270.67,604.10 270.92,605.68 271.18,607.24 271.43,608.96 271.68,611.20 271.94,613.86 272.19,616.82 272.44,619.95 272.70,623.13 272.95,626.24 273.21,629.15 273.46,631.74 273.71,633.90 273.97,635.49 274.22,636.40 274.48,636.47 274.73,635.35 274.98,633.16 275.24,630.11 275.49,626.42 275.75,622.31 276.00,617.99 276.25,613.69 276.51,609.63 276.76,606.01 277.02,603.07 277.27,601.02 277.52,600.08 277.78,600.31 278.03,601.40 278.29,603.25 278.54,605.78 278.79,608.87 279.05,612.44 279.30,616.40 279.56,620.64 279.81,625.09 280.06,629.63 280.32,634.18 280.57,638.65 280.82,642.94 281.08,646.96 281.33,651.93 281.59,657.63 281.84,662.56 282.09,665.25 282.35,665.23 282.60,664.46 282.86,663.14 283.11,661.36 283.36,659.18 283.62,656.67 283.87,653.93 284.13,651.02 284.38,648.02 284.63,645.00 284.89,642.04 285.14,639.22 285.40,636.61 285.65,634.29 285.90,632.33 286.16,630.81 286.41,629.80 286.67,629.39 286.92,629.68 287.17,630.74 287.43,632.46 287.68,634.74 287.93,637.48 288.19,640.57 288.44,643.93 288.70,647.44 288.95,651.00 289.20,654.52 289.46,657.90 289.71,661.02 289.97,663.80 290.22,666.12 290.47,667.90 290.73,669.02 290.98,669.40 291.24,669.19 291.49,668.65 291.74,667.81 292.00,666.73 292.25,665.44 292.51,664.00 292.76,662.46 293.01,660.86 293.27,659.24 293.52,657.66 293.78,656.16 294.03,654.78 294.28,653.58 294.54,652.61 294.79,651.90 295.05,651.50 295.30,651.49 295.55,652.08 295.81,653.25 296.06,654.90 296.31,656.95 296.57,659.31 296.82,661.89 297.08,664.60 297.33,667.35 297.58,670.05 297.84,672.62 298.09,674.96 298.35,676.99 298.60,678.63 298.85,679.77 299.11,680.33 299.36,680.27 299.62,679.74 299.87,678.80 300.12,677.53 300.38,675.99 300.63,674.24 300.89,672.34 301.14,670.37 301.39,668.38 301.65,666.44 301.90,664.61 302.16,662.96 302.41,661.55 302.66,660.45 302.92,659.72 303.17,659.42 303.43,661.85 303.68,668.75 303.93,677.21 304.19,684.22 304.44,687.61 304.69,690.20 304.95,692.64 305.20,694.93 305.46,697.04 305.71,698.97 305.96,700.71 306.22,702.24 306.47,703.55 306.73,704.63 306.98,705.46 307.23,706.04 307.49,706.36 307.74,706.37 308.00,705.73 308.25,704.45 308.50,702.62 308.76,700.34 309.01,697.71 309.27,694.82 309.52,691.78 309.77,688.68 310.03,685.61 310.28,682.68 310.54,679.99 310.79,677.63 311.04,675.69 311.30,674.29 311.55,673.51 311.81,673.40 312.06,673.51 312.31,673.75 312.57,674.10 312.82,674.58 313.07,675.18 313.33,675.90 313.58,676.75 313.84,677.71 314.09,678.80 314.34,680.01 314.60,681.34 314.85,682.80 315.11,684.38 315.36,686.60 315.61,692.70 315.87,700.24 316.12,705.54 316.38,706.12 316.63,705.52 316.88,704.42 317.14,702.93 317.39,701.12 317.65,699.07 317.90,696.88 318.15,694.63 318.41,692.41 318.66,690.30 318.92,688.38 319.17,686.74 319.42,685.47 319.68,684.65 319.93,684.37 320.19,685.51 320.44,688.58 320.69,693.17 320.95,698.87 321.20,705.28 321.45,712.00 321.71,718.62 321.96,724.73 322.22,729.94 322.47,733.84 322.72,736.03 322.98,736.30 323.23,735.81 323.49,734.86 323.74,733.50 323.99,731.79 324.25,729.77 324.50,727.50 324.76,725.03 325.01,722.41 325.26,719.70 325.52,716.94 325.77,714.18 326.03,711.49 326.28,708.90 326.53,706.48 326.79,704.27 327.04,702.33 327.30,700.70 327.55,699.44 327.80,698.61 328.06,698.25 328.31,698.82 328.56,701.04 328.82,704.63 329.07,709.29 329.33,714.72 329.58,720.60 329.83,726.64 330.09,732.53 330.34,737.97 330.60,742.65 330.85,746.27 331.10,748.52 331.36,749.12 331.61,748.77 331.87,747.95 332.12,746.75 332.37,745.24 332.63,743.48 332.88,741.54 333.14,739.50 333.39,737.43 333.64,735.40 333.90,733.48 334.15,731.75 334.41,730.27 334.66,729.12 334.91,728.36 335.17,728.07 335.42,728.97 335.68,731.54 335.93,735.24 336.18,739.55 336.44,743.92 336.69,747.83 336.94,750.74 337.20,752.59 337.45,754.24 337.71,755.74 337.96,757.11 338.21,758.37 338.47,759.55 338.72,760.65 338.98,761.70 339.23,762.72 339.48,763.72 339.74,764.74 339.99,765.77 340.25,766.85 340.50,767.99 340.75,769.22 341.01,770.54 341.26,771.91 341.52,773.29 341.77,774.67 342.02,776.00 342.28,777.25 342.53,778.38 342.79,779.37 343.04,780.19 343.29,780.78 343.55,781.16 343.80,781.50 344.06,782.00 344.31,783.37 344.56,786.07 344.82,789.63 345.07,793.55 345.32,797.35 345.58,800.56 345.83,802.69 346.09,803.73 346.34,804.65 346.59,805.48 346.85,806.20 347.10,806.79 347.36,807.23 347.61,807.51 347.86,807.61 348.12,807.35 348.37,806.63 348.63,805.48 348.88,803.94 349.13,802.04 349.39,799.84 349.64,797.35 349.90,794.62 350.15,791.68 350.40,788.57 350.66,785.33 350.91,782.00 351.17,778.61 351.42,775.19 351.67,771.79 351.93,767.54 352.18,761.51 352.44,755.51 352.69,751.40 352.94,750.82 353.20,752.59 353.45,755.29 353.70,757.84 353.96,759.12 354.21,759.46 354.47,759.77 354.72,760.05 354.97,760.29 355.23,760.50 355.48,760.67 355.74,760.82 355.99,760.93 356.24,761.02 356.50,761.07 356.75,761.10 357.01,761.00 357.26,760.15 357.51,758.53 357.77,756.26 358.02,753.44 358.28,750.18 358.53,746.59 358.78,742.80 359.04,738.90 359.29,735.01 359.55,731.23 359.80,727.69 360.05,724.48 360.31,721.73 360.56,719.54 360.82,718.03 361.07,717.29 361.32,716.99 361.58,716.72 361.83,716.50 362.08,716.33 362.34,716.22 362.59,716.23 362.85,716.92 363.10,718.31 363.35,720.06 363.61,721.84 363.86,723.33 364.12,724.19 364.37,723.86 364.62,721.47 364.88,717.63 365.13,713.14 365.39,708.80 365.64,705.29 365.89,702.02 366.15,698.73 366.40,695.52 366.66,692.46 366.91,689.66 367.16,687.20 367.42,685.04 367.67,682.86 367.93,680.67 368.18,678.54 368.43,676.52 368.69,674.67 368.94,673.04 369.19,671.69 369.45,670.68 369.70,670.07 369.96,669.90 370.21,670.31 370.46,671.23 370.72,672.53 370.97,674.06 371.23,675.68 371.48,677.26 371.73,678.65 371.99,679.71 372.24,680.30 372.50,680.21 372.75,679.06 373.00,677.04 373.26,674.37 373.51,671.30 373.77,668.08 374.02,664.95 374.27,662.15 374.53,659.92 374.78,658.51 375.04,657.73 375.29,656.99 375.54,656.29 375.80,655.65 376.05,655.08 376.31,654.57 376.56,654.15 376.81,653.82 377.07,653.58 377.32,653.45 377.57,653.53 377.83,654.68 378.08,656.90 378.34,659.93 378.59,663.48 378.84,667.30 379.10,671.12 379.35,674.82 379.61,679.68 379.86,685.49 380.11,691.54 380.37,697.09 380.62,701.46 380.88,703.92 381.13,703.66 381.38,699.95 381.64,693.50 381.89,685.11 382.15,675.61 382.40,665.82 382.65,656.54 382.91,648.61 383.16,642.85 383.42,639.42 383.67,636.33 383.92,633.42 384.18,630.78 384.43,628.52 384.69,626.72 384.94,625.49 385.19,624.92 385.45,625.19 385.70,626.51 385.95,628.69 386.21,631.53 386.46,634.82 386.72,638.38 386.97,642.00 387.22,645.49 387.48,648.64 387.73,651.25 387.99,653.59 388.24,656.10 388.49,658.64 388.75,661.05 389.00,663.19 389.26,664.89 389.51,666.01 389.76,666.40 390.02,665.89 390.27,664.53 390.53,662.47 390.78,659.84 391.03,656.80 391.29,653.47 391.54,650.02 391.80,646.57 392.05,643.28 392.30,640.23 392.56,637.02 392.81,633.58 393.07,629.99 393.32,626.32 393.57,622.63 393.83,618.99 394.08,615.47 394.33,612.14 394.59,609.06 394.84,605.90 395.10,602.52 395.35,599.05 395.60,595.64 395.86,592.40 396.11,589.47 396.37,587.00 396.62,585.10 396.87,583.92 397.13,583.60 397.38,585.10 397.64,588.50 397.89,593.15 398.14,598.44 398.40,603.72 398.65,608.37 398.91,611.79 399.16,614.71 399.41,617.56 399.67,619.95 399.92,621.51 400.18,621.98 400.43,622.17 400.68,622.30 400.94,622.40 401.19,622.48 401.45,622.54 401.70,622.61 401.95,622.70 402.21,622.82 402.46,622.97 402.71,623.15 402.97,623.35 403.22,623.57 403.48,623.82 403.73,624.08 403.98,624.37 404.24,624.67 404.49,624.99 404.75,625.34 405.00,625.70 405.25,626.07 405.51,626.47 405.76,627.00 406.02,627.68 406.27,628.47 406.52,629.35 406.78,630.27 407.03,631.20 407.29,632.10 407.54,632.95 407.79,633.70 408.05,634.32 408.30,634.77 408.56,635.03 408.81,634.99 409.06,634.32 409.32,633.26 409.57,632.15 409.82,631.35 410.08,631.19 410.33,631.32 410.59,631.62 410.84,632.06 411.09,632.64 411.35,633.35 411.60,634.19 411.86,635.14 412.11,636.20 412.36,637.36 412.62,638.61 412.87,639.94 413.13,641.35 413.38,642.83 413.63,644.37 413.89,645.95 414.14,647.59 414.40,649.25 414.65,651.12 414.90,653.69 415.16,656.80 415.41,660.25 415.67,663.80 415.92,667.26 416.17,670.40 416.43,673.22 416.68,676.14 416.94,678.85 417.19,680.98 417.44,682.26 417.70,683.28 417.95,684.08 418.20,684.52 418.46,684.51 418.71,684.21 418.97,683.73 419.22,683.17 419.47,682.61 419.73,682.16 419.98,681.90 420.24,682.01 420.49,682.80 420.74,684.12 421.00,685.77 421.25,687.53 421.51,689.21 421.76,690.63 422.01,692.16 422.27,693.85 422.52,695.54 422.78,697.05 423.03,698.24 423.28,698.92 423.54,699.02 423.79,698.87 424.05,698.60 424.30,698.26 424.55,697.90 424.81,697.57 425.06,697.30 425.32,697.15 425.57,697.24 425.82,697.90 426.08,699.08 426.33,700.67 426.58,702.57 426.84,704.68 427.09,706.89 427.35,709.11 427.60,711.22 427.85,713.12 428.11,714.72 428.36,715.90 428.62,716.89 428.87,717.85 429.12,718.64 429.38,719.12 429.63,719.15 429.89,718.75 430.14,718.03 430.39,717.10 430.65,716.06 430.90,715.00 431.16,714.04 431.41,713.27 431.66,712.80 431.92,712.72 432.17,712.96 432.43,713.44 432.68,714.12 432.93,714.97 433.19,715.95 433.44,717.01 433.70,718.13 433.95,719.25 434.20,720.34 434.46,721.38 434.71,722.50 434.96,723.79 435.22,725.19 435.47,726.66 435.73,728.16 435.98,729.64 436.23,731.07 436.49,732.39 436.74,733.57 437.00,734.57 437.25,735.34 437.50,735.93 437.76,736.50 438.01,736.97 438.27,737.28 438.52,737.33 438.77,736.70 439.03,735.47 439.28,733.89 439.54,732.24 439.79,730.80 440.04,729.82 440.30,729.58 440.55,729.84 440.81,730.41 441.06,731.26 441.31,732.35 441.57,733.65 441.82,735.75 442.08,740.11 442.33,745.09 442.58,748.80 442.84,751.43 443.09,753.78 443.34,755.86 443.60,757.72 443.85,759.38 444.11,760.85 444.36,762.05 444.61,763.06 444.87,764.00 445.12,764.98 445.38,766.11 445.63,767.50 445.88,769.37 446.14,771.96 446.39,775.04 446.65,778.35 446.90,781.63 447.15,784.63 447.41,787.45 447.66,790.39 447.92,793.25 448.17,795.86 448.42,798.01 448.68,799.55 448.93,800.81 449.19,801.95 449.44,802.98 449.69,803.92 449.95,804.77 450.20,805.55 450.45,806.27 450.71,806.94 450.96,807.58 451.22,808.19 451.47,808.83 451.72,809.48 451.98,810.12 452.23,810.68 452.49,811.13 452.74,811.41 452.99,811.50 453.25,811.33 453.50,810.94 453.76,810.38 454.01,809.68 454.26,808.88 454.52,808.04 454.77,807.19 455.03,806.38 455.28,805.64 455.53,805.03 455.79,804.58 456.04,804.34 456.30,804.37 456.55,804.72 456.80,805.35 457.06,806.18 457.31,807.13 457.57,808.14 457.82,809.47 458.07,811.39 458.33,813.58 458.58,815.75 458.83,817.60 459.09,818.83 459.34,819.76 459.60,820.39 459.85,820.34 460.10,819.50 460.36,818.41 460.61,817.52 460.87,816.62 461.12,815.68 461.37,814.74 461.63,813.83 461.88,813.00 462.14,812.28 462.39,811.72 462.64,811.32 462.90,811.03 463.15,810.80 463.41,810.61 463.66,810.43 463.91,810.24 464.17,810.01 464.42,809.71 464.68,809.31 464.93,808.74 465.18,807.99 465.44,807.10 465.69,806.08 465.95,804.96 466.20,803.77 466.45,802.54 466.71,801.27 466.96,800.00 467.21,798.59 467.47,797.03 467.72,795.34 467.98,793.56 468.23,791.73 468.48,789.88 468.74,788.03 468.99,786.22 469.25,784.48 469.50,782.73 469.75,780.95 470.01,779.17 470.26,777.42 470.52,775.72 470.77,774.11 471.02,772.60 471.28,771.05 471.53,769.46 471.79,767.87 472.04,766.32 472.29,764.85 472.55,763.49 472.80,762.29 473.06,761.29 473.31,760.52 473.56,760.01 473.82,759.61 474.07,759.25 474.33,758.98 474.58,758.83 474.83,758.92 475.09,759.64 475.34,760.70 475.59,761.65 475.85,762.10 476.10,761.85 476.36,761.11 476.61,759.96 476.86,758.51 477.12,756.61 477.37,752.61 477.63,747.52 477.88,743.00 478.13,739.01 478.39,734.92 478.64,731.02 478.90,727.62 479.15,725.00 479.40,723.43 479.66,722.31 479.91,721.36 480.17,720.55 480.42,719.85 480.67,719.24 480.93,718.69 481.18,718.19 481.44,717.71 481.69,717.30 481.94,716.97 482.20,716.68 482.45,716.41 482.71,716.14 482.96,715.83 483.21,715.45 483.47,714.99 483.72,714.41 483.97,713.51 484.23,712.28 484.48,710.79 484.74,709.08 484.99,707.23 485.24,705.28 485.50,703.20 485.75,700.39 486.01,697.03 486.26,693.47 486.51,690.05 486.77,687.10 487.02,684.96 487.28,683.84 487.53,682.98 487.78,682.25 488.04,681.73 488.29,681.48 488.55,681.61 488.80,682.22 489.05,683.22 489.31,684.49 489.56,685.93 489.82,687.44 490.07,688.91 490.32,690.23 490.58,691.30 490.83,692.00 491.08,692.25 491.34,692.11 491.59,691.72 491.85,691.11 492.10,690.32 492.35,689.35 492.61,688.25 492.86,687.03 493.12,685.72 493.37,684.34 493.62,682.93 493.88,681.51 494.13,680.10 494.39,678.73 494.64,677.42 494.89,676.21 495.15,675.11 495.40,674.16 495.66,673.38 495.91,672.78 496.16,672.41 496.42,672.29 496.67,672.71 496.93,673.81 497.18,675.46 497.43,677.49 497.69,679.76 497.94,682.11 498.20,684.41 498.45,686.49 498.70,688.20 498.96,689.40 499.21,689.94 499.46,689.61 499.72,688.37 499.97,686.48 500.23,684.16 500.48,681.66 500.73,679.23 500.99,677.10 501.24,675.52 501.50,674.73 501.75,674.89 502.00,675.75 502.26,677.12 502.51,678.80 502.77,680.57 503.02,682.24 503.27,683.61 503.53,684.47 503.78,684.62 504.04,684.00 504.29,682.77 504.54,681.18 504.80,679.45 505.05,677.79 505.31,676.44 505.56,675.63 505.81,675.51 506.07,675.75 506.32,676.17 506.58,676.69 506.83,677.21 507.08,677.65 507.34,677.93 507.59,677.90 507.84,677.16 508.10,675.79 508.35,673.97 508.61,671.90 508.86,669.76 509.11,667.75 509.37,666.03 509.62,664.36 509.88,662.68 510.13,660.99 510.38,659.28 510.64,657.56 510.89,655.83 511.15,654.09 511.40,652.33" fill="none" stroke="#808080" stroke-width="5.6" stroke-linejoin="round" stroke-linecap="butt" />
<polyline clip-path="url(#clipc)" points="105.10,659.19 105.35,657.29 105.61,655.46 105.86,653.71 106.12,652.05 106.37,650.47 106.62,648.99 106.88,647.61 107.13,646.33 107.39,645.16 107.64,644.10 107.89,643.16 108.15,642.34 108.40,641.65 108.66,641.09 108.91,640.67 109.16,640.38 109.42,640.25 109.67,640.27 109.92,640.49 110.18,640.88 110.43,641.42 110.69,642.09 110.94,642.86 111.19,643.71 111.45,644.61 111.70,645.55 111.96,646.49 112.21,647.41 112.46,648.29 112.72,649.11 112.97,649.83 113.23,650.45 113.48,650.93 113.73,651.25 113.99,651.38 114.24,651.10 114.50,650.13 114.75,648.64 115.00,646.78 115.26,644.74 115.51,642.69 115.77,640.79 116.02,639.21 116.27,638.14 116.53,637.73 116.78,637.84 117.04,638.14 117.29,638.56 117.54,639.05 117.80,639.53 118.05,639.95 118.30,640.24 118.56,640.34 118.81,640.12 119.07,639.59 119.32,638.80 119.57,637.82 119.83,636.73 120.08,635.58 120.34,634.44 120.59,633.37 120.84,632.45 121.10,631.74 121.35,631.31 121.61,631.21 121.86,631.34 122.11,631.61 122.37,631.99 122.62,632.43 122.88,632.91 123.13,633.36 123.38,633.77 123.64,634.09 123.89,634.28 124.15,634.27 124.40,633.82 124.65,632.97 124.91,631.83 125.16,630.50 125.41,629.12 125.67,627.79 125.92,626.62 126.18,625.73 126.43,625.24 126.68,625.33 126.94,626.43 127.19,628.37 127.45,630.90 127.70,633.78 127.95,636.76 128.21,639.60 128.46,642.04 128.72,643.86 128.97,644.78 129.22,644.66 129.48,643.65 129.73,641.95 129.99,639.70 130.24,637.09 130.49,634.27 130.75,631.41 131.00,628.66 131.26,626.21 131.51,624.20 131.76,622.80 132.02,622.18 132.27,622.28 132.53,622.68 132.78,623.32 133.03,624.10 133.29,624.97 133.54,625.85 133.79,626.66 134.05,627.34 134.30,627.80 134.56,627.99 134.81,627.97 135.06,627.91 135.32,627.81 135.57,627.70 135.83,627.58 136.08,627.46 136.33,627.35 136.59,627.26 136.84,627.20 137.10,627.19 137.35,627.83 137.60,629.44 137.86,631.90 138.11,635.05 138.37,638.75 138.62,642.86 138.87,647.22 139.13,651.70 139.38,656.16 139.64,660.44 139.89,664.40 140.14,667.91 140.40,670.80 140.65,672.95 140.91,674.21 141.16,674.45 141.41,674.07 141.67,673.26 141.92,672.07 142.17,670.54 142.43,668.74 142.68,666.71 142.94,664.50 143.19,662.15 143.44,659.73 143.70,657.29 143.95,654.86 144.21,652.51 144.46,650.28 144.71,648.22 144.97,646.38 145.22,644.82 145.48,643.59 145.73,642.73 145.98,642.29 146.24,642.28 146.49,642.54 146.75,643.01 147.00,643.67 147.25,644.51 147.51,645.50 147.76,646.62 148.02,647.85 148.27,649.17 148.52,650.56 148.78,651.99 149.03,653.45 149.29,654.92 149.54,656.37 149.79,657.79 150.05,659.15 150.30,660.43 150.55,661.61 150.81,662.67 151.06,663.59 151.32,664.35 151.57,664.92 151.82,665.29 152.08,665.44 152.33,665.28 152.59,664.76 152.84,663.90 153.09,662.74 153.35,661.31 153.60,659.65 153.86,657.79 154.11,655.77 154.36,653.61 154.62,651.35 154.87,649.02 155.13,646.67 155.38,644.32 155.63,642.00 155.89,639.75 156.14,637.61 156.40,635.60 156.65,633.76 156.90,632.13 157.16,630.73 157.41,629.61 157.67,628.79 157.92,628.31 158.17,628.20 158.43,628.56 158.68,629.33 158.93,630.40 159.19,631.66 159.44,633.00 159.70,634.30 159.95,635.46 160.20,636.37 160.46,636.92 160.71,637.02 160.97,637.01 161.22,636.98 161.47,636.94 161.73,636.90 161.98,636.85 162.24,636.81 162.49,636.77 162.74,636.74 163.00,636.72 163.25,636.86 163.51,637.88 163.76,639.70 164.01,642.09 164.27,644.82 164.52,647.65 164.78,650.35 165.03,652.68 165.28,654.42 165.54,655.32 165.79,655.21 166.04,654.26 166.30,652.65 166.55,650.60 166.81,648.29 167.06,645.92 167.31,643.68 167.57,641.78 167.82,640.41 168.08,639.76 168.33,640.09 168.58,641.48 168.84,643.59 169.09,646.09 169.35,648.66 169.60,650.95 169.85,652.63 170.11,653.38 170.36,652.84 170.62,651.02 170.87,648.17 171.12,644.54 171.38,640.39 171.63,635.97 171.89,631.54 172.14,627.36 172.39,623.67 172.65,620.74 172.90,618.81 173.16,618.15 173.41,618.63 173.66,619.94 173.92,621.94 174.17,624.53 174.42,627.58 174.68,630.98 174.93,634.59 175.19,638.31 175.44,642.01 175.69,645.58 175.95,648.88 176.20,651.82 176.46,654.25 176.71,656.07 176.96,657.15 177.22,657.39 177.47,657.10 177.73,656.44 177.98,655.47 178.23,654.22 178.49,652.74 178.74,651.06 179.00,649.23 179.25,647.30 179.50,645.29 179.76,643.27 180.01,641.25 180.27,639.30 180.52,637.44 180.77,635.73 181.03,634.20 181.28,632.89 181.54,631.86 181.79,631.13 182.04,630.74 182.30,630.73 182.55,630.93 182.80,631.32 183.06,631.88 183.31,632.61 183.57,633.48 183.82,634.48 184.07,635.60 184.33,636.84 184.58,638.17 184.84,639.57 185.09,641.05 185.34,642.59 185.60,644.16 185.85,645.77 186.11,647.39 186.36,649.02 186.61,650.63 186.87,652.23 187.12,653.79 187.38,655.30 187.63,656.74 187.88,658.11 188.14,659.40 188.39,660.58 188.65,661.65 188.90,662.59 189.15,663.39 189.41,664.04 189.66,664.52 189.92,664.83 190.17,664.94 190.42,664.36 190.68,662.62 190.93,659.89 191.18,656.33 191.44,652.12 191.69,647.41 191.95,642.38 192.20,637.19 192.45,632.02 192.71,627.02 192.96,622.37 193.22,618.23 193.47,614.76 193.72,612.15 193.98,610.55 194.23,610.12 194.49,610.54 194.74,611.51 194.99,612.97 195.25,614.87 195.50,617.14 195.76,619.70 196.01,622.51 196.26,625.49 196.52,628.58 196.77,631.71 197.03,634.83 197.28,637.86 197.53,640.74 197.79,643.40 198.04,645.79 198.30,647.84 198.55,649.48 198.80,650.65 199.06,651.28 199.31,651.30 199.56,650.50 199.82,648.98 200.07,646.84 200.33,644.19 200.58,641.15 200.83,637.83 201.09,634.34 201.34,630.81 201.60,627.34 201.85,624.04 202.10,621.03 202.36,618.43 202.61,616.35 202.87,614.89 203.12,614.18 203.37,614.44 203.63,616.02 203.88,618.77 204.14,622.49 204.39,627.01 204.64,632.14 204.90,637.68 205.15,643.45 205.41,649.27 205.66,654.94 205.91,660.28 206.17,665.10 206.42,669.22 206.67,672.44 206.93,674.59 207.18,675.47 207.44,674.78 207.69,672.46 207.94,668.83 208.20,664.22 208.45,658.95 208.71,653.33 208.96,647.71 209.21,642.39 209.47,637.71 209.72,633.98 209.98,631.54 210.23,630.70 210.48,630.94 210.74,631.61 210.99,632.65 211.25,634.05 211.50,635.74 211.75,637.71 212.01,639.90 212.26,642.28 212.52,644.80 212.77,647.44 213.02,650.15 213.28,652.89 213.53,655.62 213.79,658.30 214.04,660.90 214.29,663.37 214.55,665.68 214.80,667.78 215.05,669.64 215.31,671.22 215.56,672.48 215.82,673.38 216.07,673.88 216.32,673.86 216.58,672.46 216.83,669.70 217.09,665.87 217.34,661.29 217.59,656.24 217.85,651.02 218.10,645.94 218.36,641.29 218.61,637.36 218.86,634.47 219.12,632.90 219.37,632.86 219.63,633.95 219.88,635.94 220.13,638.67 220.39,641.96 220.64,645.65 220.90,649.57 221.15,653.55 221.40,657.43 221.66,661.04 221.91,664.21 222.17,666.77 222.42,668.56 222.67,669.41 222.93,669.31 223.18,668.64 223.43,667.49 223.69,665.93 223.94,664.02 224.20,661.83 224.45,659.44 224.70,656.89 224.96,654.27 225.21,651.64 225.47,649.07 225.72,646.61 225.97,644.35 226.23,642.35 226.48,640.66 226.74,639.37 226.99,638.54 227.24,638.23 227.50,638.46 227.75,639.17 228.01,640.31 228.26,641.81 228.51,643.63 228.77,645.71 229.02,648.00 229.28,650.45 229.53,652.99 229.78,655.59 230.04,658.18 230.29,660.72 230.55,663.14 230.80,665.39 231.05,667.43 231.31,669.19 231.56,670.63 231.81,671.69 232.07,672.31 232.32,672.45 232.58,671.89 232.83,670.66 233.08,668.86 233.34,666.59 233.59,663.94 233.85,661.02 234.10,657.94 234.35,654.78 234.61,651.67 234.86,648.68 235.12,645.94 235.37,643.53 235.62,641.56 235.88,640.14 236.13,639.35 236.39,639.30 236.64,639.90 236.89,641.05 237.15,642.68 237.40,644.69 237.66,646.99 237.91,649.51 238.16,652.14 238.42,654.82 238.67,657.45 238.93,659.95 239.18,662.22 239.43,664.19 239.69,665.77 239.94,666.87 240.19,667.41 240.45,667.31 240.70,666.64 240.96,665.46 241.21,663.87 241.46,661.94 241.72,659.75 241.97,657.38 242.23,654.92 242.48,652.43 242.73,650.01 242.99,647.73 243.24,645.67 243.50,643.91 243.75,642.53 244.00,641.62 244.26,641.25 244.51,641.55 244.77,642.60 245.02,644.29 245.27,646.50 245.53,649.15 245.78,652.11 246.04,655.28 246.29,658.57 246.54,661.85 246.80,665.03 247.05,668.00 247.30,670.65 247.56,672.88 247.81,674.58 248.07,675.65 248.32,675.98 248.57,675.30 248.83,673.60 249.08,671.00 249.34,667.63 249.59,663.63 249.84,659.12 250.10,654.25 250.35,649.14 250.61,643.92 250.86,638.74 251.11,633.71 251.37,628.98 251.62,624.68 251.88,620.94 252.13,617.88 252.38,615.65 252.64,614.38 252.89,614.19 253.15,615.06 253.40,616.85 253.65,619.45 253.91,622.73 254.16,626.56 254.42,630.83 254.67,635.42 254.92,640.19 255.18,645.03 255.43,649.81 255.68,654.41 255.94,658.71 256.19,662.58 256.45,665.91 256.70,668.56 256.95,670.42 257.21,671.37 257.46,671.37 257.72,670.81 257.97,669.80 258.22,668.42 258.48,666.73 258.73,664.81 258.99,662.73 259.24,660.55 259.49,658.35 259.75,656.20 260.00,654.16 260.26,652.32 260.51,650.74 260.76,649.50 261.02,648.65 261.27,648.28 261.53,648.56 261.78,649.67 262.03,651.49 262.29,653.87 262.54,656.68 262.80,659.78 263.05,663.03 263.30,666.30 263.56,669.44 263.81,672.32 264.06,674.81 264.32,676.75 264.57,678.03 264.83,678.49 265.08,677.94 265.33,676.36 265.59,673.91 265.84,670.72 266.10,666.95 266.35,662.75 266.60,658.26 266.86,653.64 267.11,649.04 267.37,644.60 267.62,640.47 267.87,636.80 268.13,633.74 268.38,631.44 268.64,630.05 268.89,629.73 269.14,630.89 269.40,633.51 269.65,637.32 269.91,642.07 270.16,647.50 270.41,653.37 270.67,659.42 270.92,665.39 271.18,671.03 271.43,676.09 271.68,680.31 271.94,683.43 272.19,685.21 272.44,685.48 272.70,685.11 272.95,684.34 273.21,683.22 273.46,681.78 273.71,680.07 273.97,678.11 274.22,675.96 274.48,673.63 274.73,671.18 274.98,668.64 275.24,666.04 275.49,663.43 275.75,660.84 276.00,658.31 276.25,655.87 276.51,653.56 276.76,651.42 277.02,649.50 277.27,647.81 277.52,646.41 277.78,645.33 278.03,644.60 278.29,644.27 278.54,644.49 278.79,645.55 279.05,647.35 279.30,649.76 279.56,652.68 279.81,655.98 280.06,659.54 280.32,663.24 280.57,666.96 280.82,670.58 281.08,673.98 281.33,677.04 281.59,679.65 281.84,681.67 282.09,683.00 282.35,683.51 282.60,682.99 282.86,681.39 283.11,678.85 283.36,675.53 283.62,671.60 283.87,667.20 284.13,662.50 284.38,657.64 284.63,652.80 284.89,648.11 285.14,643.75 285.40,639.87 285.65,636.61 285.90,634.15 286.16,632.63 286.41,632.22 286.67,632.94 286.92,634.65 287.17,637.21 287.43,640.47 287.68,644.28 287.93,648.50 288.19,652.97 288.44,657.55 288.70,662.09 288.95,666.44 289.20,670.46 289.46,674.01 289.71,676.92 289.97,679.06 290.22,680.27 290.47,680.42 290.73,679.52 290.98,677.70 291.24,675.16 291.49,672.03 291.74,668.49 292.00,664.71 292.25,660.83 292.51,657.03 292.76,653.47 293.01,650.31 293.27,647.71 293.52,645.84 293.78,644.86 294.03,644.99 294.28,646.50 294.54,649.16 294.79,652.72 295.05,656.90 295.30,661.45 295.55,666.09 295.81,670.57 296.06,674.60 296.31,677.94 296.57,680.31 296.82,681.44 297.08,681.22 297.33,679.97 297.58,677.86 297.84,675.06 298.09,671.72 298.35,667.99 298.60,664.04 298.85,660.02 299.11,656.10 299.36,652.42 299.62,649.15 299.87,646.45 300.12,644.47 300.38,643.36 300.63,643.25 300.89,643.83 301.14,644.97 301.39,646.63 301.65,648.75 301.90,651.27 302.16,654.14 302.41,657.31 302.66,660.71 302.92,664.31 303.17,668.03 303.43,671.83 303.68,675.65 303.93,679.44 304.19,683.14 304.44,686.69 304.69,690.06 304.95,693.17 305.20,695.98 305.46,698.42 305.71,700.45 305.96,702.01 306.22,703.05 306.47,703.51 306.73,703.15 306.98,701.63 307.23,699.16 307.49,695.96 307.74,692.26 308.00,688.30 308.25,684.30 308.50,680.50 308.76,677.12 309.01,674.39 309.27,672.54 309.52,671.81 309.77,672.10 310.03,673.06 310.28,674.61 310.54,676.66 310.79,679.15 311.04,682.01 311.30,685.16 311.55,688.52 311.81,692.03 312.06,695.61 312.31,699.18 312.57,702.68 312.82,706.02 313.07,709.14 313.33,711.96 313.58,714.40 313.84,716.40 314.09,717.88 314.34,718.76 314.60,718.98 314.85,718.38 315.11,717.01 315.36,714.96 315.61,712.34 315.87,709.24 316.12,705.77 316.38,702.03 316.63,698.12 316.88,694.14 317.14,690.19 317.39,686.38 317.65,682.79 317.90,679.55 318.15,676.74 318.41,674.47 318.66,672.84 318.92,671.94 319.17,671.90 319.42,672.82 319.68,674.59 319.93,677.03 320.19,680.02 320.44,683.38 320.69,686.96 320.95,690.62 321.20,694.19 321.45,697.54 321.71,700.49 321.96,702.89 322.22,704.61 322.47,705.47 322.72,705.36 322.98,704.37 323.23,702.62 323.49,700.22 323.74,697.27 323.99,693.90 324.25,690.21 324.50,686.31 324.76,682.32 325.01,678.35 325.26,674.50 325.52,670.89 325.77,667.63 326.03,664.83 326.28,662.60 326.53,661.06 326.79,660.31 327.04,660.40 327.30,661.12 327.55,662.39 327.80,664.15 328.06,666.34 328.31,668.88 328.56,671.72 328.82,674.79 329.07,678.03 329.33,681.38 329.58,684.76 329.83,688.11 330.09,691.38 330.34,694.49 330.60,697.38 330.85,699.99 331.10,702.25 331.36,704.10 331.61,705.47 331.87,706.31 332.12,706.54 332.37,706.32 332.63,705.79 332.88,705.01 333.14,704.03 333.39,702.90 333.64,701.68 333.90,700.42 334.15,699.17 334.41,697.99 334.66,696.93 334.91,696.03 335.17,695.37 335.42,694.98 335.68,694.93 335.93,695.39 336.18,696.36 336.44,697.77 336.69,699.55 336.94,701.63 337.20,703.95 337.45,706.43 337.71,709.02 337.96,711.65 338.21,714.25 338.47,716.74 338.72,719.08 338.98,721.19 339.23,722.99 339.48,724.44 339.74,725.45 339.99,725.97 340.25,725.99 340.50,725.78 340.75,725.41 341.01,724.89 341.26,724.27 341.52,723.55 341.77,722.78 342.02,721.96 342.28,721.15 342.53,720.34 342.79,719.59 343.04,718.90 343.29,718.31 343.55,717.85 343.80,717.53 344.06,717.39 344.31,717.67 344.56,718.74 344.82,720.47 345.07,722.73 345.32,725.36 345.58,728.21 345.83,731.14 346.09,733.99 346.34,736.63 346.59,738.91 346.85,740.67 347.10,741.78 347.36,742.07 347.61,741.30 347.86,739.49 348.12,736.79 348.37,733.36 348.63,729.35 348.88,724.92 349.13,720.23 349.39,715.42 349.64,710.65 349.90,706.09 350.15,701.87 350.40,698.16 350.66,695.11 350.91,692.87 351.17,691.61 351.42,691.44 351.67,692.05 351.93,693.28 352.18,695.03 352.44,697.18 352.69,699.65 352.94,702.32 353.20,705.11 353.45,707.91 353.70,710.63 353.96,713.15 354.21,715.38 354.47,717.23 354.72,718.59 354.97,719.36 355.23,719.45 355.48,718.88 355.74,717.73 355.99,716.08 356.24,713.98 356.50,711.51 356.75,708.73 357.01,705.71 357.26,702.53 357.51,699.24 357.77,695.93 358.02,692.64 358.28,689.47 358.53,686.46 358.78,683.69 359.04,681.24 359.29,679.16 359.55,677.52 359.80,676.40 360.05,675.86 360.31,675.98 360.56,676.80 360.82,678.21 361.07,680.14 361.32,682.48 361.58,685.13 361.83,687.99 362.08,690.98 362.34,693.98 362.59,696.92 362.85,699.68 363.10,702.18 363.35,704.31 363.61,705.98 363.86,707.09 364.12,707.54 364.37,707.00 364.62,705.15 364.88,702.20 365.13,698.38 365.39,693.89 365.64,688.97 365.89,683.81 366.15,678.66 366.40,673.71 366.66,669.19 366.91,665.32 367.16,662.31 367.42,660.38 367.67,659.76 367.93,660.29 368.18,661.69 368.43,663.85 368.69,666.65 368.94,669.99 369.19,673.75 369.45,677.83 369.70,682.10 369.96,686.47 370.21,690.82 370.46,695.03 370.72,699.00 370.97,702.62 371.23,705.77 371.48,708.35 371.73,710.24 371.99,711.33 372.24,711.49 372.50,710.32 372.75,707.88 373.00,704.37 373.26,699.99 373.51,694.96 373.77,689.48 374.02,683.75 374.27,677.98 374.53,672.38 374.78,667.15 375.04,662.50 375.29,658.64 375.54,655.76 375.80,654.08 376.05,653.79 376.31,654.82 376.56,656.95 376.81,660.05 377.07,663.95 377.32,668.48 377.57,673.49 377.83,678.82 378.08,684.30 378.34,689.78 378.59,695.09 378.84,700.08 379.10,704.58 379.35,708.44 379.61,711.49 379.86,713.57 380.11,714.53 380.37,714.33 380.62,713.27 380.88,711.48 381.13,709.08 381.38,706.19 381.64,702.93 381.89,699.41 382.15,695.76 382.40,692.09 382.65,688.51 382.91,685.16 383.16,682.15 383.42,679.59 383.67,677.60 383.92,676.31 384.18,675.82 384.43,676.19 384.69,677.28 384.94,678.97 385.19,681.14 385.45,683.67 385.70,686.44 385.95,689.32 386.21,692.20 386.46,694.95 386.72,697.45 386.97,699.58 387.22,701.21 387.48,702.23 387.73,702.51 387.99,701.74 388.24,699.91 388.49,697.21 388.75,693.82 389.00,689.92 389.26,685.70 389.51,681.34 389.76,677.03 390.02,672.94 390.27,669.27 390.53,666.18 390.78,663.88 391.03,662.54 391.29,662.29 391.54,662.61 391.80,663.26 392.05,664.17 392.30,665.26 392.56,666.46 392.81,667.70 393.07,668.92 393.32,670.03 393.57,670.97 393.83,671.67 394.08,672.05 394.33,672.08 394.59,671.89 394.84,671.56 395.10,671.15 395.35,670.71 395.60,670.30 395.86,669.99 396.11,669.81 396.37,669.84 396.62,670.09 396.87,670.53 397.13,671.15 397.38,671.91 397.64,672.78 397.89,673.75 398.14,674.77 398.40,675.83 398.65,676.90 398.91,677.94 399.16,678.94 399.41,679.87 399.67,680.70 399.92,681.39 400.18,681.93 400.43,682.29 400.68,682.44 400.94,682.39 401.19,682.21 401.45,681.92 401.70,681.55 401.95,681.12 402.21,680.67 402.46,680.22 402.71,679.79 402.97,679.41 403.22,679.10 403.48,678.90 403.73,678.83 403.98,679.09 404.24,679.80 404.49,680.92 404.75,682.37 405.00,684.11 405.25,686.08 405.51,688.21 405.76,690.45 406.02,692.74 406.27,695.03 406.52,697.25 406.78,699.34 407.03,701.25 407.29,702.92 407.54,704.29 407.79,705.31 408.05,705.90 408.30,706.02 408.56,705.56 408.81,704.57 409.06,703.14 409.32,701.36 409.57,699.34 409.82,697.15 410.08,694.91 410.33,692.70 410.59,690.62 410.84,688.76 411.09,687.22 411.35,686.09 411.60,685.46 411.86,685.37 412.11,685.53 412.36,685.83 412.62,686.26 412.87,686.81 413.13,687.47 413.38,688.21 413.63,689.02 413.89,689.90 414.14,690.81 414.40,691.76 414.65,692.72 414.90,693.67 415.16,694.62 415.41,695.53 415.67,696.39 415.92,697.19 416.17,697.92 416.43,698.55 416.68,699.08 416.94,699.51 417.19,699.89 417.44,700.23 417.70,700.55 417.95,700.85 418.20,701.14 418.46,701.44 418.71,701.75 418.97,702.09 419.22,702.47 419.47,702.92 419.73,703.49 419.98,704.13 420.24,704.80 420.49,705.48 420.74,706.12 421.00,706.69 421.25,707.14 421.51,707.44 421.76,707.55 422.01,707.15 422.27,706.06 422.52,704.44 422.78,702.48 423.03,700.35 423.28,698.23 423.54,696.30 423.79,694.73 424.05,693.71 424.30,693.39 424.55,693.49 424.81,693.75 425.06,694.15 425.32,694.68 425.57,695.33 425.82,696.07 426.08,696.91 426.33,697.82 426.58,698.80 426.84,699.82 427.09,700.88 427.35,701.96 427.60,703.05 427.85,704.14 428.11,705.21 428.36,706.25 428.62,707.25 428.87,708.18 429.12,709.05 429.38,709.84 429.63,710.53 429.89,711.10 430.14,711.56 430.39,711.87 430.65,712.04 430.90,711.96 431.16,711.12 431.41,709.61 431.66,707.61 431.92,705.32 432.17,702.95 432.43,700.68 432.68,698.72 432.93,697.25 433.19,696.47 433.44,696.49 433.70,696.96 433.95,697.79 434.20,698.88 434.46,700.16 434.71,701.54 434.96,702.95 435.22,704.30 435.47,705.51 435.73,706.51 435.98,707.21 436.23,707.54 436.49,707.43 436.74,706.96 437.00,706.15 437.25,705.05 437.50,703.68 437.76,702.10 438.01,700.32 438.27,698.40 438.52,696.37 438.77,694.26 439.03,692.11 439.28,689.95 439.54,687.83 439.79,685.78 440.04,683.84 440.30,682.04 440.55,680.43 440.81,679.02 441.06,677.88 441.31,677.02 441.57,676.49 441.82,676.32 442.08,676.82 442.33,678.10 442.58,680.00 442.84,682.40 443.09,685.14 443.34,688.09 443.60,691.11 443.85,694.04 444.11,696.75 444.36,699.10 444.61,700.94 444.87,702.13 445.12,702.53 445.38,702.21 445.63,701.40 445.88,700.21 446.14,698.76 446.39,697.16 446.65,695.53 446.90,693.98 447.15,692.63 447.41,691.59 447.66,690.99 447.92,690.91 448.17,691.24 448.42,691.86 448.68,692.69 448.93,693.65 449.19,694.66 449.44,695.62 449.69,696.47 449.95,697.11 450.20,697.46 450.45,697.44 450.71,696.97 450.96,696.10 451.22,694.89 451.47,693.41 451.72,691.72 451.98,689.88 452.23,687.96 452.49,686.00 452.74,684.09 452.99,682.27 453.25,680.62 453.50,679.18 453.76,678.04 454.01,677.24 454.26,676.85 454.52,676.79 454.77,676.76 455.03,676.73 455.28,676.71 455.53,676.68 455.79,676.67 456.04,676.65 456.30,676.64 456.55,676.63 456.80,676.62 457.06,676.61 457.31,676.59 457.57,676.58 457.82,676.57 458.07,676.55 458.33,676.53 458.58,676.51 458.83,676.49 459.09,676.46 459.34,676.42 459.60,676.32 459.85,676.11 460.10,675.79 460.36,675.39 460.61,674.90 460.87,674.34 461.12,673.72 461.37,673.05 461.63,672.35 461.88,671.61 462.14,670.86 462.39,670.10 462.64,669.34 462.90,668.60 463.15,667.88 463.41,667.20 463.66,666.56 463.91,665.98 464.17,665.47 464.42,665.04 464.68,664.69 464.93,664.44 465.18,664.30 465.44,664.28 465.69,664.42 465.95,664.69 466.20,665.07 466.45,665.53 466.71,666.03 466.96,666.55 467.21,667.06 467.47,667.52 467.72,667.92 467.98,668.21 468.23,668.37 468.48,668.26 468.74,667.34 468.99,665.69 469.25,663.49 469.50,660.95 469.75,658.24 470.01,655.57 470.26,653.12 470.52,651.10 470.77,649.68 471.02,649.06 471.28,649.17 471.53,649.56 471.79,650.17 472.04,650.92 472.29,651.74 472.55,652.57 472.80,653.34 473.06,653.98 473.31,654.41 473.56,654.57 473.82,654.47 474.07,654.16 474.33,653.70 474.58,653.12 474.83,652.46 475.09,651.77 475.34,651.08 475.59,650.43 475.85,649.86 476.10,649.42 476.36,649.13 476.61,649.06 476.86,649.24 477.12,649.68 477.37,650.32 477.63,651.14 477.88,652.08 478.13,653.10 478.39,654.16 478.64,655.21 478.90,656.23 479.15,657.15 479.40,657.94 479.66,658.56 479.91,658.96 480.17,659.13 480.42,659.22 480.67,659.31 480.93,659.40 481.18,659.48 481.44,659.56 481.69,659.63 481.94,659.70 482.20,659.76 482.45,659.81 482.71,659.87 482.96,659.91 483.21,659.95 483.47,659.99 483.72,660.02 483.97,660.05 484.23,660.07 484.48,660.08 484.74,660.09 484.99,660.10 485.24,660.07 485.50,659.95 485.75,659.72 486.01,659.39 486.26,658.98 486.51,658.49 486.77,657.92 487.02,657.30 487.28,656.62 487.53,655.90 487.78,655.14 488.04,654.35 488.29,653.55 488.55,652.73 488.80,651.92 489.05,651.10 489.31,650.31 489.56,649.54 489.82,648.80 490.07,648.10 490.32,647.46 490.58,646.87 490.83,646.34 491.08,645.90 491.34,645.53 491.59,645.26 491.85,645.10 492.10,645.04 492.35,645.39 492.61,646.39 492.86,647.93 493.12,649.90 493.37,652.19 493.62,654.69 493.88,657.30 494.13,659.89 494.39,662.37 494.64,664.61 494.89,666.52 495.15,667.98 495.40,668.89 495.66,669.12 495.91,668.57 496.16,667.29 496.42,665.42 496.67,663.09 496.93,660.41 497.18,657.51 497.43,654.52 497.69,651.56 497.94,648.76 498.20,646.25 498.45,644.15 498.70,642.59 498.96,641.69 499.21,641.54 499.46,641.73 499.72,642.10 499.97,642.61 500.23,643.22 500.48,643.90 500.73,644.59 500.99,645.27 501.24,645.90 501.50,646.42 501.75,646.81 502.00,647.02 502.26,647.04 502.51,647.00 502.77,646.93 503.02,646.83 503.27,646.72 503.53,646.59 503.78,646.46 504.04,646.34 504.29,646.23 504.54,646.14 504.80,646.07 505.05,646.04 505.31,646.14 505.56,646.62 505.81,647.44 506.07,648.54 506.32,649.88 506.58,651.39 506.83,653.03 507.08,654.73 507.34,656.44 507.59,658.11 507.84,659.68 508.10,661.10 508.35,662.30 508.61,663.24 508.86,663.86 509.11,664.11 509.37,664.08 509.62,663.95 509.88,663.73 510.13,663.40 510.38,662.96 510.64,662.39 510.89,661.69 511.15,660.85 511.40,659.86" fill="none" stroke="#1f77b4" stroke-width="5.6" stroke-linejoin="round" stroke-linecap="butt" />
<rect x="105.10" y="523.80" width="406.30" height="394.70" fill="none" stroke="#000" stroke-width="2.9"/>
<line x1="105.10" y1="918.50" x2="105.10" y2="925.10" stroke="#000" stroke-width="2.0"/>
<text x="105.10" y="950.90" font-family="'DejaVu Sans','Liberation Sans',sans-serif" font-size="25" text-anchor="middle" fill="#000" >20</text>
<line x1="206.67" y1="918.50" x2="206.67" y2="925.10" stroke="#000" stroke-width="2.0"/>
<text x="206.67" y="950.90" font-family="'DejaVu Sans','Liberation Sans',sans-serif" font-size="25" text-anchor="middle" fill="#000" >25</text>
<line x1="308.25" y1="918.50" x2="308.25" y2="925.10" stroke="#000" stroke-width="2.0"/>
<text x="308.25" y="950.90" font-family="'DejaVu Sans','Liberation Sans',sans-serif" font-size="25" text-anchor="middle" fill="#000" >30</text>
<line x1="409.82" y1="918.50" x2="409.82" y2="925.10" stroke="#000" stroke-width="2.0"/>
<text x="409.82" y="950.90" font-family="'DejaVu Sans','Liberation Sans',sans-serif" font-size="25" text-anchor="middle" fill="#000" >35</text>
<line x1="511.40" y1="918.50" x2="511.40" y2="925.10" stroke="#000" stroke-width="2.0"/>
<text x="511.40" y="950.90" font-family="'DejaVu Sans','Liberation Sans',sans-serif" font-size="25" text-anchor="middle" fill="#000" >40</text>
<line x1="98.50" y1="523.80" x2="105.10" y2="523.80" stroke="#000" stroke-width="2.0"/>
<text x="91.80" y="532.91" font-family="'DejaVu Sans','Liberation Sans',sans-serif" font-size="25" text-anchor="end" fill="#000" >2</text>
<line x1="98.50" y1="584.52" x2="105.10" y2="584.52" stroke="#000" stroke-width="2.0"/>
<text x="91.80" y="593.64" font-family="'DejaVu Sans','Liberation Sans',sans-serif" font-size="25" text-anchor="end" fill="#000" >1</text>
<line x1="98.50" y1="645.25" x2="105.10" y2="645.25" stroke="#000" stroke-width="2.0"/>
<text x="91.80" y="654.36" font-family="'DejaVu Sans','Liberation Sans',sans-serif" font-size="25" text-anchor="end" fill="#000" >0</text>
<line x1="98.50" y1="705.97" x2="105.10" y2="705.97" stroke="#000" stroke-width="2.0"/>
<text x="91.80" y="715.08" font-family="'DejaVu Sans','Liberation Sans',sans-serif" font-size="25" text-anchor="end" fill="#000" >−1</text>
<line x1="98.50" y1="766.69" x2="105.10" y2="766.69" stroke="#000" stroke-width="2.0"/>
<text x="91.80" y="775.80" font-family="'DejaVu Sans','Liberation Sans',sans-serif" font-size="25" text-anchor="end" fill="#000" >−2</text>
<line x1="98.50" y1="827.42" x2="105.10" y2="827.42" stroke="#000" stroke-width="2.0"/>
<text x="91.80" y="836.53" font-family="'DejaVu Sans','Liberation Sans',sans-serif" font-size="25" text-anchor="end" fill="#000" >−3</text>
<line x1="98.50" y1="888.14" x2="105.10" y2="888.14" stroke="#000" stroke-width="2.0"/>
<text x="91.80" y="897.25" font-family="'DejaVu Sans','Liberation Sans',sans-serif" font-size="25" text-anchor="end" fill="#000" >−4</text>
<text x="308.80" y="988.20" font-family="'DejaVu Sans','Liberation Sans',sans-serif" font-size="29.5" text-anchor="middle" fill="#000" letter-spacing="0.6">Time [µs]</text>
<text transform="translate(42.00,721.50) rotate(-90)" font-family="'DejaVu Sans','Liberation Sans',sans-serif" font-size="28.8" text-anchor="middle" fill="#000" >Amplitude [mV]</text>
<line x1="134.7" y1="851.7" x2="175" y2="851.7" stroke="#808080" stroke-width="5.6"/>
<text x="184.60" y="863.10" font-family="'DejaVu Sans','Liberation Sans',sans-serif" font-size="36.4" text-anchor="start" fill="#808080" letter-spacing="0.6">Water</text>
<line x1="134.7" y1="886.2" x2="175" y2="886.2" stroke="#1f77b4" stroke-width="5.6" stroke-dasharray="13.6 14"/>
<text x="183.40" y="897.60" font-family="'DejaVu Sans','Liberation Sans',sans-serif" font-size="36.4" text-anchor="start" fill="#1f77b4" letter-spacing="0.6">MB</text>
<text x="2.20" y="972.80" font-family="'Liberation Sans','DejaVu Sans',sans-serif" font-size="52" text-anchor="start" fill="#000" font-weight="bold">c)</text>
<polyline clip-path="url(#clipd)" points="671.60,652.33 671.85,650.88 672.11,649.48 672.36,648.17 672.62,647.00 672.87,645.99 673.12,645.18 673.38,644.44 673.63,643.71 673.89,643.02 674.14,642.37 674.39,641.78 674.65,641.28 674.90,640.89 675.16,640.61 675.41,640.47 675.66,640.54 675.92,641.05 676.17,641.94 676.43,643.14 676.68,644.57 676.94,646.15 677.19,647.82 677.44,649.48 677.70,651.06 677.95,652.49 678.21,653.69 678.46,654.59 678.71,655.39 678.97,656.19 679.22,656.99 679.48,657.75 679.73,658.46 679.98,659.10 680.24,659.64 680.49,660.07 680.75,660.37 681.00,660.51 681.25,660.48 681.51,660.32 681.76,660.03 682.02,659.64 682.27,659.16 682.52,658.59 682.78,657.95 683.03,657.27 683.29,656.54 683.54,655.79 683.80,655.02 684.05,654.25 684.30,653.50 684.56,652.78 684.81,652.10 685.07,651.47 685.32,650.85 685.57,650.15 685.83,649.40 686.08,648.61 686.34,647.81 686.59,647.02 686.84,646.26 687.10,645.55 687.35,644.91 687.61,644.36 687.86,643.92 688.11,643.61 688.37,643.46 688.62,643.62 688.88,644.54 689.13,646.09 689.38,648.05 689.64,650.24 689.89,652.45 690.15,654.50 690.40,656.17 690.65,657.50 690.91,658.91 691.16,660.23 691.42,661.30 691.67,661.92 691.93,661.98 692.18,661.74 692.43,661.32 692.69,660.76 692.94,660.11 693.20,659.44 693.45,658.79 693.70,658.21 693.96,657.77 694.21,657.42 694.47,657.12 694.72,656.79 694.97,656.37 695.23,655.81 695.48,654.74 695.74,651.55 695.99,646.80 696.24,641.45 696.50,636.48 696.75,632.79 697.01,629.48 697.26,626.20 697.51,623.34 697.77,621.31 698.02,620.50 698.28,620.66 698.53,621.12 698.78,621.76 699.04,622.51 699.29,623.25 699.55,623.89 699.80,624.34 700.05,624.49 700.31,623.79 700.56,622.09 700.82,619.68 701.07,616.86 701.33,613.92 701.58,611.15 701.83,608.85 702.09,607.27 702.34,605.97 702.60,604.70 702.85,603.51 703.10,602.48 703.36,601.66 703.61,601.13 703.87,600.94 704.12,601.08 704.37,601.45 704.63,602.02 704.88,602.75 705.14,603.60 705.39,604.52 705.64,605.49 705.90,606.45 706.15,607.38 706.41,608.23 706.66,608.95 706.91,609.52 707.17,609.89 707.42,610.02 707.68,609.81 707.93,609.23 708.19,608.35 708.44,607.25 708.69,605.99 708.95,604.65 709.20,603.31 709.46,602.02 709.71,600.87 709.96,599.93 710.22,599.27 710.47,598.96 710.73,599.00 710.98,599.27 711.23,599.72 711.49,600.34 711.74,601.10 712.00,601.97 712.25,602.94 712.50,603.97 712.76,605.05 713.01,606.15 713.27,607.24 713.52,608.32 713.77,609.33 714.03,610.28 714.28,611.15 714.54,611.99 714.79,612.82 715.04,613.65 715.30,614.47 715.55,615.30 715.81,616.15 716.06,617.01 716.31,617.92 716.57,618.85 716.82,619.84 717.08,620.88 717.33,621.98 717.59,623.15 717.84,624.45 718.09,626.00 718.35,627.74 718.60,629.60 718.86,631.52 719.11,633.43 719.36,635.26 719.62,636.94 719.87,638.41 720.13,639.87 720.38,641.32 720.63,642.29 720.89,642.44 721.14,642.32 721.40,642.16 721.65,642.01 721.90,641.96 722.16,642.65 722.41,644.29 722.67,646.53 722.92,649.02 723.17,651.41 723.43,653.35 723.68,655.03 723.94,656.84 724.19,658.51 724.45,659.80 724.70,660.47 724.95,660.35 725.21,659.65 725.46,658.54 725.72,657.19 725.97,655.79 726.22,654.50 726.48,653.51 726.73,652.97 726.99,653.05 727.24,653.67 727.49,654.65 727.75,655.84 728.00,657.09 728.26,658.22 728.51,659.08 728.76,659.50 729.02,659.45 729.27,659.20 729.53,658.81 729.78,658.36 730.03,657.89 730.29,657.47 730.54,657.16 730.80,657.02 731.05,657.26 731.30,658.06 731.56,659.26 731.81,660.74 732.07,662.36 732.32,663.96 732.58,665.41 732.83,666.58 733.08,667.31 733.34,667.47 733.59,666.84 733.85,665.49 734.10,663.57 734.35,661.24 734.61,658.65 734.86,655.97 735.12,653.34 735.37,650.93 735.62,648.89 735.88,647.38 736.13,646.55 736.39,646.50 736.64,646.94 736.89,647.75 737.15,648.86 737.40,650.20 737.66,651.70 737.91,653.28 738.16,654.87 738.42,656.41 738.67,657.83 738.93,659.25 739.18,660.73 739.43,662.27 739.69,663.86 739.94,665.49 740.20,667.16 740.45,668.86 740.70,670.57 740.96,672.33 741.21,674.29 741.47,676.44 741.72,678.68 741.98,680.95 742.23,683.16 742.48,685.24 742.74,687.10 742.99,688.68 743.25,689.89 743.50,690.72 743.75,691.46 744.01,692.08 744.26,692.51 744.52,692.65 744.77,692.47 745.02,692.13 745.28,691.77 745.53,691.56 745.79,691.68 746.04,692.21 746.29,693.00 746.55,693.87 746.80,694.66 747.06,695.20 747.31,695.32 747.56,694.76 747.82,693.60 748.07,692.00 748.33,690.14 748.58,688.21 748.84,686.36 749.09,684.77 749.34,683.62 749.60,683.09 749.85,683.56 750.11,685.37 750.36,688.12 750.61,691.41 750.87,694.82 751.12,698.34 751.38,703.15 751.63,707.77 751.88,710.34 752.14,711.28 752.39,712.02 752.65,712.53 752.90,712.79 753.15,712.79 753.41,712.71 753.66,712.61 753.92,712.53 754.17,712.61 754.42,714.52 754.68,718.21 754.93,722.81 755.19,727.46 755.44,731.32 755.69,734.68 755.95,738.23 756.20,741.75 756.46,745.03 756.71,747.86 756.97,750.03 757.22,751.33 757.47,752.08 757.73,752.56 757.98,752.50 758.24,751.74 758.49,750.34 758.74,748.42 759.00,746.07 759.25,743.39 759.51,740.49 759.76,737.45 760.01,734.38 760.27,731.37 760.52,728.54 760.78,725.96 761.03,723.76 761.28,722.01 761.54,720.83 761.79,720.32 762.05,720.59 762.30,721.68 762.55,723.48 762.81,725.86 763.06,728.70 763.32,731.87 763.57,735.26 763.82,738.73 764.08,742.18 764.33,745.47 764.59,748.48 764.84,751.09 765.10,753.17 765.35,754.61 765.60,755.28 765.86,754.57 766.11,751.54 766.37,746.85 766.62,741.29 766.87,735.61 767.13,730.57 767.38,726.93 767.64,724.79 767.89,722.80 768.14,720.87 768.40,719.03 768.65,717.29 768.91,715.66 769.16,714.15 769.41,712.79 769.67,711.58 769.92,710.54 770.18,709.68 770.43,709.02 770.68,708.57 770.94,708.34 771.19,708.52 771.45,709.92 771.70,712.46 771.95,715.93 772.21,720.14 772.46,724.87 772.72,729.91 772.97,735.06 773.23,740.12 773.48,744.88 773.73,749.12 773.99,752.65 774.24,755.25 774.50,756.72 774.75,756.88 775.00,755.89 775.26,753.90 775.51,751.05 775.77,747.48 776.02,743.32 776.27,738.70 776.53,733.75 776.78,728.60 777.04,723.40 777.29,718.26 777.54,713.33 777.80,708.73 778.05,704.60 778.31,701.07 778.56,698.27 778.81,696.34 779.07,695.41 779.32,696.55 779.58,701.88 779.83,709.31 780.08,716.44 780.34,720.88 780.59,722.01 780.85,722.89 781.10,723.67 781.35,724.35 781.61,724.94 781.86,725.44 782.12,725.84 782.37,726.16 782.63,726.39 782.88,726.52 783.13,726.58 783.39,726.28 783.64,725.31 783.90,723.78 784.15,721.80 784.40,719.49 784.66,716.95 784.91,714.30 785.17,711.66 785.42,709.12 785.67,706.82 785.93,704.85 786.18,703.34 786.44,702.07 786.69,700.77 786.94,699.50 787.20,698.33 787.45,697.30 787.71,696.49 787.96,695.95 788.21,695.74 788.47,695.90 788.72,696.39 788.98,697.16 789.23,698.15 789.49,699.30 789.74,700.54 789.99,701.83 790.25,703.11 790.50,704.31 790.76,705.37 791.01,706.25 791.26,706.87 791.52,707.19 791.77,707.05 792.03,706.12 792.28,704.45 792.53,702.16 792.79,699.35 793.04,696.12 793.30,692.57 793.55,688.80 793.80,684.92 794.06,681.03 794.31,677.24 794.57,673.64 794.82,670.34 795.07,667.44 795.33,665.05 795.58,663.26 795.84,661.76 796.09,660.27 796.34,658.89 796.60,657.72 796.85,656.85 797.11,656.38 797.36,656.63 797.62,658.55 797.87,661.86 798.12,666.11 798.38,670.85 798.63,675.63 798.89,680.00 799.14,683.52 799.39,685.73 799.65,686.23 799.90,685.53 800.16,684.03 800.41,681.83 800.66,679.04 800.92,675.77 801.17,672.13 801.43,668.24 801.68,664.20 801.93,660.12 802.19,656.12 802.44,652.31 802.70,648.79 802.95,645.69 803.20,643.10 803.46,641.14 803.71,639.93 803.97,639.56 804.22,639.60 804.47,639.71 804.73,639.88 804.98,640.08 805.24,640.31 805.49,640.55 805.75,640.79 806.00,641.02 806.25,641.22 806.51,641.39 806.76,641.50 807.02,641.55 807.27,641.28 807.52,640.31 807.78,638.79 808.03,636.84 808.29,634.63 808.54,632.29 808.79,629.95 809.05,627.44 809.30,624.31 809.56,620.73 809.81,616.86 810.06,612.88 810.32,608.96 810.57,605.29 810.83,602.03 811.08,599.35 811.33,596.89 811.59,594.37 811.84,591.92 812.10,589.67 812.35,587.73 812.60,586.24 812.86,585.32 813.11,585.09 813.37,585.83 813.62,587.45 813.88,589.77 814.13,592.59 814.38,595.70 814.64,598.92 814.89,602.03 815.15,604.84 815.40,607.16 815.65,608.78 815.91,609.50 816.16,609.09 816.42,607.46 816.67,604.82 816.92,601.34 817.18,597.24 817.43,592.69 817.69,587.89 817.94,583.04 818.19,578.33 818.45,573.95 818.70,570.09 818.96,566.95 819.21,564.73 819.46,563.61 819.72,563.68 819.97,564.60 820.23,566.25 820.48,568.53 820.73,571.36 820.99,574.63 821.24,578.28 821.50,582.19 821.75,586.29 822.00,590.47 822.26,594.66 822.51,598.76 822.77,602.68 823.02,606.33 823.28,609.61 823.53,612.45 823.78,614.74 824.04,616.39 824.29,617.33 824.55,617.42 824.80,616.41 825.05,614.37 825.31,611.47 825.56,607.88 825.82,603.77 826.07,599.30 826.32,594.66 826.58,589.99 826.83,585.48 827.09,581.30 827.34,577.60 827.59,574.57 827.85,572.37 828.10,571.17 828.36,571.11 828.61,572.05 828.86,573.83 829.12,576.34 829.37,579.44 829.63,583.03 829.88,586.96 830.13,591.13 830.39,595.40 830.64,599.65 830.90,603.76 831.15,607.60 831.41,611.05 831.66,613.99 831.91,616.29 832.17,617.83 832.42,618.49 832.68,618.09 832.93,616.65 833.18,614.40 833.44,611.58 833.69,608.41 833.95,605.15 834.20,602.02 834.45,599.26 834.71,597.12 834.96,595.82 835.22,595.57 835.47,595.85 835.72,596.44 835.98,597.29 836.23,598.37 836.49,599.63 836.74,601.04 836.99,602.54 837.25,604.10 837.50,605.68 837.76,607.24 838.01,608.96 838.27,611.20 838.52,613.86 838.77,616.82 839.03,619.95 839.28,623.13 839.54,626.24 839.79,629.15 840.04,631.74 840.30,633.90 840.55,635.49 840.81,636.40 841.06,636.47 841.31,635.35 841.57,633.16 841.82,630.11 842.08,626.42 842.33,622.31 842.58,617.99 842.84,613.69 843.09,609.63 843.35,606.01 843.60,603.07 843.85,601.02 844.11,600.08 844.36,600.31 844.62,601.40 844.87,603.25 845.12,605.78 845.38,608.87 845.63,612.44 845.89,616.40 846.14,620.64 846.39,625.09 846.65,629.63 846.90,634.18 847.16,638.65 847.41,642.94 847.67,646.96 847.92,651.93 848.17,657.63 848.43,662.56 848.68,665.25 848.94,665.23 849.19,664.46 849.44,663.14 849.70,661.36 849.95,659.18 850.21,656.67 850.46,653.93 850.71,651.02 850.97,648.02 851.22,645.00 851.48,642.04 851.73,639.22 851.98,636.61 852.24,634.29 852.49,632.33 852.75,630.81 853.00,629.80 853.25,629.39 853.51,629.68 853.76,630.74 854.02,632.46 854.27,634.74 854.52,637.48 854.78,640.57 855.03,643.93 855.29,647.44 855.54,651.00 855.80,654.52 856.05,657.90 856.30,661.02 856.56,663.80 856.81,666.12 857.07,667.90 857.32,669.02 857.57,669.40 857.83,669.19 858.08,668.65 858.34,667.81 858.59,666.73 858.84,665.44 859.10,664.00 859.35,662.46 859.61,660.86 859.86,659.24 860.11,657.66 860.37,656.16 860.62,654.78 860.88,653.58 861.13,652.61 861.38,651.90 861.64,651.50 861.89,651.49 862.15,652.08 862.40,653.25 862.65,654.90 862.91,656.95 863.16,659.31 863.42,661.89 863.67,664.60 863.93,667.35 864.18,670.05 864.43,672.62 864.69,674.96 864.94,676.99 865.20,678.63 865.45,679.77 865.70,680.33 865.96,680.27 866.21,679.74 866.47,678.80 866.72,677.53 866.97,675.99 867.23,674.24 867.48,672.34 867.74,670.37 867.99,668.38 868.24,666.44 868.50,664.61 868.75,662.96 869.01,661.55 869.26,660.45 869.51,659.72 869.77,659.42 870.02,661.85 870.28,668.75 870.53,677.21 870.78,684.22 871.04,687.61 871.29,690.20 871.55,692.64 871.80,694.93 872.06,697.04 872.31,698.97 872.56,700.71 872.82,702.24 873.07,703.55 873.33,704.63 873.58,705.46 873.83,706.04 874.09,706.36 874.34,706.37 874.60,705.73 874.85,704.45 875.10,702.62 875.36,700.34 875.61,697.71 875.87,694.82 876.12,691.78 876.37,688.68 876.63,685.61 876.88,682.68 877.14,679.99 877.39,677.63 877.64,675.69 877.90,674.29 878.15,673.51 878.41,673.40 878.66,673.51 878.91,673.75 879.17,674.10 879.42,674.58 879.68,675.18 879.93,675.90 880.19,676.75 880.44,677.71 880.69,678.80 880.95,680.01 881.20,681.34 881.46,682.80 881.71,684.38 881.96,686.60 882.22,692.70 882.47,700.24 882.73,705.54 882.98,706.12 883.23,705.52 883.49,704.42 883.74,702.93 884.00,701.12 884.25,699.07 884.50,696.88 884.76,694.63 885.01,692.41 885.27,690.30 885.52,688.38 885.77,686.74 886.03,685.47 886.28,684.65 886.54,684.37 886.79,685.51 887.04,688.58 887.30,693.17 887.55,698.87 887.81,705.28 888.06,712.00 888.32,718.62 888.57,724.73 888.82,729.94 889.08,733.84 889.33,736.03 889.59,736.30 889.84,735.81 890.09,734.86 890.35,733.50 890.60,731.79 890.86,729.77 891.11,727.50 891.36,725.03 891.62,722.41 891.87,719.70 892.13,716.94 892.38,714.18 892.63,711.49 892.89,708.90 893.14,706.48 893.40,704.27 893.65,702.33 893.90,700.70 894.16,699.44 894.41,698.61 894.67,698.25 894.92,698.82 895.17,701.04 895.43,704.63 895.68,709.29 895.94,714.72 896.19,720.60 896.45,726.64 896.70,732.53 896.95,737.97 897.21,742.65 897.46,746.27 897.72,748.52 897.97,749.12 898.22,748.77 898.48,747.95 898.73,746.75 898.99,745.24 899.24,743.48 899.49,741.54 899.75,739.50 900.00,737.43 900.26,735.40 900.51,733.48 900.76,731.75 901.02,730.27 901.27,729.12 901.53,728.36 901.78,728.07 902.03,728.97 902.29,731.54 902.54,735.24 902.80,739.55 903.05,743.92 903.30,747.83 903.56,750.74 903.81,752.59 904.07,754.24 904.32,755.74 904.58,757.11 904.83,758.37 905.08,759.55 905.34,760.65 905.59,761.70 905.85,762.72 906.10,763.72 906.35,764.74 906.61,765.77 906.86,766.85 907.12,767.99 907.37,769.22 907.62,770.54 907.88,771.91 908.13,773.29 908.39,774.67 908.64,776.00 908.89,777.25 909.15,778.38 909.40,779.37 909.66,780.19 909.91,780.78 910.16,781.16 910.42,781.50 910.67,782.00 910.93,783.37 911.18,786.07 911.43,789.63 911.69,793.55 911.94,797.35 912.20,800.56 912.45,802.69 912.71,803.73 912.96,804.65 913.21,805.48 913.47,806.20 913.72,806.79 913.98,807.23 914.23,807.51 914.48,807.61 914.74,807.35 914.99,806.63 915.25,805.48 915.50,803.94 915.75,802.04 916.01,799.84 916.26,797.35 916.52,794.62 916.77,791.68 917.02,788.57 917.28,785.33 917.53,782.00 917.79,778.61 918.04,775.19 918.29,771.79 918.55,767.54 918.80,761.51 919.06,755.51 919.31,751.40 919.57,750.82 919.82,752.59 920.07,755.29 920.33,757.84 920.58,759.12 920.84,759.46 921.09,759.77 921.34,760.05 921.60,760.29 921.85,760.50 922.11,760.67 922.36,760.82 922.61,760.93 922.87,761.02 923.12,761.07 923.38,761.10 923.63,761.00 923.88,760.15 924.14,758.53 924.39,756.26 924.65,753.44 924.90,750.18 925.15,746.59 925.41,742.80 925.66,738.90 925.92,735.01 926.17,731.23 926.42,727.69 926.68,724.48 926.93,721.73 927.19,719.54 927.44,718.03 927.69,717.29 927.95,716.99 928.20,716.72 928.46,716.50 928.71,716.33 928.97,716.22 929.22,716.23 929.47,716.92 929.73,718.31 929.98,720.06 930.24,721.84 930.49,723.33 930.74,724.19 931.00,723.86 931.25,721.47 931.51,717.63 931.76,713.14 932.01,708.80 932.27,705.29 932.52,702.02 932.78,698.73 933.03,695.52 933.28,692.46 933.54,689.66 933.79,687.20 934.05,685.04 934.30,682.86 934.55,680.67 934.81,678.54 935.06,676.52 935.32,674.67 935.57,673.04 935.82,671.69 936.08,670.68 936.33,670.07 936.59,669.90 936.84,670.31 937.10,671.23 937.35,672.53 937.60,674.06 937.86,675.68 938.11,677.26 938.37,678.65 938.62,679.71 938.87,680.30 939.13,680.21 939.38,679.06 939.64,677.04 939.89,674.37 940.14,671.30 940.40,668.08 940.65,664.95 940.91,662.15 941.16,659.92 941.41,658.51 941.67,657.73 941.92,656.99 942.18,656.29 942.43,655.65 942.68,655.08 942.94,654.57 943.19,654.15 943.45,653.82 943.70,653.58 943.95,653.45 944.21,653.53 944.46,654.68 944.72,656.90 944.97,659.93 945.23,663.48 945.48,667.30 945.73,671.12 945.99,674.82 946.24,679.68 946.50,685.49 946.75,691.54 947.00,697.09 947.26,701.46 947.51,703.92 947.77,703.66 948.02,699.95 948.27,693.50 948.53,685.11 948.78,675.61 949.04,665.82 949.29,656.54 949.54,648.61 949.80,642.85 950.05,639.42 950.31,636.33 950.56,633.42 950.81,630.78 951.07,628.52 951.32,626.72 951.58,625.49 951.83,624.92 952.08,625.19 952.34,626.51 952.59,628.69 952.85,631.53 953.10,634.82 953.36,638.38 953.61,642.00 953.86,645.49 954.12,648.64 954.37,651.25 954.63,653.59 954.88,656.10 955.13,658.64 955.39,661.05 955.64,663.19 955.90,664.89 956.15,666.01 956.40,666.40 956.66,665.89 956.91,664.53 957.17,662.47 957.42,659.84 957.67,656.80 957.93,653.47 958.18,650.02 958.44,646.57 958.69,643.28 958.94,640.23 959.20,637.02 959.45,633.58 959.71,629.99 959.96,626.32 960.22,622.63 960.47,618.99 960.72,615.47 960.98,612.14 961.23,609.06 961.49,605.90 961.74,602.52 961.99,599.05 962.25,595.64 962.50,592.40 962.76,589.47 963.01,587.00 963.26,585.10 963.52,583.92 963.77,583.60 964.03,585.10 964.28,588.50 964.53,593.15 964.79,598.44 965.04,603.72 965.30,608.37 965.55,611.79 965.80,614.71 966.06,617.56 966.31,619.95 966.57,621.51 966.82,621.98 967.07,622.17 967.33,622.30 967.58,622.40 967.84,622.48 968.09,622.54 968.35,622.61 968.60,622.70 968.85,622.82 969.11,622.97 969.36,623.15 969.62,623.35 969.87,623.57 970.12,623.82 970.38,624.08 970.63,624.37 970.89,624.67 971.14,624.99 971.39,625.34 971.65,625.70 971.90,626.07 972.16,626.47 972.41,627.00 972.66,627.68 972.92,628.47 973.17,629.35 973.43,630.27 973.68,631.20 973.93,632.10 974.19,632.95 974.44,633.70 974.70,634.32 974.95,634.77 975.20,635.03 975.46,634.99 975.71,634.32 975.97,633.26 976.22,632.15 976.47,631.35 976.73,631.19 976.98,631.32 977.24,631.62 977.49,632.06 977.75,632.64 978.00,633.35 978.25,634.19 978.51,635.14 978.76,636.20 979.02,637.36 979.27,638.61 979.52,639.94 979.78,641.35 980.03,642.83 980.29,644.37 980.54,645.95 980.79,647.59 981.05,649.25 981.30,651.12 981.56,653.69 981.81,656.80 982.06,660.25 982.32,663.80 982.57,667.26 982.83,670.40 983.08,673.22 983.33,676.14 983.59,678.85 983.84,680.98 984.10,682.26 984.35,683.28 984.60,684.08 984.86,684.52 985.11,684.51 985.37,684.21 985.62,683.73 985.88,683.17 986.13,682.61 986.38,682.16 986.64,681.90 986.89,682.01 987.15,682.80 987.40,684.12 987.65,685.77 987.91,687.53 988.16,689.21 988.42,690.63 988.67,692.16 988.92,693.85 989.18,695.54 989.43,697.05 989.69,698.24 989.94,698.92 990.19,699.02 990.45,698.87 990.70,698.60 990.96,698.26 991.21,697.90 991.46,697.57 991.72,697.30 991.97,697.15 992.23,697.24 992.48,697.90 992.73,699.08 992.99,700.67 993.24,702.57 993.50,704.68 993.75,706.89 994.01,709.11 994.26,711.22 994.51,713.12 994.77,714.72 995.02,715.90 995.28,716.89 995.53,717.85 995.78,718.64 996.04,719.12 996.29,719.15 996.55,718.75 996.80,718.03 997.05,717.10 997.31,716.06 997.56,715.00 997.82,714.04 998.07,713.27 998.32,712.80 998.58,712.72 998.83,712.96 999.09,713.44 999.34,714.12 999.59,714.97 999.85,715.95 1000.10,717.01 1000.36,718.13 1000.61,719.25 1000.87,720.34 1001.12,721.38 1001.37,722.50 1001.63,723.79 1001.88,725.19 1002.14,726.66 1002.39,728.16 1002.64,729.64 1002.90,731.07 1003.15,732.39 1003.41,733.57 1003.66,734.57 1003.91,735.34 1004.17,735.93 1004.42,736.50 1004.68,736.97 1004.93,737.28 1005.18,737.33 1005.44,736.70 1005.69,735.47 1005.95,733.89 1006.20,732.24 1006.45,730.80 1006.71,729.82 1006.96,729.58 1007.22,729.84 1007.47,730.41 1007.72,731.26 1007.98,732.35 1008.23,733.65 1008.49,735.75 1008.74,740.11 1008.99,745.09 1009.25,748.80 1009.50,751.43 1009.76,753.78 1010.01,755.86 1010.27,757.72 1010.52,759.38 1010.77,760.85 1011.03,762.05 1011.28,763.06 1011.54,764.00 1011.79,764.98 1012.04,766.11 1012.30,767.50 1012.55,769.37 1012.81,771.96 1013.06,775.04 1013.31,778.35 1013.57,781.63 1013.82,784.63 1014.08,787.45 1014.33,790.39 1014.58,793.25 1014.84,795.86 1015.09,798.01 1015.35,799.55 1015.60,800.81 1015.85,801.95 1016.11,802.98 1016.36,803.92 1016.62,804.77 1016.87,805.55 1017.12,806.27 1017.38,806.94 1017.63,807.58 1017.89,808.19 1018.14,808.83 1018.40,809.48 1018.65,810.12 1018.90,810.68 1019.16,811.13 1019.41,811.41 1019.67,811.50 1019.92,811.33 1020.17,810.94 1020.43,810.38 1020.68,809.68 1020.94,808.88 1021.19,808.04 1021.44,807.19 1021.70,806.38 1021.95,805.64 1022.21,805.03 1022.46,804.58 1022.71,804.34 1022.97,804.37 1023.22,804.72 1023.48,805.35 1023.73,806.18 1023.98,807.13 1024.24,808.14 1024.49,809.47 1024.75,811.39 1025.00,813.58 1025.26,815.75 1025.51,817.60 1025.76,818.83 1026.02,819.76 1026.27,820.39 1026.53,820.34 1026.78,819.50 1027.03,818.41 1027.29,817.52 1027.54,816.62 1027.80,815.68 1028.05,814.74 1028.30,813.83 1028.56,813.00 1028.81,812.28 1029.07,811.72 1029.32,811.32 1029.57,811.03 1029.83,810.80 1030.08,810.61 1030.34,810.43 1030.59,810.24 1030.84,810.01 1031.10,809.71 1031.35,809.31 1031.61,808.74 1031.86,807.99 1032.11,807.10 1032.37,806.08 1032.62,804.96 1032.88,803.77 1033.13,802.54 1033.38,801.27 1033.64,800.00 1033.89,798.59 1034.15,797.03 1034.40,795.34 1034.66,793.56 1034.91,791.73 1035.16,789.88 1035.42,788.03 1035.67,786.22 1035.93,784.48 1036.18,782.73 1036.43,780.95 1036.69,779.17 1036.94,777.42 1037.20,775.72 1037.45,774.11 1037.70,772.60 1037.96,771.05 1038.21,769.46 1038.47,767.87 1038.72,766.32 1038.97,764.85 1039.23,763.49 1039.48,762.29 1039.74,761.29 1039.99,760.52 1040.24,760.01 1040.50,759.61 1040.75,759.25 1041.01,758.98 1041.26,758.83 1041.51,758.92 1041.77,759.64 1042.02,760.70 1042.28,761.65 1042.53,762.10 1042.79,761.85 1043.04,761.11 1043.29,759.96 1043.55,758.51 1043.80,756.61 1044.06,752.61 1044.31,747.52 1044.56,743.00 1044.82,739.01 1045.07,734.92 1045.33,731.02 1045.58,727.62 1045.83,725.00 1046.09,723.43 1046.34,722.31 1046.60,721.36 1046.85,720.55 1047.10,719.85 1047.36,719.24 1047.61,718.69 1047.87,718.19 1048.12,717.71 1048.37,717.30 1048.63,716.97 1048.88,716.68 1049.14,716.41 1049.39,716.14 1049.64,715.83 1049.90,715.45 1050.15,714.99 1050.41,714.41 1050.66,713.51 1050.92,712.28 1051.17,710.79 1051.42,709.08 1051.68,707.23 1051.93,705.28 1052.19,703.20 1052.44,700.39 1052.69,697.03 1052.95,693.47 1053.20,690.05 1053.46,687.10 1053.71,684.96 1053.96,683.84 1054.22,682.98 1054.47,682.25 1054.73,681.73 1054.98,681.48 1055.23,681.61 1055.49,682.22 1055.74,683.22 1056.00,684.49 1056.25,685.93 1056.50,687.44 1056.76,688.91 1057.01,690.23 1057.27,691.30 1057.52,692.00 1057.77,692.25 1058.03,692.11 1058.28,691.72 1058.54,691.11 1058.79,690.32 1059.05,689.35 1059.30,688.25 1059.55,687.03 1059.81,685.72 1060.06,684.34 1060.32,682.93 1060.57,681.51 1060.82,680.10 1061.08,678.73 1061.33,677.42 1061.59,676.21 1061.84,675.11 1062.09,674.16 1062.35,673.38 1062.60,672.78 1062.86,672.41 1063.11,672.29 1063.36,672.71 1063.62,673.81 1063.87,675.46 1064.13,677.49 1064.38,679.76 1064.63,682.11 1064.89,684.41 1065.14,686.49 1065.40,688.20 1065.65,689.40 1065.90,689.94 1066.16,689.61 1066.41,688.37 1066.67,686.48 1066.92,684.16 1067.18,681.66 1067.43,679.23 1067.68,677.10 1067.94,675.52 1068.19,674.73 1068.45,674.89 1068.70,675.75 1068.95,677.12 1069.21,678.80 1069.46,680.57 1069.72,682.24 1069.97,683.61 1070.22,684.47 1070.48,684.62 1070.73,684.00 1070.99,682.77 1071.24,681.18 1071.49,679.45 1071.75,677.79 1072.00,676.44 1072.26,675.63 1072.51,675.51 1072.76,675.75 1073.02,676.17 1073.27,676.69 1073.53,677.21 1073.78,677.65 1074.03,677.93 1074.29,677.90 1074.54,677.16 1074.80,675.79 1075.05,673.97 1075.31,671.90 1075.56,669.76 1075.81,667.75 1076.07,666.03 1076.32,664.36 1076.58,662.68 1076.83,660.99 1077.08,659.28 1077.34,657.56 1077.59,655.83 1077.85,654.09 1078.10,652.33" fill="none" stroke="#808080" stroke-width="5.6" stroke-linejoin="round" stroke-linecap="butt" />
<polyline clip-path="url(#clipd)" points="671.60,656.06 671.85,656.39 672.11,656.68 672.36,656.95 672.62,657.19 672.87,657.40 673.12,657.58 673.38,657.74 673.63,657.88 673.89,658.00 674.14,658.10 674.39,658.19 674.65,658.25 674.90,658.30 675.16,658.34 675.41,658.37 675.66,658.38 675.92,658.39 676.17,658.37 676.43,658.28 676.68,658.11 676.94,657.87 677.19,657.57 677.44,657.20 677.70,656.78 677.95,656.32 678.21,655.81 678.46,655.26 678.71,654.68 678.97,654.08 679.22,653.46 679.48,652.83 679.73,652.19 679.98,651.55 680.24,650.91 680.49,650.29 680.75,649.68 681.00,649.09 681.25,648.53 681.51,648.01 681.76,647.52 682.02,647.08 682.27,646.70 682.52,646.37 682.78,646.10 683.03,645.90 683.29,645.78 683.54,645.74 683.80,645.83 684.05,646.09 684.30,646.51 684.56,647.08 684.81,647.78 685.07,648.60 685.32,649.53 685.57,650.56 685.83,651.67 686.08,652.85 686.34,654.09 686.59,655.38 686.84,656.70 687.10,658.04 687.35,659.40 687.61,660.75 687.86,662.08 688.11,663.39 688.37,664.66 688.62,665.88 688.88,667.03 689.13,668.10 689.38,669.08 689.64,669.97 689.89,670.73 690.15,671.38 690.40,671.88 690.65,672.23 690.91,672.42 691.16,672.40 691.42,671.99 691.67,671.22 691.93,670.17 692.18,668.92 692.43,667.55 692.69,666.14 692.94,664.77 693.20,663.53 693.45,662.49 693.70,661.73 693.96,661.34 694.21,661.37 694.47,661.73 694.72,662.37 694.97,663.22 695.23,664.21 695.48,665.28 695.74,666.37 695.99,667.42 696.24,668.36 696.50,669.13 696.75,669.68 697.01,669.93 697.26,669.82 697.51,669.38 697.77,668.67 698.02,667.74 698.28,666.68 698.53,665.53 698.78,664.38 699.04,663.29 699.29,662.32 699.55,661.53 699.80,661.01 700.05,660.80 700.31,660.90 700.56,661.21 700.82,661.69 701.07,662.31 701.33,663.03 701.58,663.82 701.83,664.65 702.09,665.47 702.34,666.26 702.60,666.97 702.85,667.58 703.10,668.05 703.36,668.34 703.61,668.42 703.87,667.72 704.12,666.12 704.37,663.84 704.63,661.14 704.88,658.24 705.14,655.39 705.39,652.83 705.64,650.81 705.90,649.55 706.15,649.26 706.41,649.47 706.66,649.91 706.91,650.53 707.17,651.28 707.42,652.12 707.68,652.98 707.93,653.82 708.19,654.60 708.44,655.26 708.69,655.76 708.95,656.04 709.20,656.04 709.46,655.70 709.71,655.09 709.96,654.33 710.22,653.51 710.47,652.75 710.73,652.14 710.98,651.80 711.23,651.81 711.49,652.08 711.74,652.56 712.00,653.20 712.25,653.95 712.50,654.78 712.76,655.61 713.01,656.42 713.27,657.15 713.52,657.75 713.77,658.18 714.03,658.38 714.28,658.36 714.54,658.23 714.79,657.99 715.04,657.67 715.30,657.28 715.55,656.82 715.81,656.30 716.06,655.74 716.31,655.14 716.57,654.53 716.82,653.90 717.08,653.27 717.33,652.65 717.59,652.04 717.84,651.47 718.09,650.95 718.35,650.47 718.60,650.06 718.86,649.72 719.11,649.46 719.36,649.31 719.62,649.25 719.87,649.47 720.13,650.05 720.38,650.91 720.63,651.99 720.89,653.20 721.14,654.47 721.40,655.74 721.65,656.93 721.90,657.96 722.16,658.76 722.41,659.26 722.67,659.38 722.92,659.08 723.17,658.42 723.43,657.50 723.68,656.42 723.94,655.26 724.19,654.13 724.45,653.13 724.70,652.34 724.95,651.86 725.21,651.83 725.46,652.66 725.72,654.23 725.97,656.26 726.22,658.47 726.48,660.55 726.73,662.24 726.99,663.25 727.24,663.34 727.49,662.70 727.75,661.54 728.00,659.98 728.26,658.16 728.51,656.22 728.76,654.30 729.02,652.54 729.27,651.06 729.53,650.02 729.78,649.46 730.03,649.05 730.29,648.72 730.54,648.44 730.80,648.19 731.05,647.91 731.30,647.59 731.56,647.18 731.81,646.60 732.07,645.71 732.32,644.61 732.58,643.43 732.83,642.28 733.08,641.28 733.34,640.56 733.59,640.23 733.85,640.57 734.10,641.82 734.35,643.67 734.61,645.86 734.86,648.08 735.12,650.05 735.37,651.47 735.62,652.06 735.88,651.78 736.13,650.98 736.39,649.94 736.64,648.88 736.89,648.07 737.15,647.75 737.40,647.97 737.66,648.57 737.91,649.45 738.16,650.51 738.42,651.66 738.67,652.80 738.93,653.84 739.18,654.68 739.43,655.22 739.69,655.37 739.94,655.07 740.20,654.35 740.45,653.24 740.70,651.80 740.96,650.07 741.21,648.08 741.47,645.89 741.72,643.54 741.98,641.07 742.23,638.53 742.48,635.96 742.74,633.40 742.99,630.89 743.25,628.49 743.50,626.24 743.75,624.17 744.01,622.33 744.26,620.77 744.52,619.54 744.77,618.66 745.02,618.19 745.28,618.21 745.53,618.93 745.79,620.32 746.04,622.28 746.29,624.72 746.55,627.57 746.80,630.71 747.06,634.08 747.31,637.56 747.56,641.09 747.82,644.56 748.07,647.89 748.33,650.99 748.58,653.77 748.84,656.13 749.09,658.00 749.34,659.27 749.60,659.86 749.85,659.83 750.11,659.51 750.36,658.97 750.61,658.24 750.87,657.34 751.12,656.31 751.38,655.19 751.63,653.99 751.88,652.76 752.14,651.53 752.39,650.32 752.65,649.17 752.90,648.10 753.15,647.16 753.41,646.37 753.66,645.77 753.92,645.38 754.17,645.24 754.42,645.64 754.68,646.82 754.93,648.69 755.19,651.14 755.44,654.09 755.69,657.42 755.95,661.04 756.20,664.85 756.46,668.75 756.71,672.64 756.97,676.42 757.22,679.99 757.47,683.26 757.73,686.12 757.98,688.47 758.24,690.22 758.49,691.26 758.74,691.50 759.00,690.82 759.25,689.32 759.51,687.15 759.76,684.44 760.01,681.34 760.27,678.00 760.52,674.56 760.78,671.17 761.03,667.97 761.28,665.10 761.54,662.71 761.79,660.95 762.05,659.96 762.30,659.92 762.55,661.12 762.81,663.48 763.06,666.82 763.32,670.95 763.57,675.71 763.82,680.90 764.08,686.35 764.33,691.89 764.59,697.34 764.84,702.51 765.10,707.23 765.35,711.32 765.60,714.61 765.86,716.91 766.11,718.04 766.37,717.94 766.62,716.94 766.87,715.15 767.13,712.67 767.38,709.61 767.64,706.04 767.89,702.07 768.14,697.80 768.40,693.32 768.65,688.72 768.91,684.10 769.16,679.55 769.41,675.18 769.67,671.06 769.92,667.31 770.18,664.02 770.43,661.27 770.68,659.17 770.94,657.81 771.19,657.29 771.45,657.67 771.70,658.88 771.95,660.77 772.21,663.22 772.46,666.07 772.72,669.20 772.97,672.46 773.23,675.72 773.48,678.84 773.73,681.68 773.99,684.10 774.24,685.97 774.50,687.15 774.75,687.50 775.00,686.97 775.26,685.65 775.51,683.64 775.77,681.05 776.02,677.98 776.27,674.52 776.53,670.79 776.78,666.88 777.04,662.89 777.29,658.92 777.54,655.08 777.80,651.47 778.05,648.19 778.31,645.34 778.56,643.02 778.81,641.34 779.07,640.39 779.32,640.25 779.58,640.70 779.83,641.59 780.08,642.88 780.34,644.51 780.59,646.40 780.85,648.51 781.10,650.77 781.35,653.12 781.61,655.51 781.86,657.86 782.12,660.12 782.37,662.23 782.63,664.13 782.88,665.75 783.13,667.05 783.39,667.95 783.64,668.39 783.90,668.29 784.15,667.51 784.40,666.14 784.66,664.31 784.91,662.11 785.17,659.66 785.42,657.07 785.67,654.44 785.93,651.90 786.18,649.55 786.44,647.50 786.69,645.85 786.94,644.73 787.20,644.25 787.45,644.62 787.71,646.05 787.96,648.37 788.21,651.40 788.47,654.96 788.72,658.89 788.98,663.01 789.23,667.15 789.49,671.12 789.74,674.76 789.99,677.89 790.25,680.34 790.50,681.93 790.76,682.49 791.01,682.06 791.26,680.87 791.52,679.00 791.77,676.54 792.03,673.57 792.28,670.18 792.53,666.46 792.79,662.50 793.04,658.37 793.30,654.17 793.55,649.99 793.80,645.90 794.06,642.00 794.31,638.37 794.57,635.11 794.82,632.29 795.07,630.00 795.33,628.33 795.58,627.37 795.84,627.26 796.09,628.84 796.34,632.17 796.60,636.92 796.85,642.79 797.11,649.47 797.36,656.64 797.62,664.00 797.87,671.24 798.12,678.05 798.38,684.11 798.63,689.13 798.89,692.78 799.14,694.77 799.39,694.91 799.65,693.94 799.90,692.10 800.16,689.51 800.41,686.28 800.66,682.54 800.92,678.40 801.17,673.98 801.43,669.40 801.68,664.77 801.93,660.21 802.19,655.85 802.44,651.79 802.70,648.16 802.95,645.08 803.20,642.65 803.46,641.00 803.71,640.25 803.97,640.49 804.22,641.67 804.47,643.65 804.73,646.30 804.98,649.49 805.24,653.10 805.49,656.98 805.75,661.02 806.00,665.07 806.25,669.01 806.51,672.71 806.76,676.04 807.02,678.86 807.27,681.04 807.52,682.46 807.78,682.99 808.03,682.50 808.29,681.07 808.54,678.86 808.79,676.03 809.05,672.73 809.30,669.12 809.56,665.37 809.81,661.63 810.06,658.05 810.32,654.80 810.57,652.04 810.83,649.93 811.08,648.62 811.33,648.26 811.59,648.58 811.84,649.35 812.10,650.51 812.35,652.01 812.60,653.81 812.86,655.84 813.11,658.07 813.37,660.44 813.62,662.89 813.88,665.37 814.13,667.84 814.38,670.25 814.64,672.53 814.89,674.65 815.15,676.55 815.40,678.17 815.65,679.47 815.91,680.40 816.16,680.90 816.42,680.87 816.67,679.89 816.92,678.01 817.18,675.37 817.43,672.14 817.69,668.45 817.94,664.45 818.19,660.30 818.45,656.14 818.70,652.12 818.96,648.40 819.21,645.11 819.46,642.41 819.72,640.45 819.97,639.37 820.23,639.30 820.48,640.06 820.73,641.52 820.99,643.57 821.24,646.12 821.50,649.06 821.75,652.29 822.00,655.71 822.26,659.21 822.51,662.69 822.77,666.05 823.02,669.19 823.28,672.00 823.53,674.39 823.78,676.25 824.04,677.47 824.29,677.96 824.55,677.63 824.80,676.48 825.05,674.63 825.31,672.15 825.56,669.13 825.82,665.67 826.07,661.85 826.32,657.76 826.58,653.50 826.83,649.16 827.09,644.81 827.34,640.56 827.59,636.49 827.85,632.69 828.10,629.26 828.36,626.28 828.61,623.83 828.86,622.02 829.12,620.93 829.37,620.66 829.63,621.40 829.88,623.14 830.13,625.72 830.39,628.99 830.64,632.81 830.90,637.04 831.15,641.51 831.41,646.10 831.66,650.64 831.91,654.99 832.17,659.00 832.42,662.53 832.68,665.42 832.93,667.54 833.18,668.73 833.44,668.78 833.69,667.17 833.95,664.05 834.20,659.77 834.45,654.66 834.71,649.04 834.96,643.25 835.22,637.62 835.47,632.48 835.72,628.16 835.98,625.00 836.23,623.33 836.49,623.27 836.74,624.05 836.99,625.48 837.25,627.49 837.50,629.99 837.76,632.91 838.01,636.17 838.27,639.68 838.52,643.38 838.77,647.18 839.03,651.00 839.28,654.76 839.54,658.39 839.79,661.81 840.04,664.94 840.30,667.70 840.55,670.00 840.81,671.78 841.06,672.95 841.31,673.44 841.57,673.06 841.82,671.66 842.08,669.39 842.33,666.39 842.58,662.80 842.84,658.78 843.09,654.46 843.35,649.99 843.60,645.52 843.85,641.18 844.11,637.12 844.36,633.50 844.62,630.45 844.87,628.11 845.12,626.63 845.38,626.16 845.63,626.89 845.89,628.77 846.14,631.63 846.39,635.31 846.65,639.63 846.90,644.43 847.16,649.54 847.41,654.78 847.67,660.00 847.92,665.01 848.17,669.66 848.43,673.76 848.68,677.16 848.94,679.68 849.19,681.16 849.44,681.43 849.70,680.44 849.95,678.35 850.21,675.29 850.46,671.41 850.71,666.85 850.97,661.78 851.22,656.32 851.48,650.63 851.73,644.86 851.98,639.15 852.24,633.65 852.49,628.50 852.75,623.86 853.00,619.86 853.25,616.66 853.51,614.41 853.76,613.24 854.02,613.32 854.27,614.73 854.52,617.29 854.78,620.81 855.03,625.10 855.29,629.96 855.54,635.21 855.80,640.64 856.05,646.07 856.30,651.30 856.56,656.13 856.81,660.39 857.07,663.87 857.32,666.37 857.57,667.72 857.83,667.76 858.08,666.80 858.34,665.00 858.59,662.48 858.84,659.38 859.10,655.82 859.35,651.93 859.61,647.83 859.86,643.66 860.11,639.54 860.37,635.59 860.62,631.94 860.88,628.73 861.13,626.07 861.38,624.09 861.64,622.93 861.89,622.71 862.15,623.61 862.40,625.51 862.65,628.23 862.91,631.61 863.16,635.45 863.42,639.57 863.67,643.79 863.93,647.94 864.18,651.83 864.43,655.28 864.69,658.11 864.94,660.13 865.20,661.18 865.45,661.14 865.70,660.33 865.96,658.86 866.21,656.81 866.47,654.28 866.72,651.34 866.97,648.08 867.23,644.59 867.48,640.94 867.74,637.24 867.99,633.56 868.24,629.98 868.50,626.60 868.75,623.50 869.01,620.76 869.26,618.47 869.51,616.71 869.77,615.57 870.02,615.14 870.28,615.75 870.53,617.67 870.78,620.71 871.04,624.71 871.29,629.49 871.55,634.87 871.80,640.69 872.06,646.75 872.31,652.90 872.56,658.95 872.82,664.73 873.07,670.06 873.33,674.77 873.58,678.69 873.83,681.63 874.09,683.43 874.34,683.91 874.60,683.09 874.85,681.17 875.10,678.29 875.36,674.61 875.61,670.28 875.87,665.46 876.12,660.30 876.37,654.95 876.63,649.57 876.88,644.31 877.14,639.32 877.39,634.76 877.64,630.79 877.90,627.55 878.15,625.20 878.41,623.89 878.66,623.81 878.91,625.26 879.17,628.08 879.42,632.06 879.68,636.95 879.93,642.53 880.19,648.56 880.44,654.82 880.69,661.06 880.95,667.06 881.20,672.59 881.46,677.42 881.71,681.30 881.96,684.02 882.22,685.34 882.47,685.19 882.73,684.03 882.98,682.01 883.23,679.24 883.49,675.85 883.74,671.94 884.00,667.65 884.25,663.08 884.50,658.36 884.76,653.59 885.01,648.91 885.27,644.42 885.52,640.25 885.77,636.52 886.03,633.33 886.28,630.81 886.54,629.07 886.79,628.24 887.04,628.53 887.30,630.21 887.55,633.07 887.81,636.88 888.06,641.41 888.32,646.42 888.57,651.68 888.82,656.96 889.08,662.02 889.33,666.63 889.59,670.55 889.84,673.56 890.09,675.41 890.35,675.89 890.60,675.37 890.86,674.17 891.11,672.38 891.36,670.10 891.62,667.42 891.87,664.43 892.13,661.23 892.38,657.92 892.63,654.57 892.89,651.30 893.14,648.20 893.40,645.35 893.65,642.85 893.90,640.80 894.16,639.29 894.41,638.41 894.67,638.26 894.92,638.76 895.17,639.81 895.43,641.35 895.68,643.31 895.94,645.62 896.19,648.20 896.45,651.00 896.70,653.93 896.95,656.92 897.21,659.92 897.46,662.84 897.72,665.62 897.97,668.19 898.22,670.47 898.48,672.41 898.73,673.92 898.99,674.93 899.24,675.39 899.49,675.14 899.75,674.06 900.00,672.26 900.26,669.86 900.51,667.00 900.76,663.80 901.02,660.37 901.27,656.86 901.53,653.38 901.78,650.06 902.03,647.03 902.29,644.41 902.54,642.32 902.80,640.90 903.05,640.26 903.30,640.64 903.56,642.25 903.81,644.90 904.07,648.41 904.32,652.58 904.58,657.22 904.83,662.14 905.08,667.16 905.34,672.08 905.59,676.71 905.85,680.86 906.10,684.35 906.35,686.97 906.61,688.55 906.86,688.91 907.12,688.31 907.37,687.00 907.62,685.06 907.88,682.61 908.13,679.73 908.39,676.52 908.64,673.10 908.89,669.54 909.15,665.96 909.40,662.46 909.66,659.13 909.91,656.06 910.16,653.37 910.42,651.15 910.67,649.50 910.93,648.51 911.18,648.29 911.43,648.76 911.69,649.81 911.94,651.38 912.20,653.39 912.45,655.77 912.71,658.45 912.96,661.35 913.21,664.41 913.47,667.56 913.72,670.71 913.98,673.81 914.23,676.78 914.48,679.54 914.74,682.03 914.99,684.18 915.25,685.91 915.50,687.15 915.75,687.82 916.01,687.75 916.26,686.01 916.52,682.65 916.77,677.99 917.02,672.32 917.28,665.94 917.53,659.16 917.79,652.28 918.04,645.59 918.29,639.41 918.55,634.02 918.80,629.74 919.06,626.86 919.31,625.69 919.57,625.92 919.82,626.75 920.07,628.09 920.33,629.88 920.58,632.06 920.84,634.57 921.09,637.34 921.34,640.30 921.60,643.40 921.85,646.56 922.11,649.73 922.36,652.84 922.61,655.83 922.87,658.63 923.12,661.18 923.38,663.41 923.63,665.26 923.88,666.67 924.14,667.56 924.39,667.89 924.65,667.48 924.90,666.26 925.15,664.36 925.41,661.91 925.66,659.04 925.92,655.86 926.17,652.50 926.42,649.09 926.68,645.75 926.93,642.60 927.19,639.78 927.44,637.41 927.69,635.61 927.95,634.51 928.20,634.24 928.46,635.19 928.71,637.38 928.97,640.60 929.22,644.64 929.47,649.30 929.73,654.37 929.98,659.64 930.24,664.91 930.49,669.97 930.74,674.61 931.00,678.63 931.25,681.83 931.51,683.99 931.76,684.91 932.01,684.54 932.27,683.15 932.52,680.89 932.78,677.90 933.03,674.30 933.28,670.23 933.54,665.85 933.79,661.27 934.05,656.65 934.30,652.11 934.55,647.79 934.81,643.84 935.06,640.39 935.32,637.57 935.57,635.53 935.82,634.40 936.08,634.36 936.33,635.86 936.59,638.75 936.84,642.77 937.10,647.68 937.35,653.23 937.60,659.16 937.86,665.23 938.11,671.17 938.37,676.74 938.62,681.68 938.87,685.75 939.13,688.69 939.38,690.25 939.64,690.27 939.89,689.11 940.14,686.95 940.40,683.93 940.65,680.17 940.91,675.80 941.16,670.96 941.41,665.77 941.67,660.36 941.92,654.85 942.18,649.39 942.43,644.10 942.68,639.11 942.94,634.54 943.19,630.54 943.45,627.22 943.70,624.71 943.95,623.15 944.21,622.67 944.46,623.78 944.72,626.56 944.97,630.73 945.23,635.98 945.48,642.02 945.73,648.55 945.99,655.26 946.24,661.87 946.50,668.07 946.75,673.56 947.00,678.04 947.26,681.23 947.51,682.80 947.77,682.88 948.02,682.63 948.27,682.19 948.53,681.58 948.78,680.80 949.04,679.88 949.29,678.83 949.54,677.68 949.80,676.43 950.05,675.11 950.31,673.73 950.56,672.32 950.81,670.88 951.07,669.43 951.32,667.99 951.58,666.58 951.83,665.22 952.08,663.92 952.34,662.70 952.59,661.58 952.85,660.57 953.10,659.69 953.36,658.95 953.61,658.39 953.86,658.01 954.12,657.82 954.37,657.95 954.63,658.69 954.88,659.96 955.13,661.66 955.39,663.69 955.64,665.93 955.90,668.28 956.15,670.64 956.40,672.89 956.66,674.94 956.91,676.66 957.17,677.97 957.42,678.74 957.67,678.89 957.93,678.50 958.18,677.67 958.44,676.42 958.69,674.82 958.94,672.91 959.20,670.73 959.45,668.33 959.71,665.76 959.96,663.05 960.22,660.27 960.47,657.45 960.72,654.64 960.98,651.89 961.23,649.23 961.49,646.73 961.74,644.42 961.99,642.35 962.25,640.57 962.50,639.12 962.76,638.05 963.01,637.41 963.26,637.23 963.52,637.53 963.77,638.27 964.03,639.38 964.28,640.81 964.53,642.51 964.79,644.43 965.04,646.51 965.30,648.70 965.55,650.94 965.80,653.19 966.06,655.39 966.31,657.48 966.57,659.42 966.82,661.14 967.07,662.60 967.33,663.75 967.58,664.52 967.84,664.87 968.09,664.52 968.35,663.01 968.60,660.51 968.85,657.24 969.11,653.39 969.36,649.16 969.62,644.77 969.87,640.41 970.12,636.29 970.38,632.61 970.63,629.59 970.89,627.41 971.14,626.29 971.39,626.24 971.65,626.57 971.90,627.18 972.16,628.04 972.41,629.11 972.66,630.37 972.92,631.77 973.17,633.30 973.43,634.92 973.68,636.60 973.93,638.31 974.19,640.01 974.44,641.69 974.70,643.30 974.95,644.82 975.20,646.21 975.46,647.44 975.71,648.49 975.97,649.33 976.22,649.91 976.47,650.22 976.73,650.23 976.98,650.02 977.24,649.63 977.49,649.09 977.75,648.44 978.00,647.72 978.25,646.94 978.51,646.16 978.76,645.39 979.02,644.67 979.27,644.04 979.52,643.52 979.78,643.16 980.03,642.98 980.29,643.00 980.54,643.16 980.79,643.45 981.05,643.85 981.30,644.34 981.56,644.91 981.81,645.56 982.06,646.25 982.32,646.98 982.57,647.74 982.83,648.50 983.08,649.26 983.33,650.00 983.59,650.70 983.84,651.35 984.10,651.94 984.35,652.49 984.60,653.06 984.86,653.65 985.11,654.26 985.37,654.87 985.62,655.49 985.88,656.11 986.13,656.72 986.38,657.32 986.64,657.91 986.89,658.49 987.15,659.04 987.40,659.56 987.65,660.05 987.91,660.51 988.16,660.92 988.42,661.29 988.67,661.60 988.92,661.87 989.18,662.07 989.43,662.24 989.69,662.38 989.94,662.51 990.19,662.61 990.45,662.71 990.70,662.79 990.96,662.87 991.21,662.94 991.46,663.02 991.72,663.09 991.97,663.17 992.23,663.26 992.48,663.36 992.73,663.47 992.99,663.60 993.24,663.76 993.50,663.93 993.75,664.16 994.01,664.63 994.26,665.34 994.51,666.23 994.77,667.24 995.02,668.32 995.28,669.41 995.53,670.46 995.78,671.40 996.04,672.19 996.29,672.76 996.55,673.06 996.80,673.08 997.05,673.02 997.31,672.90 997.56,672.75 997.82,672.57 998.07,672.37 998.32,672.16 998.58,671.94 998.83,671.73 999.09,671.53 999.34,671.36 999.59,671.22 999.85,671.13 1000.10,671.08 1000.36,671.11 1000.61,671.24 1000.87,671.45 1001.12,671.74 1001.37,672.09 1001.63,672.50 1001.88,672.95 1002.14,673.43 1002.39,673.94 1002.64,674.45 1002.90,674.96 1003.15,675.46 1003.41,675.93 1003.66,676.37 1003.91,676.77 1004.17,677.10 1004.42,677.39 1004.68,677.64 1004.93,677.87 1005.18,678.08 1005.44,678.27 1005.69,678.45 1005.95,678.63 1006.20,678.82 1006.45,679.01 1006.71,679.23 1006.96,679.46 1007.22,679.73 1007.47,680.03 1007.72,680.38 1007.98,680.78 1008.23,681.24 1008.49,682.16 1008.74,683.56 1008.99,685.27 1009.25,687.11 1009.50,688.91 1009.76,690.49 1010.01,691.68 1010.27,692.34 1010.52,692.83 1010.77,693.30 1011.03,693.74 1011.28,694.15 1011.54,694.53 1011.79,694.88 1012.04,695.19 1012.30,695.46 1012.55,695.69 1012.81,695.88 1013.06,696.03 1013.31,696.13 1013.57,696.18 1013.82,696.17 1014.08,696.07 1014.33,695.89 1014.58,695.63 1014.84,695.29 1015.09,694.90 1015.35,694.44 1015.60,693.94 1015.85,693.40 1016.11,692.82 1016.36,692.22 1016.62,691.60 1016.87,690.97 1017.12,690.33 1017.38,689.61 1017.63,688.61 1017.89,687.38 1018.14,685.98 1018.40,684.49 1018.65,682.98 1018.90,681.51 1019.16,680.14 1019.41,678.95 1019.67,678.00 1019.92,677.37 1020.17,677.11 1020.43,677.13 1020.68,677.22 1020.94,677.37 1021.19,677.57 1021.44,677.79 1021.70,678.05 1021.95,678.33 1022.21,678.61 1022.46,678.90 1022.71,679.17 1022.97,679.43 1023.22,679.66 1023.48,679.85 1023.73,680.00 1023.98,680.09 1024.24,680.11 1024.49,679.76 1024.75,678.93 1025.00,677.70 1025.26,676.19 1025.51,674.50 1025.76,672.73 1026.02,670.97 1026.27,669.34 1026.53,667.94 1026.78,666.86 1027.03,666.21 1027.29,666.07 1027.54,666.19 1027.80,666.45 1028.05,666.82 1028.30,667.26 1028.56,667.75 1028.81,668.26 1029.07,668.75 1029.32,669.21 1029.57,669.60 1029.83,669.89 1030.08,670.05 1030.34,670.05 1030.59,669.87 1030.84,669.53 1031.10,669.08 1031.35,668.57 1031.61,668.04 1031.86,667.53 1032.11,667.09 1032.37,666.76 1032.62,666.58 1032.88,666.73 1033.13,667.65 1033.38,669.23 1033.64,671.26 1033.89,673.55 1034.15,675.91 1034.40,678.14 1034.66,680.04 1034.91,681.42 1035.16,682.09 1035.42,681.95 1035.67,681.22 1035.93,680.05 1036.18,678.57 1036.43,676.93 1036.69,675.26 1036.94,673.70 1037.20,672.40 1037.45,671.48 1037.70,671.09 1037.96,671.31 1038.21,672.06 1038.47,673.24 1038.72,674.74 1038.97,676.46 1039.23,678.29 1039.48,680.12 1039.74,681.85 1039.99,683.37 1040.24,684.58 1040.50,685.37 1040.75,685.64 1041.01,685.45 1041.26,684.96 1041.51,684.21 1041.77,683.25 1042.02,682.11 1042.28,680.86 1042.53,679.53 1042.79,678.17 1043.04,676.83 1043.29,675.54 1043.55,674.37 1043.80,673.36 1044.06,672.54 1044.31,671.97 1044.56,671.53 1044.82,671.16 1045.07,670.85 1045.33,670.57 1045.58,670.31 1045.83,670.06 1046.09,669.81 1046.34,669.52 1046.60,669.20 1046.85,668.82 1047.10,668.37 1047.36,667.81 1047.61,666.86 1047.87,665.52 1048.12,663.86 1048.37,661.94 1048.63,659.83 1048.88,657.59 1049.14,655.30 1049.39,653.00 1049.64,650.78 1049.90,648.68 1050.15,646.79 1050.41,645.16 1050.66,643.86 1050.92,642.95 1051.17,642.50 1051.42,642.57 1051.68,643.11 1051.93,644.06 1052.19,645.34 1052.44,646.87 1052.69,648.58 1052.95,650.41 1053.20,652.26 1053.46,654.08 1053.71,655.79 1053.96,657.30 1054.22,658.56 1054.47,659.48 1054.73,659.99 1054.98,660.20 1055.23,660.39 1055.49,660.56 1055.74,660.72 1056.00,660.87 1056.25,661.01 1056.50,661.13 1056.76,661.23 1057.01,661.33 1057.27,661.40 1057.52,661.46 1057.77,661.51 1058.03,661.53 1058.28,661.54 1058.54,661.40 1058.79,661.03 1059.05,660.48 1059.30,659.79 1059.55,659.01 1059.81,658.19 1060.06,657.37 1060.32,656.61 1060.57,655.94 1060.82,655.43 1061.08,655.10 1061.33,655.02 1061.59,655.22 1061.84,655.65 1062.09,656.28 1062.35,657.04 1062.60,657.89 1062.86,658.78 1063.11,659.65 1063.36,660.46 1063.62,661.15 1063.87,661.68 1064.13,661.99 1064.38,662.03 1064.63,661.81 1064.89,661.38 1065.14,660.77 1065.40,660.03 1065.65,659.18 1065.90,658.28 1066.16,657.35 1066.41,656.44 1066.67,655.59 1066.92,654.84 1067.18,654.22 1067.43,653.77 1067.68,653.54 1067.94,653.55 1068.19,653.82 1068.45,654.32 1068.70,655.02 1068.95,655.88 1069.21,656.89 1069.46,658.02 1069.72,659.23 1069.97,660.51 1070.22,661.81 1070.48,663.12 1070.73,664.40 1070.99,665.63 1071.24,666.78 1071.49,667.82 1071.75,668.72 1072.00,669.45 1072.26,670.00 1072.51,670.40 1072.76,670.78 1073.02,671.16 1073.27,671.53 1073.53,671.89 1073.78,672.23 1074.03,672.55 1074.29,672.84 1074.54,673.12 1074.80,673.36 1075.05,673.57 1075.31,673.75 1075.56,673.90 1075.81,674.01 1076.07,674.07 1076.32,674.09 1076.58,673.97 1076.83,673.63 1077.08,673.13 1077.34,672.49 1077.59,671.75 1077.85,670.95 1078.10,670.13" fill="none" stroke="#d62728" stroke-width="5.6" stroke-linejoin="round" stroke-linecap="butt" />
<rect x="671.60" y="523.80" width="406.50" height="394.70" fill="none" stroke="#000" stroke-width="2.9"/>
<line x1="671.60" y1="918.50" x2="671.60" y2="925.10" stroke="#000" stroke-width="2.0"/>
<text x="671.60" y="950.90" font-family="'DejaVu Sans','Liberation Sans',sans-serif" font-size="25" text-anchor="middle" fill="#000" >20</text>
<line x1="773.23" y1="918.50" x2="773.23" y2="925.10" stroke="#000" stroke-width="2.0"/>
<text x="773.23" y="950.90" font-family="'DejaVu Sans','Liberation Sans',sans-serif" font-size="25" text-anchor="middle" fill="#000" >25</text>
<line x1="874.85" y1="918.50" x2="874.85" y2="925.10" stroke="#000" stroke-width="2.0"/>
<text x="874.85" y="950.90" font-family="'DejaVu Sans','Liberation Sans',sans-serif" font-size="25" text-anchor="middle" fill="#000" >30</text>
<line x1="976.47" y1="918.50" x2="976.47" y2="925.10" stroke="#000" stroke-width="2.0"/>
<text x="976.47" y="950.90" font-family="'DejaVu Sans','Liberation Sans',sans-serif" font-size="25" text-anchor="middle" fill="#000" >35</text>
<line x1="1078.10" y1="918.50" x2="1078.10" y2="925.10" stroke="#000" stroke-width="2.0"/>
<text x="1078.10" y="950.90" font-family="'DejaVu Sans','Liberation Sans',sans-serif" font-size="25" text-anchor="middle" fill="#000" >40</text>
<line x1="665.00" y1="523.80" x2="671.60" y2="523.80" stroke="#000" stroke-width="2.0"/>
<text x="658.30" y="532.91" font-family="'DejaVu Sans','Liberation Sans',sans-serif" font-size="25" text-anchor="end" fill="#000" >2</text>
<line x1="665.00" y1="584.52" x2="671.60" y2="584.52" stroke="#000" stroke-width="2.0"/>
<text x="658.30" y="593.64" font-family="'DejaVu Sans','Liberation Sans',sans-serif" font-size="25" text-anchor="end" fill="#000" >1</text>
<line x1="665.00" y1="645.25" x2="671.60" y2="645.25" stroke="#000" stroke-width="2.0"/>
<text x="658.30" y="654.36" font-family="'DejaVu Sans','Liberation Sans',sans-serif" font-size="25" text-anchor="end" fill="#000" >0</text>
<line x1="665.00" y1="705.97" x2="671.60" y2="705.97" stroke="#000" stroke-width="2.0"/>
<text x="658.30" y="715.08" font-family="'DejaVu Sans','Liberation Sans',sans-serif" font-size="25" text-anchor="end" fill="#000" >−1</text>
<line x1="665.00" y1="766.69" x2="671.60" y2="766.69" stroke="#000" stroke-width="2.0"/>
<text x="658.30" y="775.80" font-family="'DejaVu Sans','Liberation Sans',sans-serif" font-size="25" text-anchor="end" fill="#000" >−2</text>
<line x1="665.00" y1="827.42" x2="671.60" y2="827.42" stroke="#000" stroke-width="2.0"/>
<text x="658.30" y="836.53" font-family="'DejaVu Sans','Liberation Sans',sans-serif" font-size="25" text-anchor="end" fill="#000" >−3</text>
<line x1="665.00" y1="888.14" x2="671.60" y2="888.14" stroke="#000" stroke-width="2.0"/>
<text x="658.30" y="897.25" font-family="'DejaVu Sans','Liberation Sans',sans-serif" font-size="25" text-anchor="end" fill="#000" >−4</text>
<text x="876.00" y="988.20" font-family="'DejaVu Sans','Liberation Sans',sans-serif" font-size="29.5" text-anchor="middle" fill="#000" letter-spacing="0.6">Time [µs]</text>
<text transform="translate(608.50,721.50) rotate(-90)" font-family="'DejaVu Sans','Liberation Sans',sans-serif" font-size="28.8" text-anchor="middle" fill="#000" >Amplitude [mV]</text>
<line x1="697.6" y1="851.7" x2="737.6" y2="851.7" stroke="#808080" stroke-width="5.6"/>
<text x="748.60" y="863.10" font-family="'DejaVu Sans','Liberation Sans',sans-serif" font-size="36.4" text-anchor="start" fill="#808080" letter-spacing="0.6">Water</text>
<line x1="697.6" y1="886.2" x2="737.6" y2="886.2" stroke="#d62728" stroke-width="5.6" stroke-dasharray="13.6 14"/>
<text x="747.80" y="897.20" font-family="'DejaVu Sans','Liberation Sans',sans-serif" font-size="36.4" text-anchor="start" fill="#d62728" letter-spacing="0.6">India ink</text>
<text x="581.60" y="974.00" font-family="'Liberation Sans','DejaVu Sans',sans-serif" font-size="52" text-anchor="start" fill="#000" font-weight="bold">d)</text>
<g clip-path="url(#clipe)">
<path d="M1393.9 828.5V844.5M1430.1 815.0V859.0M1484.5 816.0V836.0M1541.4 784.9V856.9M1615.8 767.7V823.7M1701.9 731.5V837.5M1828.8 577.0V773.0M1959.2 772.1V835.5" stroke="#000" stroke-width="5.6" fill="none"/>
<path d="M1393.9 815.1V855.1M1430.1 804.7V854.1M1484.5 808.9V849.9M1538.9 799.7V849.7M1611.3 746.6V826.6M1701.9 690.8V796.0M1828.8 675.2V829.2M1959.2 595.8V839.8" stroke="#1f77b4" stroke-width="5.6" fill="none"/>
<path d="M1393.9 821.9V857.9M1430.1 811.7V851.7M1484.5 772.2V818.2M1538.9 705.8V765.8M1611.3 623.0V750.2M1701.9 664.4V752.4M1828.8 751.5V812.5M1959.2 555.7V673.1" stroke="#ff7f0e" stroke-width="5.6" fill="none"/>
<path d="M1393.9 852.0V864.0M1430.1 851.0V863.0M1484.5 845.3V859.3M1538.9 819.1V851.1M1611.3 798.5V833.5M1701.9 807.4V839.4M1828.8 837.2V853.2M1959.2 804.8V844.8" stroke="#d62728" stroke-width="5.6" fill="none"/>
<path d="M1386.4 828.5h15M1386.4 844.5h15M1422.6 815.0h15M1422.6 859.0h15M1477.0 816.0h15M1477.0 836.0h15M1533.9 784.9h15M1533.9 856.9h15M1608.3 767.7h15M1608.3 823.7h15M1694.4 731.5h15M1694.4 837.5h15M1821.3 577.0h15M1821.3 773.0h15M1951.7 772.1h15M1951.7 835.5h15" stroke="#000" stroke-width="3.6" fill="none"/>
<path d="M1386.4 815.1h15M1386.4 855.1h15M1422.6 804.7h15M1422.6 854.1h15M1477.0 808.9h15M1477.0 849.9h15M1531.4 799.7h15M1531.4 849.7h15M1603.8 746.6h15M1603.8 826.6h15M1694.4 690.8h15M1694.4 796.0h15M1821.3 675.2h15M1821.3 829.2h15M1951.7 595.8h15M1951.7 839.8h15" stroke="#1f77b4" stroke-width="3.6" fill="none"/>
<path d="M1386.4 821.9h15M1386.4 857.9h15M1422.6 811.7h15M1422.6 851.7h15M1477.0 772.2h15M1477.0 818.2h15M1531.4 705.8h15M1531.4 765.8h15M1603.8 623.0h15M1603.8 750.2h15M1694.4 664.4h15M1694.4 752.4h15M1821.3 751.5h15M1821.3 812.5h15M1951.7 555.7h15M1951.7 673.1h15" stroke="#ff7f0e" stroke-width="3.6" fill="none"/>
<path d="M1386.4 852.0h15M1386.4 864.0h15M1422.6 851.0h15M1422.6 863.0h15M1477.0 845.3h15M1477.0 859.3h15M1531.4 819.1h15M1531.4 851.1h15M1603.8 798.5h15M1603.8 833.5h15M1694.4 807.4h15M1694.4 839.4h15M1821.3 837.2h15M1821.3 853.2h15M1951.7 804.8h15M1951.7 844.8h15" stroke="#d62728" stroke-width="3.6" fill="none"/>
<polyline points="1393.9,836.5 1430.1,837.0 1484.5,826.0 1541.4,820.9 1615.8,795.7 1701.9,784.5 1828.8,675.0 1959.2,803.8" fill="none" stroke="#000" stroke-width="5.6" stroke-dasharray="5.6 9.24"/>
<rect x="1381.1" y="823.6" width="25.7" height="25.7" fill="#000"/>
<rect x="1417.2" y="824.1" width="25.7" height="25.7" fill="#000"/>
<rect x="1471.7" y="813.1" width="25.7" height="25.7" fill="#000"/>
<rect x="1528.6" y="808.0" width="25.7" height="25.7" fill="#000"/>
<rect x="1603.0" y="782.9" width="25.7" height="25.7" fill="#000"/>
<rect x="1689.1" y="771.6" width="25.7" height="25.7" fill="#000"/>
<rect x="1816.0" y="662.1" width="25.7" height="25.7" fill="#000"/>
<rect x="1946.4" y="790.9" width="25.7" height="25.7" fill="#000"/>
<polyline points="1393.9,835.1 1430.1,829.4 1484.5,829.4 1538.9,824.7 1611.3,786.6 1701.9,743.4 1828.8,752.2 1959.2,717.8" fill="none" stroke="#1f77b4" stroke-width="5.6" stroke-dasharray="5.6 9.24"/>
<circle cx="1393.9" cy="835.1" r="12.9" fill="#1f77b4"/>
<circle cx="1430.1" cy="829.4" r="12.9" fill="#1f77b4"/>
<circle cx="1484.5" cy="829.4" r="12.9" fill="#1f77b4"/>
<circle cx="1538.9" cy="824.7" r="12.9" fill="#1f77b4"/>
<circle cx="1611.3" cy="786.6" r="12.9" fill="#1f77b4"/>
<circle cx="1701.9" cy="743.4" r="12.9" fill="#1f77b4"/>
<circle cx="1828.8" cy="752.2" r="12.9" fill="#1f77b4"/>
<circle cx="1959.2" cy="717.8" r="12.9" fill="#1f77b4"/>
<polyline points="1393.9,839.9 1430.1,831.7 1484.5,795.2 1538.9,735.8 1611.3,686.6 1701.9,708.4 1828.8,782.0 1959.2,614.4" fill="none" stroke="#ff7f0e" stroke-width="5.6" stroke-dasharray="5.6 9.24"/>
<path d="M1380.1 839.9L1407.7 826.1V853.7Z" fill="#ff7f0e"/>
<path d="M1416.3 831.7L1443.9 817.9V845.5Z" fill="#ff7f0e"/>
<path d="M1470.7 795.2L1498.3 781.4V809.0Z" fill="#ff7f0e"/>
<path d="M1525.1 735.8L1552.7 722.0V749.6Z" fill="#ff7f0e"/>
<path d="M1597.5 686.6L1625.1 672.8V700.4Z" fill="#ff7f0e"/>
<path d="M1688.1 708.4L1715.7 694.6V722.2Z" fill="#ff7f0e"/>
<path d="M1815.0 782.0L1842.6 768.2V795.8Z" fill="#ff7f0e"/>
<path d="M1945.4 614.4L1973.0 600.6V628.2Z" fill="#ff7f0e"/>
<polyline points="1393.9,858.0 1430.1,857.0 1484.5,852.3 1538.9,835.1 1611.3,816.0 1701.9,823.4 1828.8,845.2 1959.2,824.8" fill="none" stroke="#d62728" stroke-width="5.6" stroke-dasharray="5.6 9.24"/>
<path d="M1393.9 839.5L1404.9 858.0L1393.9 876.5L1382.9 858.0Z" fill="#d62728"/>
<path d="M1430.1 838.5L1441.1 857.0L1430.1 875.5L1419.1 857.0Z" fill="#d62728"/>
<path d="M1484.5 833.8L1495.5 852.3L1484.5 870.8L1473.5 852.3Z" fill="#d62728"/>
<path d="M1538.9 816.6L1549.9 835.1L1538.9 853.6L1527.9 835.1Z" fill="#d62728"/>
<path d="M1611.3 797.5L1622.3 816.0L1611.3 834.5L1600.3 816.0Z" fill="#d62728"/>
<path d="M1701.9 804.9L1712.9 823.4L1701.9 841.9L1690.9 823.4Z" fill="#d62728"/>
<path d="M1828.8 826.7L1839.8 845.2L1828.8 863.7L1817.8 845.2Z" fill="#d62728"/>
<path d="M1959.2 806.3L1970.2 824.8L1959.2 843.3L1948.2 824.8Z" fill="#d62728"/>
</g>
<rect x="1365.40" y="539.60" width="621.50" height="343.80" fill="none" stroke="#000" stroke-width="3.2"/>
<line x1="1484.45" y1="883.40" x2="1484.45" y2="896.40" stroke="#000" stroke-width="3"/>
<text x="1484.45" y="936.40" font-family="'Liberation Sans','DejaVu Sans',sans-serif" font-size="32" text-anchor="middle" fill="#000" letter-spacing="5.5">400</text>
<line x1="1665.64" y1="883.40" x2="1665.64" y2="896.40" stroke="#000" stroke-width="3"/>
<text x="1665.64" y="936.40" font-family="'Liberation Sans','DejaVu Sans',sans-serif" font-size="32" text-anchor="middle" fill="#000" letter-spacing="5.5">500</text>
<line x1="1846.84" y1="883.40" x2="1846.84" y2="896.40" stroke="#000" stroke-width="3"/>
<text x="1846.84" y="936.40" font-family="'Liberation Sans','DejaVu Sans',sans-serif" font-size="32" text-anchor="middle" fill="#000" letter-spacing="5.5">600</text>
<line x1="1352.40" y1="622.70" x2="1365.40" y2="622.70" stroke="#000" stroke-width="3"/>
<text x="1337.90" y="636.20" font-family="'Liberation Sans','DejaVu Sans',sans-serif" font-size="32" text-anchor="end" fill="#000" letter-spacing="5.5">750</text>
<line x1="1352.40" y1="712.80" x2="1365.40" y2="712.80" stroke="#000" stroke-width="3"/>
<text x="1337.90" y="726.30" font-family="'Liberation Sans','DejaVu Sans',sans-serif" font-size="32" text-anchor="end" fill="#000" letter-spacing="5.5">500</text>
<line x1="1352.40" y1="802.90" x2="1365.40" y2="802.90" stroke="#000" stroke-width="3"/>
<text x="1337.90" y="816.40" font-family="'Liberation Sans','DejaVu Sans',sans-serif" font-size="32" text-anchor="end" fill="#000" letter-spacing="5.5">250</text>
<text x="1646.70" y="986.00" font-family="'Liberation Sans','DejaVu Sans',sans-serif" font-size="37.4" text-anchor="middle" fill="#000" >Pulse period [ns]</text>
<text transform="translate(1248.00,712.00) rotate(-90)" font-family="'Liberation Sans','DejaVu Sans',sans-serif" font-size="37.5" text-anchor="middle" fill="#000" >Amplitude [a.u]</text>
<text x="1193.00" y="972.80" font-family="'Liberation Sans','DejaVu Sans',sans-serif" font-size="53" text-anchor="start" fill="#000" font-weight="bold">e)</text>
<line x1="1380.8" y1="569.8" x2="1421.8" y2="569.8" stroke="#d62728" stroke-width="4.6" stroke-dasharray="1.3 2.2"/>
<path d="M1400.8 558.7L1407.4 569.8L1400.8 580.9L1394.2 569.8Z" fill="#d62728"/>
<text x="1432.30" y="581.10" font-family="'DejaVu Sans','Liberation Sans',sans-serif" font-size="36.4" text-anchor="start" fill="#d62728" letter-spacing="0.85">India ink</text>
<line x1="1380.8" y1="603.6" x2="1421.8" y2="603.6" stroke="#ff7f0e" stroke-width="4.6" stroke-dasharray="1.3 2.2"/>
<path d="M1392.5 603.6L1409.1 595.3V611.9Z" fill="#ff7f0e"/>
<text x="1432.30" y="614.90" font-family="'DejaVu Sans','Liberation Sans',sans-serif" font-size="36.4" text-anchor="start" fill="#ff7f0e" letter-spacing="0.85">MBink</text>
<line x1="1380.8" y1="637.4" x2="1421.8" y2="637.4" stroke="#000" stroke-width="4.6" stroke-dasharray="1.3 2.2"/>
<rect x="1393.1" y="629.7" width="15.4" height="15.4" fill="#000"/>
<text x="1432.30" y="648.70" font-family="'DejaVu Sans','Liberation Sans',sans-serif" font-size="36.4" text-anchor="start" fill="#000" letter-spacing="0.85">Water</text>
<line x1="1380.8" y1="671.2" x2="1421.8" y2="671.2" stroke="#1f77b4" stroke-width="4.6" stroke-dasharray="1.3 2.2"/>
<circle cx="1400.8" cy="671.2" r="8.3" fill="#1f77b4"/>
<text x="1432.30" y="682.50" font-family="'DejaVu Sans','Liberation Sans',sans-serif" font-size="36.4" text-anchor="start" fill="#1f77b4" letter-spacing="0.85">MB</text>
</svg>
</body></html>
